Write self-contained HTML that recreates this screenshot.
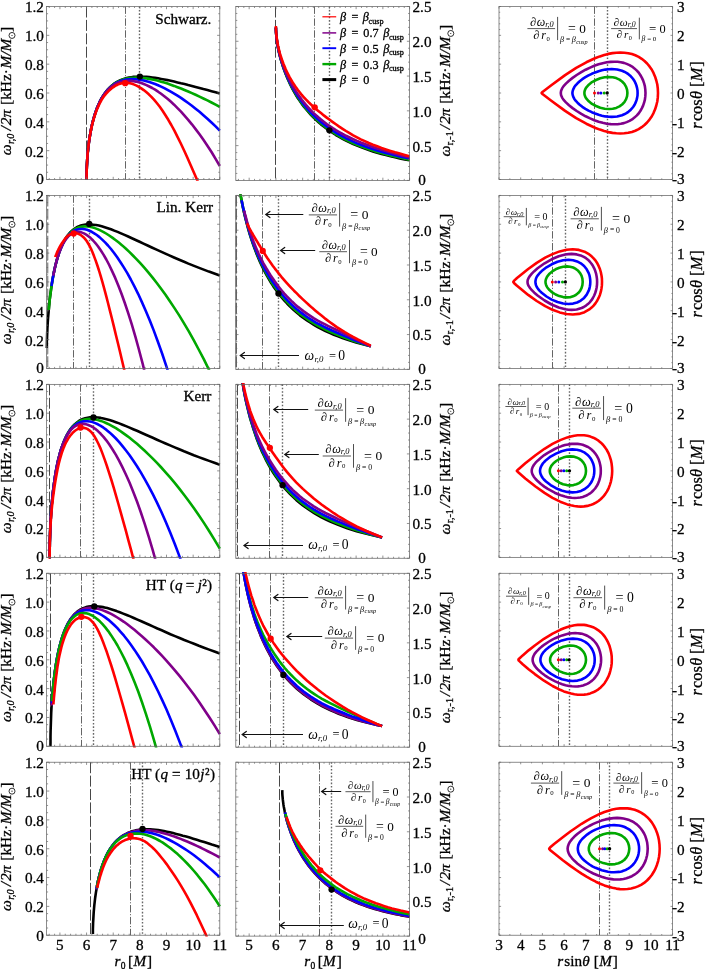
<!DOCTYPE html>
<html><head><meta charset="utf-8"><title>figure</title>
<style>
html,body{margin:0;padding:0;background:#fff;}
svg{display:block;will-change:transform;}
text{font-family:"Liberation Serif",serif;fill:#000;}
text.b{stroke:#000;stroke-width:0.3px;}
</style></head><body>
<svg width="706" height="969" viewBox="0 0 706 969">
<rect width="706" height="969" fill="#fff"/>
<clipPath id="c00"><rect x="45.3" y="5.2" width="175.8" height="175.6"/></clipPath>
<path d="M86.5 6.5V179.5" stroke="#333" stroke-width="0.9" stroke-dasharray="11 2.4" fill="none"/>
<path d="M125.5 6.5V179.5" stroke="#222" stroke-width="0.7" stroke-dasharray="7.4 1.7 1.1 1.7" fill="none"/>
<path d="M139.5 6.5V179.5" stroke="#666" stroke-width="1.4" stroke-dasharray="1.6 1.8" fill="none"/>
<path d="M86.6 179.5L86.6 176.8L86.6 173.6L86.7 170.3L86.8 166.9L87 163.5L87.2 160L87.4 156.4L87.7 152.9L88.1 149.3L88.5 145.8L88.9 142.2L89.4 138.7L90 135.3L90.6 131.9L91.2 128.5L91.9 125.2L92.7 122L93.5 118.9L94.4 115.9L95.3 112.9L96.3 110.1L97.3 107.3L98.5 104.7L99.6 102.1L100.8 99.7L102.1 97.4L103.5 95.2L104.9 93.2L106.4 91.2L107.9 89.4L109.5 87.7L111.1 86.2L112.9 84.7L114.6 83.4L116.5 82.2L118.4 81.2L120.4 80.2L122.4 79.4L124.5 78.7L126.7 78.1L129 77.6L131.3 77.2L133.6 76.9L136.1 76.7L138.6 76.6L141.2 76.6L143.8 76.7L146.5 76.9L149.3 77.1L152.2 77.5L155.1 77.9L158.1 78.3L161.1 78.9L164.3 79.5L167.5 80.1L170.7 80.8L174.1 81.6L177.5 82.4L181 83.3L184.5 84.1L188.2 85.1L191.9 86L195.6 87L199.5 88L203.4 89.1L207.4 90.1L211.5 91.2L215.6 92.3L219.8 93.4" stroke="#000000" stroke-width="2.6" fill="none" stroke-linejoin="round" stroke-linecap="butt" clip-path="url(#c00)"/>
<path d="M86.6 179.5L86.6 176.8L86.6 173.6L86.7 170.3L86.8 166.9L87 163.5L87.2 160L87.4 156.4L87.7 152.9L88.1 149.3L88.5 145.8L88.9 142.2L89.4 138.7L90 135.3L90.6 131.9L91.2 128.5L91.9 125.2L92.7 122L93.5 118.9L94.4 115.9L95.3 112.9L96.3 110.1L97.3 107.3L98.5 104.7L99.6 102.2L100.8 99.7L102.1 97.4L103.5 95.3L104.9 93.2L106.4 91.3L107.9 89.5L109.5 87.9L111.1 86.3L112.9 84.9L114.6 83.6L116.5 82.5L118.4 81.5L120.4 80.6L122.4 79.8L124.5 79.1L126.7 78.6L129 78.2L131.3 77.9L133.6 77.7L136.1 77.6L138.6 77.7L141.2 77.8L143.8 78.1L146.5 78.4L149.3 78.9L152.2 79.4L155.1 80.1L158.1 80.8L161.1 81.7L164.3 82.6L167.5 83.6L170.7 84.7L174.1 85.9L177.5 87.2L181 88.5L184.5 90L188.2 91.5L191.9 93.1L195.6 94.8L199.5 96.6L203.4 98.5L207.4 100.4L211.5 102.5L215.6 104.6L219.8 106.9" stroke="#00a800" stroke-width="2.6" fill="none" stroke-linejoin="round" stroke-linecap="butt" clip-path="url(#c00)"/>
<path d="M86.6 179.5L86.6 176.8L86.6 173.6L86.7 170.3L86.8 166.9L87 163.5L87.2 160L87.4 156.4L87.7 152.9L88.1 149.3L88.5 145.8L88.9 142.2L89.4 138.7L90 135.3L90.6 131.9L91.2 128.5L91.9 125.2L92.7 122L93.5 118.9L94.4 115.9L95.3 112.9L96.3 110.1L97.3 107.3L98.5 104.7L99.6 102.2L100.8 99.8L102.1 97.5L103.5 95.4L104.9 93.3L106.4 91.4L107.9 89.7L109.5 88.1L111.1 86.6L112.9 85.2L114.6 84L116.5 82.9L118.4 81.9L120.4 81.1L122.4 80.5L124.5 79.9L126.7 79.5L129 79.3L131.3 79.1L133.6 79.1L136.1 79.3L138.6 79.6L141.2 80L143.8 80.5L146.5 81.2L149.3 82L152.2 83L155.1 84L158.1 85.3L161.1 86.6L164.3 88.1L167.5 89.8L170.7 91.6L174.1 93.6L177.5 95.7L181 97.9L184.5 100.4L188.2 103L191.9 105.7L195.6 108.7L199.5 111.8L203.4 115.2L207.4 118.7L211.5 122.5L215.6 126.4L219.8 130.6" stroke="#0000ff" stroke-width="2.6" fill="none" stroke-linejoin="round" stroke-linecap="butt" clip-path="url(#c00)"/>
<path d="M86.6 179.5L86.6 176.8L86.6 173.6L86.7 170.3L86.8 166.9L87 163.5L87.2 160L87.4 156.4L87.7 152.9L88.1 149.3L88.5 145.8L88.9 142.2L89.4 138.7L90 135.3L90.6 131.9L91.2 128.5L91.9 125.3L92.7 122L93.5 118.9L94.4 115.9L95.3 113L96.3 110.1L97.3 107.4L98.5 104.8L99.6 102.3L100.8 99.9L102.1 97.6L103.5 95.5L104.9 93.5L106.4 91.6L107.9 89.9L109.5 88.3L111.1 86.9L112.9 85.6L114.6 84.5L116.5 83.5L118.4 82.6L120.4 82L122.4 81.4L124.5 81.1L126.7 80.8L129 80.8L131.3 80.9L133.6 81.2L136.1 81.6L138.6 82.2L141.2 83L143.8 84L146.5 85.1L149.3 86.5L152.2 88L155.1 89.7L158.1 91.7L161.1 93.8L164.3 96.2L167.5 98.8L170.7 101.6L174.1 104.7L177.5 108.1L181 111.7L184.5 115.6L188.2 119.8L191.9 124.3L195.6 129.1L199.5 134.3L203.4 139.8L207.4 145.7L211.5 152L215.6 158.8L219.8 166" stroke="#80008a" stroke-width="2.6" fill="none" stroke-linejoin="round" stroke-linecap="butt" clip-path="url(#c00)"/>
<path d="M86.6 179.5L86.6 177L86.6 174.1L86.7 171.1L86.8 168L86.9 164.9L87.1 161.7L87.3 158.5L87.5 155.2L87.8 152L88.2 148.7L88.5 145.5L88.9 142.3L89.4 139.1L89.9 136L90.4 132.9L91 129.9L91.7 126.9L92.3 124L93.1 121.2L93.9 118.4L94.7 115.7L95.6 113.1L96.5 110.6L97.5 108.2L98.5 105.9L99.5 103.7L100.7 101.6L101.8 99.5L103.1 97.6L104.4 95.8L105.7 94.1L107.1 92.6L108.5 91.1L110 89.7L111.5 88.4L113.1 87.3L114.8 86.2L116.5 85.2L118.2 84.4L120.1 83.7L121.9 83.2L123.8 82.9L125.8 82.8L127.9 82.9L130 83.2L132.1 83.8L134.3 84.6L136.6 85.6L138.9 86.9L141.3 88.4L143.7 90.1L146.2 92.1L148.8 94.3L151.4 96.9L154 99.7L156.8 103L159.6 106.5L162.4 110.5L165.3 115L168.3 119.8L171.3 125L174.4 130.7L177.5 136.8L180.7 143.3L184 150.2L187.3 157.5L190.7 165.2L194.2 173.2L197.7 181.3" stroke="#ff0000" stroke-width="2.6" fill="none" stroke-linejoin="round" stroke-linecap="butt" clip-path="url(#c00)"/>
<circle cx="125.21" cy="83.2" r="3.15" fill="#ff0000"/>
<circle cx="139.86" cy="76.56" r="3.15" fill="#000000"/>
<clipPath id="c10"><rect x="234.5" y="5.2" width="176.4" height="176.5"/></clipPath>
<path d="M275.5 6.5V180.4" stroke="#333" stroke-width="0.9" stroke-dasharray="11 2.4" fill="none"/>
<path d="M314.5 6.5V180.4" stroke="#222" stroke-width="0.7" stroke-dasharray="7.4 1.7 1.1 1.7" fill="none"/>
<path d="M329.5 6.5V180.4" stroke="#666" stroke-width="1.4" stroke-dasharray="1.6 1.8" fill="none"/>
<path d="M275.9 27.5L275.9 29.1L276 31L276.1 33.1L276.3 35.2L276.5 37.5L276.8 39.9L277.1 42.4L277.6 45L278 47.7L278.6 50.5L279.2 53.3L279.9 56.1L280.7 59.1L281.6 62L282.5 65L283.5 68L284.6 71.1L285.7 74.1L287 77.2L288.3 80.2L289.7 83.3L291.2 86.3L292.7 89.3L294.4 92.3L296.1 95.3L297.9 98.2L299.9 101L301.8 103.9L303.9 106.6L306.1 109.3L308.4 112L310.7 114.6L313.1 117.1L315.7 119.6L318.3 122L321 124.4L323.8 126.6L326.7 128.8L329.7 131L332.8 133L335.9 135L339.2 136.9L342.6 138.8L346 140.6L349.6 142.3L353.2 144L357 145.6L360.8 147.1L364.8 148.6L368.8 150L372.9 151.4L377.2 152.7L381.5 153.9L385.9 155.1L390.5 156.2L395.1 157.3L399.8 158.4L404.7 159.4L409.6 160.3" stroke="#000000" stroke-width="2.6" fill="none" stroke-linejoin="round" stroke-linecap="butt" clip-path="url(#c10)"/>
<path d="M275.9 27.5L275.9 29.1L276 31L276.1 33L276.3 35.2L276.5 37.5L276.8 39.9L277.1 42.4L277.6 45L278 47.6L278.6 50.4L279.2 53.1L279.9 56L280.7 58.9L281.6 61.8L282.5 64.8L283.5 67.8L284.6 70.8L285.7 73.8L287 76.8L288.3 79.8L289.7 82.8L291.2 85.8L292.7 88.8L294.4 91.7L296.1 94.7L297.9 97.5L299.9 100.4L301.8 103.2L303.9 105.9L306.1 108.6L308.4 111.3L310.7 113.8L313.1 116.4L315.7 118.8L318.3 121.2L321 123.5L323.8 125.8L326.7 128L329.7 130.1L332.8 132.2L335.9 134.2L339.2 136.1L342.6 138L346 139.8L349.6 141.5L353.2 143.2L357 144.8L360.8 146.3L364.8 147.8L368.8 149.2L372.9 150.6L377.2 151.9L381.5 153.1L385.9 154.3L390.5 155.5L395.1 156.6L399.8 157.6L404.7 158.7L409.6 159.6" stroke="#00a800" stroke-width="2.6" fill="none" stroke-linejoin="round" stroke-linecap="butt" clip-path="url(#c10)"/>
<path d="M275.9 27.5L275.9 29.1L276 31L276.1 33L276.3 35.2L276.5 37.5L276.8 39.8L277.1 42.3L277.6 44.9L278 47.5L278.6 50.2L279.2 52.9L279.9 55.7L280.7 58.5L281.6 61.4L282.5 64.3L283.5 67.2L284.6 70.2L285.7 73.1L287 76.1L288.3 79L289.7 81.9L291.2 84.8L292.7 87.7L294.4 90.6L296.1 93.4L297.9 96.2L299.9 99L301.8 101.8L303.9 104.5L306.1 107.2L308.4 109.8L310.7 112.3L313.1 114.8L315.7 117.3L318.3 119.6L321 122L323.8 124.2L326.7 126.4L329.7 128.5L332.8 130.6L335.9 132.6L339.2 134.5L342.6 136.4L346 138.2L349.6 139.9L353.2 141.6L357 143.2L360.8 144.7L364.8 146.2L368.8 147.7L372.9 149.1L377.2 150.4L381.5 151.7L385.9 152.9L390.5 154.1L395.1 155.3L399.8 156.4L404.7 157.5L409.6 158.6" stroke="#0000ff" stroke-width="2.6" fill="none" stroke-linejoin="round" stroke-linecap="butt" clip-path="url(#c10)"/>
<path d="M275.9 27.5L275.9 29.1L276 31L276.1 33L276.3 35.2L276.5 37.4L276.8 39.7L277.1 42.2L277.6 44.7L278 47.2L278.6 49.9L279.2 52.5L279.9 55.3L280.7 58L281.6 60.8L282.5 63.6L283.5 66.4L284.6 69.3L285.7 72.1L287 74.9L288.3 77.7L289.7 80.5L291.2 83.3L292.7 86.1L294.4 88.9L296.1 91.6L297.9 94.3L299.9 97L301.8 99.7L303.9 102.4L306.1 105L308.4 107.6L310.7 110.1L313.1 112.6L315.7 114.9L318.3 117.3L321 119.6L323.8 121.8L326.7 124L329.7 126.1L332.8 128.2L335.9 130.2L339.2 132.1L342.6 134L346 135.8L349.6 137.5L353.2 139.2L357 140.9L360.8 142.5L364.8 144L368.8 145.5L372.9 147L377.2 148.4L381.5 149.8L385.9 151.1L390.5 152.4L395.1 153.7L399.8 155L404.7 156.3L409.6 157.6" stroke="#80008a" stroke-width="2.6" fill="none" stroke-linejoin="round" stroke-linecap="butt" clip-path="url(#c10)"/>
<path d="M275.9 26.1L275.9 27.7L276 29.6L276.1 31.6L276.3 33.7L276.5 35.9L276.8 38.2L277.1 40.6L277.6 43L278 45.5L278.6 48.1L279.2 50.7L279.9 53.3L280.7 55.9L281.6 58.6L282.5 61.3L283.5 64L284.6 66.6L285.7 69.3L287 72L288.3 74.6L289.7 77.3L291.2 79.9L292.7 82.5L294.4 85L296.1 87.6L297.9 90.1L299.9 92.5L301.8 95L303.9 97.3L306.1 99.7L308.4 102L310.7 104.2L313.1 106.5L315.7 108.7L318.3 110.9L321 113.1L323.8 115.4L326.7 117.6L329.7 119.8L332.8 122.1L335.9 124.3L339.2 126.6L342.6 128.8L346 131L349.6 133.2L353.2 135.3L357 137.3L360.8 139.3L364.8 141.2L368.8 143L372.9 144.7L377.2 146.3L381.5 147.9L385.9 149.4L390.5 150.9L395.1 152.3L399.8 153.6L404.7 154.9L409.6 156.2" stroke="#ff0000" stroke-width="2.6" fill="none" stroke-linejoin="round" stroke-linecap="butt" clip-path="url(#c10)"/>
<circle cx="314.68" cy="107.36" r="3.15" fill="#ff0000"/>
<circle cx="329.38" cy="130.32" r="3.15" fill="#000000"/>
<clipPath id="c20"><rect x="497.7" y="5.2" width="176.2" height="175.6"/></clipPath>
<path d="M594.5 6.5V179.5" stroke="#222" stroke-width="0.7" stroke-dasharray="7.4 1.7 1.1 1.7" fill="none"/>
<path d="M607.5 6.5V179.5" stroke="#666" stroke-width="1.4" stroke-dasharray="1.6 1.8" fill="none"/>
<path d="M541.6 93L542.8 91.7L551.3 85.2L565.1 75.1L576.2 67.9L586.3 62.3L595.5 58L599.9 56.4L604.2 55L608.4 53.9L612.5 53.1L616.4 52.7L620.3 52.5L624.3 52.7L628.2 53.2L631.9 54.1L635.3 55.3L638.7 56.9L641.7 58.8L644.5 61L647.1 63.5L649.5 66.4L651.7 69.5L653.5 72.9L655.1 76.7L656.3 80.5L657.3 84.5L657.8 88.6L658 93L657.8 97.4L657.3 101.5L656.3 105.5L655.1 109.3L653.5 113.1L651.7 116.5L649.5 119.6L647.1 122.5L644.5 125L641.7 127.2L638.7 129.1L635.3 130.7L631.9 131.9L628.2 132.8L624.3 133.3L620.3 133.5L616.4 133.3L612.5 132.9L608.4 132.1L604.2 131L599.9 129.6L595.5 128L586.3 123.7L576.2 118.1L565.1 110.9L551.3 100.8L542.8 94.3Z" stroke="#ff0000" stroke-width="2.6" fill="none" stroke-linejoin="round"/>
<path d="M560.8 93L561.1 90.7L562.1 88.4L563.6 86.1L565.9 83.6L569 80.7L572.6 77.9L576.7 75L581.3 72.1L585.6 69.7L590.1 67.6L594.3 65.8L598.6 64.3L602.7 63.2L606.8 62.3L610.7 61.9L614.4 61.7L617.6 61.8L620.8 62.3L623.9 62.9L626.7 63.9L629.5 65.1L632.1 66.6L634.4 68.4L636.6 70.4L638.6 72.5L640.3 75L641.8 77.6L643.1 80.4L644.1 83.3L644.9 86.4L645.3 89.6L645.5 93L645.3 96.4L644.9 99.6L644.1 102.7L643.1 105.6L641.8 108.4L640.3 111L638.6 113.5L636.6 115.6L634.4 117.6L632.1 119.4L629.5 120.9L626.7 122.1L623.9 123.1L620.8 123.7L617.6 124.2L614.4 124.3L610.7 124.1L606.8 123.7L602.7 122.8L598.6 121.7L594.3 120.2L590.1 118.4L585.6 116.3L581.3 113.9L576.7 111L572.6 108.1L569 105.3L565.9 102.4L563.6 99.9L562.1 97.6L561.1 95.3Z" stroke="#80008a" stroke-width="2.6" fill="none" stroke-linejoin="round"/>
<path d="M572.4 93L572.6 91.3L573.2 89.3L574.2 87.3L575.6 85.3L577.5 83.3L579.7 81.3L582.3 79.2L585.4 77.2L588.5 75.4L591.8 73.8L595.2 72.4L598.6 71.2L601.9 70.3L605.3 69.6L608.6 69.2L611.7 69.1L614.5 69.2L617.2 69.5L622 70.8L624.2 71.7L626.4 72.9L628.4 74.2L630.2 75.7L631.7 77.3L633.3 79.3L634.6 81.3L635.7 83.6L636.5 85.8L637.1 88.1L637.5 90.4L637.6 93L637.5 95.6L637.1 97.9L636.5 100.2L635.7 102.4L634.6 104.7L633.3 106.7L631.7 108.7L630.2 110.3L628.4 111.8L626.4 113.1L624.2 114.3L622 115.2L617.2 116.5L614.5 116.8L611.7 116.9L608.6 116.8L605.3 116.4L601.9 115.7L598.6 114.8L595.2 113.6L591.8 112.2L588.5 110.6L585.4 108.8L582.3 106.8L579.7 104.7L577.5 102.7L575.6 100.7L574.2 98.7L573.2 96.7L572.6 94.7Z" stroke="#0000ff" stroke-width="2.6" fill="none" stroke-linejoin="round"/>
<path d="M584.4 93L584.5 91.6L584.9 90.2L585.5 88.7L586.4 87.3L588.8 84.7L592 82.1L596 80L600.3 78.3L604.7 77.3L609 77L612.7 77.3L616.2 78.1L619.5 79.6L622.1 81.5L624.4 83.9L626.1 86.8L627.1 89.9L627.4 93L627.1 96.1L626.1 99.2L624.4 102.1L622.1 104.5L619.5 106.4L616.2 107.9L612.7 108.7L609 109L604.7 108.7L600.3 107.7L596 106L592 103.9L588.8 101.3L586.4 98.7L585.5 97.3L584.9 95.8L584.5 94.4Z" stroke="#00a800" stroke-width="2.6" fill="none" stroke-linejoin="round"/>
<circle cx="594.5" cy="93" r="1.5" fill="#ff0000"/>
<circle cx="598.2" cy="93" r="1.5" fill="#80008a"/>
<circle cx="600.9" cy="93" r="1.5" fill="#0000ff"/>
<circle cx="604.2" cy="93" r="1.5" fill="#00a800"/>
<circle cx="607.2" cy="93" r="1.65" fill="#000"/>
<clipPath id="c01"><rect x="45.3" y="194.13" width="175.8" height="175.6"/></clipPath>
<path d="M47.7 195.43V368.43" stroke="#8a8a8a" stroke-width="1.3" stroke-dasharray="11 2.4" fill="none"/>
<path d="M73.5 195.43V368.43" stroke="#222" stroke-width="0.7" stroke-dasharray="7.4 1.7 1.1 1.7" fill="none"/>
<path d="M89.5 195.43V368.43" stroke="#666" stroke-width="1.4" stroke-dasharray="1.6 1.8" fill="none"/>
<path d="M46.6 348.1L46.6 347.5L46.7 345.6L46.8 342.4L46.9 338.3L47.1 333.6L47.4 328.5L47.7 323.1L48.1 317.5L48.6 311.9L49.1 306.2L49.6 300.6L50.3 295L51 289.6L51.8 284.3L52.6 279.1L53.6 274.1L54.5 269.3L55.6 264.7L56.7 260.3L58 256.1L59.2 252.2L60.6 248.6L62 245.2L63.6 242.1L65.2 239.2L66.8 236.6L68.6 234.3L70.4 232.2L72.3 230.4L74.3 228.8L76.4 227.5L78.5 226.4L80.8 225.6L83.1 225L85.5 224.6L88 224.4L90.6 224.4L93.2 224.7L96 225L98.8 225.6L101.7 226.3L104.7 227.2L107.8 228.2L111 229.3L114.2 230.6L117.6 231.9L121 233.4L124.5 234.9L128.2 236.5L131.9 238.2L135.7 240L139.6 241.8L143.5 243.6L147.6 245.5L151.8 247.5L156 249.4L160.4 251.4L164.8 253.4L169.3 255.4L174 257.5L178.7 259.5L183.5 261.5L188.4 263.6L193.4 265.6L198.5 267.6L203.7 269.6L208.9 271.6L214.3 273.5L219.8 275.5" stroke="#000000" stroke-width="2.6" fill="none" stroke-linejoin="round" stroke-linecap="butt" clip-path="url(#c01)"/>
<path d="M48.7 310L48.7 309.9L48.8 309.2L48.9 308.1L49 306.5L49.3 304.4L49.5 301.9L49.8 298.9L50.2 295.7L50.7 292.2L51.2 288.5L51.7 284.6L52.4 280.6L53.1 276.6L53.8 272.6L54.7 268.7L55.6 264.8L56.6 261L57.6 257.3L58.7 253.8L59.9 250.4L61.2 247.2L62.6 244.2L64 241.5L65.5 238.9L67.1 236.6L68.7 234.5L70.4 232.6L72.2 231L74.1 229.6L76.1 228.5L78.1 227.6L80.3 227L82.5 226.6L84.8 226.4L87.2 226.5L89.6 226.8L92.1 227.3L94.8 228.1L97.5 229.1L100.3 230.4L103.2 231.8L106.1 233.5L109.2 235.5L112.3 237.6L115.5 240L118.8 242.6L122.2 245.4L125.7 248.5L129.3 251.9L132.9 255.5L136.7 259.3L140.5 263.4L144.5 267.9L148.5 272.6L152.6 277.6L156.8 283L161.1 288.7L165.5 294.7L169.9 301.2L174.5 308.1L179.2 315.4L183.9 323.1L188.8 331.4L193.7 340.2L198.7 349.5L203.9 359.4L209.1 370L214.4 381.2" stroke="#00a800" stroke-width="2.6" fill="none" stroke-linejoin="round" stroke-linecap="butt" clip-path="url(#c01)"/>
<path d="M51.5 286L51.5 285.9L51.6 285.5L51.7 284.9L51.8 283.9L52 282.6L52.3 281L52.6 279.2L53 277.1L53.4 274.8L53.9 272.2L54.5 269.6L55.1 266.8L55.8 264L56.6 261.1L57.4 258.2L58.3 255.3L59.2 252.4L60.3 249.7L61.4 247L62.6 244.5L63.8 242.1L65.1 239.8L66.5 237.8L68 235.9L69.6 234.2L71.2 232.7L72.9 231.5L74.7 230.5L76.5 229.7L78.5 229.2L80.5 229L82.6 229L84.7 229.3L87 229.8L89.3 230.7L91.7 231.8L94.2 233.3L96.8 235L99.5 237.1L102.2 239.6L105.1 242.4L108 245.5L111 249L114.1 253L117.2 257.3L120.5 262.2L123.8 267.4L127.3 273.2L130.8 279.5L134.4 286.4L138.1 293.8L141.8 301.9L145.7 310.7L149.7 320.2L153.7 330.4L157.8 341.5L162.1 353.5L166.4 366.4L170.8 380.2" stroke="#0000ff" stroke-width="2.6" fill="none" stroke-linejoin="round" stroke-linecap="butt" clip-path="url(#c01)"/>
<path d="M53.3 275.5L53.3 275.4L53.4 275.2L53.5 274.6L53.6 273.9L53.8 272.9L54.1 271.6L54.4 270.2L54.7 268.5L55.2 266.6L55.7 264.6L56.2 262.4L56.8 260.2L57.5 257.8L58.3 255.5L59.1 253.1L60 250.7L60.9 248.4L62 246.1L63 243.9L64.2 241.9L65.4 240L66.8 238.2L68.1 236.6L69.6 235.3L71.1 234.1L72.7 233.2L74.4 232.5L76.2 232.1L78 231.9L79.9 232.1L81.9 232.6L84 233.4L86.2 234.6L88.4 236.2L90.7 238.1L93.1 240.5L95.6 243.3L98.1 246.5L100.7 250.3L103.5 254.6L106.3 259.5L109.2 265L112.1 271.1L115.2 277.9L118.3 285.5L121.5 293.8L124.8 303L128.2 313.1L131.7 324.1L135.3 336.3L138.9 349.5L142.7 363.9L146.5 379.7" stroke="#80008a" stroke-width="2.6" fill="none" stroke-linejoin="round" stroke-linecap="butt" clip-path="url(#c01)"/>
<path d="M55.4 256.9L55.4 256.9L55.4 256.8L55.5 256.7L55.5 256.5L55.6 256.3L55.7 256L55.8 255.6L56 255.2L56.2 254.7L56.4 254.1L56.6 253.5L56.9 252.9L57.1 252.2L57.5 251.5L57.8 250.8L58.2 250L58.6 249.2L59 248.3L59.4 247.5L59.9 246.6L60.4 245.7L61 244.8L61.5 243.8L62.2 242.9L62.8 241.9L63.5 240.9L64.2 239.9L64.9 238.9L65.6 238L66.4 237.1L67.3 236.3L68.1 235.6L69 235L69.9 234.4L70.9 234L71.9 233.7L72.9 233.4L74 233.3L75.1 233.2L76.2 233.3L77.4 233.5L78.5 233.9L79.8 234.5L81 235.2L82.3 236.2L83.7 237.4L85 238.9L86.5 240.8L87.9 243L89.4 245.6L90.9 248.6L92.4 252.1L94 256.1L95.6 260.4L97.3 265.3L99 270.5L100.7 276.2L102.5 282.3L104.3 288.8L106.1 295.7L108 303L109.9 310.6L111.9 318.5L113.9 326.6L115.9 335L118 343.5L120.1 352.3L122.2 361.3L124.4 370.5" stroke="#ff0000" stroke-width="2.6" fill="none" stroke-linejoin="round" stroke-linecap="butt" clip-path="url(#c01)"/>
<circle cx="73.67" cy="233.49" r="3.15" fill="#ff0000"/>
<circle cx="89.23" cy="223.9" r="3.15" fill="#000000"/>
<clipPath id="c11"><rect x="234.5" y="194.13" width="176.4" height="176.5"/></clipPath>
<path d="M236.2 195.43V369.33" stroke="#333" stroke-width="1.1" stroke-dasharray="11 2.4" fill="none"/>
<path d="M262.5 195.43V369.33" stroke="#222" stroke-width="0.7" stroke-dasharray="7.4 1.7 1.1 1.7" fill="none"/>
<path d="M278.5 195.43V369.33" stroke="#666" stroke-width="1.4" stroke-dasharray="1.6 1.8" fill="none"/>
<path d="M235.8 153.2L235.8 153.6L235.9 154.8L236 156.7L236.2 159.3L236.4 162.3L236.7 165.7L237 169.4L237.5 173.3L238 177.5L238.5 181.8L239.2 186.2L239.9 190.7L240.6 195.4L241.5 200.1L242.4 204.9L243.4 209.8L244.5 214.6L245.7 219.5L247 224.4L248.3 229.3L249.7 234.1L251.2 238.9L252.8 243.6L254.5 248.3L256.2 252.9L258.1 257.5L260 261.9L262 266.2L264.1 270.5L266.3 274.6L268.6 278.7L270.9 282.6L273.4 286.4L276 290L278.6 293.6L281.3 297L284.2 300.3L287.1 303.5L290.1 306.6L293.2 309.5L296.4 312.3L299.7 315.1L303.1 317.7L306.6 320.1L310.2 322.5L313.9 324.8L317.7 327L321.6 329L325.5 331L329.6 332.9L333.8 334.7L338.1 336.4L342.4 338L346.9 339.6L351.5 341.1L356.2 342.5L361 343.8L365.8 345.1L370.8 346.3" stroke="#000000" stroke-width="2.6" fill="none" stroke-linejoin="round" stroke-linecap="butt" clip-path="url(#c11)"/>
<path d="M235.8 153.2L235.8 153.6L235.9 154.8L236 156.7L236.2 159.3L236.4 162.3L236.7 165.7L237 169.3L237.5 173.2L238 177.3L238.5 181.6L239.2 185.9L239.9 190.4L240.6 195L241.5 199.7L242.4 204.4L243.4 209.2L244.5 214L245.7 218.8L247 223.7L248.3 228.5L249.7 233.3L251.2 238L252.8 242.7L254.5 247.3L256.2 251.9L258.1 256.4L260 260.7L262 265L264.1 269.2L266.3 273.3L268.6 277.3L270.9 281.2L273.4 285L276 288.6L278.6 292.2L281.3 295.6L284.2 298.9L287.1 302.1L290.1 305.2L293.2 308.1L296.4 310.9L299.7 313.7L303.1 316.3L306.6 318.7L310.2 321.1L313.9 323.4L317.7 325.6L321.6 327.7L325.5 329.6L329.6 331.5L333.8 333.3L338.1 335.1L342.4 336.8L346.9 338.5L351.5 340.2L356.2 341.8L361 343.3L365.8 344.8L370.8 346.3" stroke="#00a800" stroke-width="2.6" fill="none" stroke-linejoin="round" stroke-linecap="butt" clip-path="url(#c11)"/>
<path d="M241.7 200.3L241.7 200.4L241.7 200.7L241.8 201.2L242 202.1L242.2 203.2L242.5 204.5L242.8 206.1L243.2 208L243.7 210.1L244.3 212.5L244.9 215L245.5 217.8L246.3 220.7L247.1 223.8L248 226.9L249 230.2L250 233.6L251.1 237.1L252.3 240.6L253.6 244.1L255 247.7L256.4 251.3L257.9 254.8L259.5 258.4L261.2 261.9L262.9 265.4L264.8 268.9L266.7 272.3L268.7 275.7L270.8 279L273 282.3L275.3 285.6L277.6 288.8L280.1 292L282.6 295L285.2 298L287.9 300.9L290.7 303.7L293.6 306.4L296.6 309L299.7 311.5L302.8 313.9L306.1 316.3L309.4 318.5L312.8 320.7L316.4 322.8L320 324.7L323.7 326.6L327.5 328.5L331.4 330.2L335.4 332L339.5 333.8L343.7 335.6L348 337.4L352.3 339.2L356.8 341L361.4 342.8L366.1 344.5L370.8 346.3" stroke="#0000ff" stroke-width="2.6" fill="none" stroke-linejoin="round" stroke-linecap="butt" clip-path="url(#c11)"/>
<path d="M244.2 210.7L244.2 210.8L244.3 211L244.4 211.5L244.5 212.1L244.7 213L245 214.1L245.4 215.4L245.8 216.9L246.2 218.7L246.7 220.6L247.3 222.7L248 225L248.7 227.4L249.5 230L250.4 232.7L251.4 235.5L252.4 238.4L253.5 241.4L254.7 244.4L255.9 247.4L257.2 250.5L258.6 253.7L260.1 256.8L261.7 259.9L263.3 263.1L265.1 266.2L266.9 269.3L268.8 272.4L270.7 275.5L272.8 278.5L274.9 281.6L277.2 284.7L279.5 287.7L281.9 290.7L284.3 293.6L286.9 296.4L289.6 299.1L292.3 301.8L295.1 304.4L298 306.9L301.1 309.3L304.1 311.6L307.3 313.9L310.6 316.1L314 318.3L317.4 320.3L321 322.3L324.6 324.2L328.4 326.1L332.2 327.9L336.1 329.7L340.1 331.7L344.2 333.7L348.4 335.7L352.7 337.8L357.1 339.9L361.6 342L366.2 344.2L370.8 346.3" stroke="#80008a" stroke-width="2.6" fill="none" stroke-linejoin="round" stroke-linecap="butt" clip-path="url(#c11)"/>
<path d="M246.9 223.3L246.9 223.3L247 223.4L247.1 223.7L247.3 224L247.5 224.5L247.7 225L248.1 225.7L248.5 226.5L248.9 227.4L249.4 228.4L250 229.5L250.7 230.7L251.4 231.9L252.2 233.2L253 234.7L253.9 236.2L254.9 237.9L256 239.7L257.2 241.6L258.4 243.7L259.7 245.8L261.1 248.1L262.5 250.5L264.1 253L265.7 255.5L267.3 258L269.1 260.6L271 263.2L272.9 265.9L274.9 268.6L277 271.3L279.2 274.1L281.4 276.8L283.8 279.6L286.2 282.3L288.7 285.1L291.3 287.9L294 290.7L296.8 293.4L299.6 296.3L302.6 299.1L305.6 301.9L308.7 304.7L311.9 307.6L315.2 310.4L318.6 313.3L322.1 316.1L325.6 318.9L329.3 321.7L333 324.4L336.8 327.1L340.8 329.6L344.8 332.1L348.9 334.5L353.1 336.9L357.4 339.2L361.8 341.4L366.3 343.6L370.8 345.7" stroke="#ff0000" stroke-width="2.6" fill="none" stroke-linejoin="round" stroke-linecap="butt" clip-path="url(#c11)"/>
<circle cx="262.75" cy="250.9" r="3.15" fill="#ff0000"/>
<circle cx="278.45" cy="293.51" r="3.15" fill="#000000"/>
<clipPath id="c21"><rect x="497.7" y="194.13" width="176.2" height="175.6"/></clipPath>
<path d="M552.5 195.43V368.43" stroke="#222" stroke-width="0.7" stroke-dasharray="7.4 1.7 1.1 1.7" fill="none"/>
<path d="M565.5 195.43V368.43" stroke="#666" stroke-width="1.4" stroke-dasharray="1.6 1.8" fill="none"/>
<path d="M513.3 281.9L514.2 280.6L517 278L528.2 269L536.7 262.9L545.2 257.7L552.5 254.1L559.7 251.4L566.5 249.8L572.8 249.3L578.9 249.9L584.5 251.7L589.3 254.4L591.6 256.3L593.6 258.3L595.6 260.7L597.3 263.3L598.6 265.9L599.9 269L600.8 272L601.5 275.4L601.9 278.5L602 281.9L601.9 285.4L601.5 288.4L600.8 291.9L599.9 294.9L598.6 297.9L597.3 300.5L595.6 303.1L593.6 305.6L591.6 307.6L589.3 309.4L584.5 312.2L578.9 313.9L572.8 314.5L566.5 314L559.7 312.4L552.5 309.8L545.2 306.2L536.7 301L528.2 294.9L517 285.8L514.2 283.2Z" stroke="#ff0000" stroke-width="2.6" fill="none" stroke-linejoin="round"/>
<path d="M527.5 281.9L527.7 280.1L528.6 278L530 275.8L531.8 273.7L534.3 271.2L537.6 268.3L544.6 263.3L551.6 259.3L558.7 256.3L565.3 254.5L568.4 254.1L571.6 253.9L576.7 254.4L581.6 255.8L583.8 256.9L586 258.2L587.9 259.7L589.7 261.5L591.5 263.7L592.9 265.8L594.2 268.3L595.2 270.8L596 273.3L596.6 276.2L597 279.1L597.1 281.9L597 284.8L596.6 287.7L596 290.5L595.2 293L594.2 295.5L592.9 298L591.5 300.2L589.7 302.3L587.9 304.1L586 305.6L583.8 307L581.6 308L576.7 309.5L571.6 309.9L568.4 309.8L565.3 309.3L558.7 307.5L551.6 304.5L544.6 300.5L537.6 295.5L534.3 292.7L531.8 290.2L530 288L528.6 285.9L527.7 283.7Z" stroke="#80008a" stroke-width="2.6" fill="none" stroke-linejoin="round"/>
<path d="M535.4 281.9L535.6 280.2L536 278.5L536.8 276.8L538.2 274.8L539.7 273L541.7 271.1L546.5 267.3L551.7 264.3L557.5 261.8L563.2 260.3L568.5 259.8L573.1 260.2L577.1 261.4L580.8 263.3L584.1 266L586.7 269.3L588.7 273.1L589.4 275.1L589.9 277.5L590.2 279.6L590.3 281.9L590.2 284.3L589.9 286.3L589.4 288.7L588.7 290.7L586.7 294.6L584.1 297.9L580.8 300.6L577.1 302.5L573.1 303.6L568.5 304L563.2 303.5L557.5 302L551.7 299.6L546.5 296.5L541.7 292.8L539.7 290.9L538.2 289.1L536.8 287L536 285.3L535.6 283.6Z" stroke="#0000ff" stroke-width="2.6" fill="none" stroke-linejoin="round"/>
<path d="M545.5 281.9L545.6 280.6L546 279.1L546.6 277.7L547.3 276.3L549.5 273.7L552.2 271.4L555.6 269.3L559.3 267.8L563.2 266.8L566.9 266.4L570.1 266.7L573.1 267.5L575.8 268.9L578.2 270.8L580.1 273.1L581.5 275.7L582.4 278.6L582.7 281.9L582.4 285.2L581.5 288.2L580.1 290.8L578.2 293.1L575.8 295L573.1 296.3L570.1 297.2L566.9 297.4L563.2 297.1L559.3 296.1L555.6 294.5L552.2 292.4L549.5 290.1L547.3 287.5L546.6 286.2L546 284.7L545.6 283.2Z" stroke="#00a800" stroke-width="2.6" fill="none" stroke-linejoin="round"/>
<circle cx="552.3" cy="281.93" r="1.5" fill="#ff0000"/>
<circle cx="555.6" cy="281.93" r="1.5" fill="#80008a"/>
<circle cx="558.8" cy="281.93" r="1.5" fill="#0000ff"/>
<circle cx="562.5" cy="281.93" r="1.5" fill="#00a800"/>
<circle cx="565.4" cy="281.93" r="1.65" fill="#000"/>
<clipPath id="c02"><rect x="45.3" y="383.06" width="175.8" height="175.6"/></clipPath>
<path d="M49.5 384.36V557.36" stroke="#333" stroke-width="0.9" stroke-dasharray="11 2.4" fill="none"/>
<path d="M80.5 384.36V557.36" stroke="#222" stroke-width="0.7" stroke-dasharray="7.4 1.7 1.1 1.7" fill="none"/>
<path d="M93.5 384.36V557.36" stroke="#666" stroke-width="1.4" stroke-dasharray="1.6 1.8" fill="none"/>
<path d="M49.3 557.4L49.3 557.4L49.3 557.4L49.4 557.4L49.6 557.4L49.8 542.9L50.1 533.3L50.4 525.5L50.8 518.3L51.2 511.4L51.7 504.9L52.3 498.6L52.9 492.5L53.6 486.6L54.4 480.9L55.2 475.4L56.1 470.1L57.1 465.1L58.1 460.3L59.3 455.7L60.4 451.4L61.7 447.4L63.1 443.6L64.5 440L66 436.8L67.5 433.8L69.2 431L70.9 428.5L72.7 426.3L74.6 424.4L76.6 422.7L78.6 421.2L80.7 420L82.9 419L85.2 418.2L87.6 417.7L90 417.4L92.6 417.2L95.2 417.3L97.9 417.5L100.7 417.9L103.5 418.5L106.5 419.2L109.5 420.1L112.6 421.1L115.9 422.2L119.2 423.4L122.5 424.7L126 426.1L129.6 427.6L133.2 429.2L137 430.8L140.8 432.5L144.7 434.2L148.7 436L152.8 437.8L157 439.7L161.3 441.6L165.6 443.5L170.1 445.4L174.7 447.4L179.3 449.3L184 451.3L188.9 453.2L193.8 455.2L198.8 457.1L203.9 459L209.1 460.9L214.4 462.8L219.8 464.7" stroke="#000000" stroke-width="2.6" fill="none" stroke-linejoin="round" stroke-linecap="butt" clip-path="url(#c02)"/>
<path d="M49.3 557.4L49.3 557.4L49.3 557.4L49.4 557.4L49.6 557.4L49.8 542.9L50.1 533.3L50.4 525.5L50.8 518.3L51.2 511.4L51.7 504.9L52.3 498.6L52.9 492.5L53.6 486.6L54.4 480.9L55.2 475.4L56.1 470.2L57.1 465.1L58.1 460.3L59.3 455.8L60.4 451.5L61.7 447.4L63.1 443.6L64.5 440.1L66 436.9L67.5 433.9L69.2 431.2L70.9 428.8L72.7 426.6L74.6 424.8L76.6 423.2L78.6 421.8L80.7 420.7L82.9 419.9L85.2 419.3L87.6 419L90 418.9L92.6 419.1L95.2 419.4L97.9 420L100.7 420.9L103.5 421.9L106.5 423.2L109.5 424.6L112.6 426.3L115.9 428.2L119.2 430.3L122.5 432.6L126 435.1L129.6 437.8L133.2 440.7L137 443.8L140.8 447.2L144.7 450.8L148.7 454.6L152.8 458.6L157 462.9L161.3 467.5L165.6 472.3L170.1 477.4L174.7 482.9L179.3 488.6L184 494.7L188.9 501.2L193.8 508L198.8 515.2L203.9 522.9L209.1 531L214.4 539.6L219.8 548.7" stroke="#00a800" stroke-width="2.6" fill="none" stroke-linejoin="round" stroke-linecap="butt" clip-path="url(#c02)"/>
<path d="M49.3 557.4L49.3 557.4L49.3 557.4L49.4 557.4L49.6 557.4L49.8 542.9L50.1 533.3L50.4 525.5L50.8 518.3L51.2 511.4L51.7 504.9L52.3 498.6L52.9 492.5L53.6 486.6L54.4 480.9L55.2 475.4L56.1 470.2L57.1 465.1L58.1 460.4L59.3 455.8L60.4 451.5L61.7 447.5L63.1 443.8L64.5 440.3L66 437.1L67.5 434.2L69.2 431.6L70.9 429.2L72.7 427.2L74.6 425.5L76.6 424L78.6 422.9L80.7 422L82.9 421.4L85.2 421.2L87.6 421.2L90 421.5L92.6 422.1L95.2 423.1L97.9 424.3L100.7 425.9L103.5 427.7L106.5 429.9L109.5 432.4L112.6 435.3L115.9 438.5L119.2 442.1L122.5 446.1L126 450.5L129.6 455.2L133.2 460.5L137 466.2L140.8 472.4L144.7 479.1L148.7 486.3L152.8 494.2L157 502.7L161.3 511.8L165.6 521.6L170.1 532.3L174.7 543.7L179.3 555.9L184 569.1" stroke="#0000ff" stroke-width="2.6" fill="none" stroke-linejoin="round" stroke-linecap="butt" clip-path="url(#c02)"/>
<path d="M49.3 557.4L49.3 557.4L49.3 557.4L49.4 557.4L49.6 557.4L49.8 542.9L50.1 533.3L50.4 525.5L50.8 518.3L51.2 511.4L51.7 504.9L52.3 498.6L52.9 492.5L53.6 486.6L54.4 480.9L55.2 475.4L56.1 470.2L57.1 465.2L58.1 460.4L59.3 455.9L60.4 451.6L61.7 447.7L63.1 444L64.5 440.6L66 437.4L67.5 434.6L69.2 432.1L70.9 429.9L72.7 428.1L74.6 426.5L76.6 425.4L78.6 424.5L80.7 424L82.9 423.8L85.2 424.1L87.6 424.7L90 425.7L92.6 427L95.2 428.8L97.9 431.1L100.7 433.8L103.5 436.9L106.5 440.6L109.5 444.8L112.6 449.5L115.9 454.9L119.2 460.8L122.5 467.4L126 474.8L129.6 482.8L133.2 491.7L137 501.5L140.8 512.2L144.7 523.8L148.7 536.6L152.8 550.4L157 565.5" stroke="#80008a" stroke-width="2.6" fill="none" stroke-linejoin="round" stroke-linecap="butt" clip-path="url(#c02)"/>
<path d="M49.3 557.4L49.3 557.4L49.3 557.4L49.3 557.5L49.4 557.7L49.5 557.9L49.7 554.4L49.8 543.1L50 536.5L50.2 531L50.5 526L50.8 521.4L51.1 517L51.4 512.7L51.8 508.6L52.2 504.6L52.7 500.6L53.1 496.7L53.7 492.7L54.2 488.8L54.8 484.9L55.4 481L56.1 477.1L56.8 473.3L57.5 469.5L58.3 465.8L59.1 462.3L60 458.9L60.9 455.8L61.8 452.8L62.8 450L63.8 447.4L64.8 445L65.9 442.7L67.1 440.6L68.2 438.6L69.5 436.8L70.7 435.1L72 433.6L73.3 432.2L74.7 431L76.1 430L77.6 429.1L79.1 428.5L80.7 428L82.2 427.8L83.9 427.9L85.6 428.2L87.3 428.9L89 430.1L90.9 431.7L92.7 433.8L94.6 436.6L96.5 440L98.5 444L100.6 448.6L102.6 453.9L104.7 459.6L106.9 466L109.1 472.8L111.4 480L113.7 487.7L116 495.7L118.4 504L120.8 512.7L123.3 521.7L125.9 530.9L128.4 540.4L131.1 550.2L133.7 560.2" stroke="#ff0000" stroke-width="2.6" fill="none" stroke-linejoin="round" stroke-linecap="butt" clip-path="url(#c02)"/>
<circle cx="80.57" cy="427.51" r="3.15" fill="#ff0000"/>
<circle cx="93.47" cy="417.52" r="3.15" fill="#000000"/>
<clipPath id="c12"><rect x="234.5" y="383.06" width="176.4" height="176.5"/></clipPath>
<path d="M237.5 384.36V558.26" stroke="#333" stroke-width="0.9" stroke-dasharray="11 2.4" fill="none"/>
<path d="M269.5 384.36V558.26" stroke="#222" stroke-width="0.7" stroke-dasharray="7.4 1.7 1.1 1.7" fill="none"/>
<path d="M282.5 384.36V558.26" stroke="#666" stroke-width="1.4" stroke-dasharray="1.6 1.8" fill="none"/>
<path d="M238.5 339.4L238.5 339.4L238.6 339.6L238.7 339.9L238.9 341.2L239.1 350L239.4 355.3L239.8 360.1L240.2 364.9L240.8 369.6L241.4 374.4L242 379.2L242.8 384.1L243.6 389L244.5 393.9L245.5 398.9L246.6 403.9L247.8 408.9L249 413.9L250.3 418.8L251.8 423.7L253.3 428.6L254.9 433.4L256.5 438.2L258.3 442.9L260.2 447.5L262.1 451.9L264.2 456.3L266.3 460.6L268.6 464.8L270.9 468.9L273.3 472.8L275.8 476.6L278.5 480.3L281.2 483.9L284 487.3L286.9 490.7L289.9 493.9L293 496.9L296.2 499.9L299.5 502.7L302.9 505.4L306.5 508L310.1 510.5L313.8 512.8L317.6 515.1L321.5 517.3L325.5 519.3L329.7 521.3L333.9 523.1L338.2 524.9L342.7 526.6L347.2 528.2L351.9 529.7L356.6 531.2L361.5 532.5L366.5 533.8L371.6 535.1L376.8 536.3L382.1 537.4" stroke="#000000" stroke-width="2.6" fill="none" stroke-linejoin="round" stroke-linecap="butt" clip-path="url(#c12)"/>
<path d="M238.5 339.4L238.5 339.4L238.6 339.6L238.7 339.9L238.9 341.2L239.1 350L239.4 355.2L239.8 360L240.2 364.7L240.8 369.5L241.4 374.2L242 379L242.8 383.8L243.6 388.7L244.5 393.6L245.5 398.5L246.6 403.4L247.8 408.4L249 413.3L250.3 418.2L251.8 423L253.3 427.8L254.9 432.6L256.5 437.3L258.3 441.9L260.2 446.4L262.1 450.8L264.2 455.2L266.3 459.4L268.6 463.5L270.9 467.5L273.3 471.4L275.8 475.2L278.5 478.9L281.2 482.5L284 486L286.9 489.3L289.9 492.5L293 495.5L296.2 498.5L299.5 501.3L302.9 504L306.5 506.6L310.1 509.1L313.8 511.5L317.6 513.7L321.5 515.9L325.5 517.9L329.7 519.9L333.9 521.8L338.2 523.6L342.7 525.3L347.2 527L351.9 528.7L356.6 530.2L361.5 531.8L366.5 533.2L371.6 534.7L376.8 536L382.1 537.4" stroke="#00a800" stroke-width="2.6" fill="none" stroke-linejoin="round" stroke-linecap="butt" clip-path="url(#c12)"/>
<path d="M238.5 339.4L238.5 339.4L238.6 339.6L238.7 339.9L238.9 341.1L239.1 349.9L239.4 355.1L239.8 359.9L240.2 364.6L240.8 369.2L241.4 373.9L242 378.6L242.8 383.4L243.6 388.2L244.5 393L245.5 397.9L246.6 402.7L247.8 407.5L249 412.4L250.3 417.2L251.8 421.9L253.3 426.7L254.9 431.3L256.5 435.9L258.3 440.4L260.2 444.9L262.1 449.2L264.2 453.4L266.3 457.5L268.6 461.6L270.9 465.5L273.3 469.4L275.8 473.2L278.5 476.9L281.2 480.4L284 483.9L286.9 487.2L289.9 490.4L293 493.5L296.2 496.4L299.5 499.2L302.9 501.9L306.5 504.5L310.1 507L313.8 509.4L317.6 511.6L321.5 513.8L325.5 515.8L329.7 517.8L333.9 519.7L338.2 521.6L342.7 523.4L347.2 525.3L351.9 527.1L356.6 528.9L361.5 530.6L366.5 532.4L371.6 534.1L376.8 535.7L382.1 537.4" stroke="#0000ff" stroke-width="2.6" fill="none" stroke-linejoin="round" stroke-linecap="butt" clip-path="url(#c12)"/>
<path d="M238.5 339.4L238.5 339.4L238.6 339.6L238.7 339.9L238.9 341.1L239.1 349.8L239.4 355L239.8 359.7L240.2 364.3L240.8 368.9L241.4 373.5L242 378.1L242.8 382.7L243.6 387.4L244.5 392.1L245.5 396.8L246.6 401.5L247.8 406.2L249 410.9L250.3 415.5L251.8 420.1L253.3 424.7L254.9 429.2L256.5 433.7L258.3 438L260.2 442.3L262.1 446.4L264.2 450.5L266.3 454.4L268.6 458.3L270.9 462.1L273.3 465.9L275.8 469.7L278.5 473.4L281.2 477L284 480.4L286.9 483.7L289.9 487L293 490.1L296.2 493L299.5 495.9L302.9 498.7L306.5 501.3L310.1 503.8L313.8 506.3L317.6 508.6L321.5 510.8L325.5 513L329.7 515L333.9 517L338.2 519.1L342.7 521.1L347.2 523.1L351.9 525.1L356.6 527.2L361.5 529.2L366.5 531.3L371.6 533.3L376.8 535.4L382.1 537.4" stroke="#80008a" stroke-width="2.6" fill="none" stroke-linejoin="round" stroke-linecap="butt" clip-path="url(#c12)"/>
<path d="M238.5 339.4L238.5 339.4L238.6 339.6L238.7 339.8L238.9 340.9L239.1 349.6L239.4 354.6L239.8 359.3L240.2 363.7L240.8 368.1L241.4 372.5L242 376.9L242.8 381.3L243.6 385.7L244.5 390L245.5 394.3L246.6 398.6L247.8 402.9L249 407L250.3 411.1L251.8 415.1L253.3 419L254.9 422.8L256.5 426.4L258.3 430L260.2 433.4L262.1 436.7L264.2 440L266.3 443.3L268.6 446.6L270.9 450L273.3 453.5L275.8 457.1L278.5 460.8L281.2 464.5L284 468.2L286.9 471.9L289.9 475.4L293 478.9L296.2 482.3L299.5 485.6L302.9 488.9L306.5 492.1L310.1 495.2L313.8 498.4L317.6 501.4L321.5 504.5L325.5 507.4L329.7 510.3L333.9 513.2L338.2 516L342.7 518.7L347.2 521.3L351.9 523.9L356.6 526.4L361.5 528.7L366.5 531L371.6 533.2L376.8 535.3L382.1 537.4" stroke="#ff0000" stroke-width="2.6" fill="none" stroke-linejoin="round" stroke-linecap="butt" clip-path="url(#c12)"/>
<circle cx="269.86" cy="447.8" r="3.15" fill="#ff0000"/>
<circle cx="282.59" cy="485.22" r="3.15" fill="#000000"/>
<clipPath id="c22"><rect x="497.7" y="383.06" width="176.2" height="175.6"/></clipPath>
<path d="M558.5 384.36V557.36" stroke="#222" stroke-width="0.7" stroke-dasharray="7.4 1.7 1.1 1.7" fill="none"/>
<path d="M569.5 384.36V557.36" stroke="#666" stroke-width="1.4" stroke-dasharray="1.6 1.8" fill="none"/>
<path d="M516.8 470.9L518.2 469.4L525.3 463.3L535.5 455.2L544.5 448.8L552.5 443.9L560.2 440.1L567.3 437.4L570.8 436.4L574.3 435.7L577.6 435.3L580.8 435.2L584.1 435.3L587.4 435.8L590.4 436.6L593.3 437.7L595.9 439L598.5 440.7L600.9 442.7L603.2 445L605.2 447.6L607 450.3L608.6 453.4L609.8 456.6L610.9 460.1L611.6 463.6L612 467.1L612.2 470.9L612 474.6L611.6 478.1L610.9 481.6L609.8 485.1L608.6 488.3L607 491.4L605.2 494.1L603.2 496.7L600.9 499L598.5 501L595.9 502.7L593.3 504L590.4 505.1L587.4 505.9L584.1 506.4L580.8 506.6L577.6 506.4L574.3 506L570.8 505.3L567.3 504.4L560.2 501.7L552.5 497.9L544.5 492.9L535.5 486.5L525.3 478.4L518.2 472.3Z" stroke="#ff0000" stroke-width="2.6" fill="none" stroke-linejoin="round"/>
<path d="M531.7 470.9L531.9 469.1L532.6 467.1L533.8 465L535.6 462.7L537.9 460.4L540.9 457.8L544.3 455.1L547.8 452.8L554.7 449L558.2 447.4L561.7 446.1L565 445.1L568.4 444.4L571.7 443.9L574.8 443.8L577.6 443.9L580.3 444.3L582.7 444.8L585.1 445.7L587.4 446.7L589.6 448L591.5 449.5L593.3 451.2L595.1 453.3L596.6 455.4L597.9 457.8L598.9 460.1L599.7 462.7L600.3 465.3L600.7 467.9L600.8 470.9L600.7 473.8L600.3 476.4L599.7 479L598.9 481.6L597.9 484L596.6 486.3L595.1 488.5L593.3 490.5L591.5 492.2L589.6 493.7L587.4 495L585.1 496.1L582.7 496.9L580.3 497.5L577.6 497.8L574.8 498L571.7 497.8L568.4 497.4L565 496.6L561.7 495.6L558.2 494.3L554.7 492.7L547.8 488.9L544.3 486.6L540.9 484L537.9 481.3L535.6 479L533.8 476.7L532.6 474.6L531.9 472.6Z" stroke="#80008a" stroke-width="2.6" fill="none" stroke-linejoin="round"/>
<path d="M540 470.9L540.2 469.1L540.7 467.3L541.6 465.5L542.7 463.7L544.2 462L546 460.2L550.6 456.6L556 453.6L561.6 451.2L567.3 449.8L572.4 449.4L576.9 449.7L581 450.8L584.8 452.7L588 455.3L589.3 456.7L590.6 458.4L591.7 460.2L592.6 462.3L593.4 464.3L593.9 466.4L594.2 468.5L594.3 470.9L594.2 473.2L593.9 475.3L593.4 477.4L592.6 479.5L591.7 481.5L590.6 483.3L589.3 485L588 486.5L584.8 489L581 490.9L576.9 492L572.4 492.4L567.3 491.9L561.6 490.5L556 488.2L550.6 485.1L546 481.5L544.2 479.8L542.7 478L541.6 476.2L540.7 474.4L540.2 472.6Z" stroke="#0000ff" stroke-width="2.6" fill="none" stroke-linejoin="round"/>
<path d="M549.8 470.9L549.9 469.4L550.2 468.2L551.3 465.9L553.5 463.2L556.2 461L559.5 459L563.1 457.6L566.9 456.6L570.4 456.4L573.5 456.6L576.4 457.4L579.1 458.6L581.5 460.4L583.4 462.7L584.9 465.2L585.7 467.9L586 470.9L585.7 473.8L584.9 476.5L583.4 479.1L581.5 481.3L579.1 483.1L576.4 484.3L573.5 485.1L570.4 485.4L566.9 485.1L563.1 484.2L559.5 482.7L556.2 480.7L553.5 478.5L551.3 475.8L550.2 473.5L549.9 472.3Z" stroke="#00a800" stroke-width="2.6" fill="none" stroke-linejoin="round"/>
<circle cx="558.4" cy="470.86" r="1.5" fill="#ff0000"/>
<circle cx="561.2" cy="470.86" r="1.5" fill="#80008a"/>
<circle cx="563.9" cy="470.86" r="1.5" fill="#0000ff"/>
<circle cx="566.7" cy="470.86" r="1.5" fill="#00a800"/>
<circle cx="569.5" cy="470.86" r="1.65" fill="#000"/>
<clipPath id="c03"><rect x="45.3" y="571.99" width="175.8" height="175.6"/></clipPath>
<path d="M50.5 573.29V746.29" stroke="#333" stroke-width="0.9" stroke-dasharray="11 2.4" fill="none"/>
<path d="M81.5 573.29V746.29" stroke="#222" stroke-width="0.7" stroke-dasharray="7.4 1.7 1.1 1.7" fill="none"/>
<path d="M93.5 573.29V746.29" stroke="#666" stroke-width="1.4" stroke-dasharray="1.6 1.8" fill="none"/>
<path d="M50.4 746.3L50.5 742.7L50.5 736.8L50.6 731L50.8 725.2L51 719.3L51.2 713.3L51.5 707.4L51.9 701.4L52.4 695.5L52.9 689.7L53.4 684L54.1 678.4L54.7 672.9L55.5 667.5L56.3 662.3L57.2 657.3L58.2 652.5L59.2 647.9L60.4 643.5L61.5 639.4L62.8 635.4L64.1 631.8L65.5 628.3L67 625.2L68.6 622.2L70.2 619.6L71.9 617.2L73.7 615L75.6 613.1L77.5 611.4L79.6 610L81.7 608.8L83.9 607.9L86.1 607.1L88.5 606.6L90.9 606.3L93.4 606.2L96 606.2L98.7 606.5L101.5 606.9L104.3 607.4L107.3 608.1L110.3 609L113.4 610L116.6 611.1L119.8 612.3L123.2 613.6L126.7 615L130.2 616.4L133.8 618L137.5 619.6L141.3 621.3L145.2 623L149.2 624.8L153.3 626.6L157.4 628.5L161.7 630.3L166 632.2L170.4 634.2L175 636.1L179.6 638L184.3 640L189.1 641.9L194 643.8L198.9 645.8L204 647.7L209.2 649.6L214.4 651.5L219.8 653.4" stroke="#000000" stroke-width="2.6" fill="none" stroke-linejoin="round" stroke-linecap="butt" clip-path="url(#c03)"/>
<path d="M51.7 705.4L51.7 705.1L51.7 704.3L51.8 702.7L52 700.5L52.2 697.8L52.4 694.5L52.8 690.8L53.1 686.8L53.6 682.6L54.1 678.2L54.6 673.8L55.2 669.3L55.9 664.8L56.7 660.3L57.5 655.9L58.4 651.6L59.4 647.4L60.4 643.4L61.5 639.5L62.7 635.8L63.9 632.4L65.3 629.1L66.7 626L68.1 623.2L69.7 620.6L71.3 618.3L73 616.2L74.8 614.3L76.6 612.7L78.6 611.3L80.6 610.1L82.7 609.2L84.8 608.5L87.1 608.1L89.4 607.9L91.8 607.9L94.3 608.1L96.9 608.6L99.6 609.2L102.3 610.1L105.2 611.2L108.1 612.5L111.1 613.9L114.2 615.6L117.3 617.5L120.6 619.6L123.9 621.8L127.3 624.3L130.8 627L134.4 629.8L138.1 632.9L141.9 636.2L145.8 639.7L149.7 643.4L153.8 647.3L157.9 651.5L162.1 655.9L166.4 660.6L170.8 665.6L175.3 670.8L179.9 676.4L184.5 682.3L189.3 688.5L194.2 695.1L199.1 702L204.1 709.4L209.3 717.2L214.5 725.4L219.8 734.1" stroke="#80008a" stroke-width="2.6" fill="none" stroke-linejoin="round" stroke-linecap="butt" clip-path="url(#c03)"/>
<path d="M51.8 703.3L51.8 703L51.9 702.2L52 700.8L52.1 698.7L52.3 696L52.6 692.9L52.9 689.4L53.3 685.5L53.7 681.4L54.2 677.2L54.8 672.8L55.4 668.4L56.1 664L56.8 659.6L57.6 655.3L58.5 651L59.5 646.9L60.5 643L61.6 639.2L62.8 635.6L64.1 632.2L65.4 629L66.8 626L68.3 623.3L69.8 620.8L71.4 618.6L73.1 616.6L74.9 614.9L76.7 613.4L78.7 612.2L80.7 611.3L82.8 610.6L85 610.3L87.2 610.2L89.5 610.3L91.9 610.8L94.4 611.5L97 612.5L99.7 613.9L102.4 615.5L105.2 617.4L108.2 619.6L111.2 622.2L114.2 625L117.4 628.2L120.6 631.8L124 635.7L127.4 640L130.9 644.8L134.5 649.9L138.2 655.5L142 661.5L145.8 668.1L149.8 675.2L153.8 682.8L157.9 691L162.1 699.9L166.5 709.5L170.8 719.7L175.3 730.7L179.9 742.6L184.6 755.3" stroke="#0000ff" stroke-width="2.6" fill="none" stroke-linejoin="round" stroke-linecap="butt" clip-path="url(#c03)"/>
<path d="M51.9 701.3L51.9 701.1L52 700.3L52.1 698.9L52.2 696.9L52.5 694.4L52.7 691.4L53 688L53.4 684.2L53.8 680.3L54.3 676.1L54.9 671.9L55.5 667.5L56.2 663.2L57 658.9L57.8 654.7L58.7 650.5L59.6 646.5L60.7 642.6L61.8 638.9L62.9 635.4L64.2 632.1L65.5 629L66.9 626.2L68.4 623.6L69.9 621.3L71.5 619.2L73.2 617.4L75 615.9L76.9 614.7L78.8 613.8L80.8 613.2L82.9 613L85.1 613.1L87.3 613.5L89.6 614.3L92.1 615.5L94.5 617L97.1 619L99.8 621.3L102.5 624.1L105.3 627.4L108.2 631.1L111.2 635.4L114.3 640.2L117.5 645.5L120.7 651.5L124.1 658.1L127.5 665.4L131 673.4L134.6 682.2L138.3 691.8L142 702.3L145.9 713.8L149.8 726.2L153.9 739.8L158 754.5" stroke="#00a800" stroke-width="2.6" fill="none" stroke-linejoin="round" stroke-linecap="butt" clip-path="url(#c03)"/>
<path d="M53.4 704.4L53.4 704.3L53.4 704L53.5 703.4L53.5 702.5L53.6 701.4L53.8 699.9L53.9 698.1L54.1 696.1L54.3 693.8L54.6 691.3L54.8 688.6L55.1 685.6L55.5 682.5L55.8 679.3L56.2 676L56.7 672.7L57.1 669.3L57.6 665.9L58.2 662.6L58.7 659.3L59.3 656.2L60 653.1L60.7 650.1L61.4 647.3L62.1 644.6L62.9 642L63.7 639.5L64.6 637.1L65.5 634.8L66.4 632.6L67.4 630.5L68.4 628.6L69.5 626.8L70.6 625.1L71.7 623.6L72.9 622.2L74.1 621L75.3 619.9L76.6 619L77.9 618.3L79.3 617.7L80.7 617.3L82.2 617.1L83.6 617L85.2 617.2L86.8 617.7L88.4 618.4L90 619.5L91.7 621.1L93.5 623.1L95.3 625.6L97.1 628.7L99 632.4L100.9 636.6L102.8 641.3L104.8 646.6L106.9 652.3L108.9 658.4L111.1 665L113.3 672L115.5 679.4L117.7 687L120 695L122.4 703.3L124.8 711.9L127.2 720.7L129.7 729.8L132.2 739.1L134.8 748.6" stroke="#ff0000" stroke-width="2.6" fill="none" stroke-linejoin="round" stroke-linecap="butt" clip-path="url(#c03)"/>
<circle cx="81.37" cy="616.83" r="3.15" fill="#ff0000"/>
<circle cx="94.27" cy="606.51" r="3.15" fill="#000000"/>
<clipPath id="c13"><rect x="234.5" y="571.99" width="176.4" height="176.5"/></clipPath>
<path d="M239.5 573.29V747.19" stroke="#333" stroke-width="0.9" stroke-dasharray="11 2.4" fill="none"/>
<path d="M270.5 573.29V747.19" stroke="#222" stroke-width="0.7" stroke-dasharray="7.4 1.7 1.1 1.7" fill="none"/>
<path d="M283.5 573.29V747.19" stroke="#666" stroke-width="1.4" stroke-dasharray="1.6 1.8" fill="none"/>
<path d="M239.7 531.8L239.7 532.8L239.8 535.3L239.9 538.4L240.1 541.8L240.3 545.4L240.6 549.2L241 553.2L241.4 557.3L242 561.6L242.5 566.1L243.2 570.6L244 575.2L244.8 579.9L245.7 584.7L246.7 589.5L247.7 594.3L248.9 599.1L250.1 604L251.4 608.8L252.9 613.6L254.3 618.4L255.9 623.1L257.6 627.8L259.4 632.4L261.2 636.9L263.1 641.3L265.2 645.7L267.3 649.9L269.5 654L271.8 658L274.2 661.9L276.7 665.7L279.3 669.3L282 672.9L284.8 676.3L287.7 679.6L290.7 682.8L293.8 685.8L296.9 688.7L300.2 691.5L303.6 694.2L307.1 696.8L310.7 699.3L314.4 701.6L318.1 703.9L322 706L326 708.1L330.1 710L334.3 711.9L338.6 713.7L343 715.4L347.5 717L352.1 718.5L356.9 719.9L361.7 721.3L366.6 722.6L371.7 723.8L376.8 725L382.1 726.1" stroke="#000000" stroke-width="2.6" fill="none" stroke-linejoin="round" stroke-linecap="butt" clip-path="url(#c13)"/>
<path d="M239.7 531.7L239.7 532.8L239.8 535.3L239.9 538.3L240.1 541.7L240.3 545.3L240.6 549.1L241 553.1L241.4 557.3L242 561.5L242.5 565.9L243.2 570.4L244 575L244.8 579.7L245.7 584.5L246.7 589.2L247.7 594L248.9 598.9L250.1 603.7L251.4 608.5L252.9 613.3L254.3 618L255.9 622.7L257.6 627.3L259.4 631.9L261.2 636.4L263.1 640.8L265.2 645.1L267.3 649.3L269.5 653.3L271.8 657.3L274.2 661.2L276.7 665L279.3 668.7L282 672.2L284.8 675.6L287.7 678.9L290.7 682.1L293.8 685.1L296.9 688L300.2 690.8L303.6 693.5L307.1 696.1L310.7 698.6L314.4 700.9L318.1 703.2L322 705.3L326 707.4L330.1 709.3L334.3 711.2L338.6 713L343 714.7L347.5 716.4L352.1 718L356.9 719.5L361.7 720.9L366.6 722.3L371.7 723.6L376.8 724.9L382.1 726.1" stroke="#80008a" stroke-width="2.6" fill="none" stroke-linejoin="round" stroke-linecap="butt" clip-path="url(#c13)"/>
<path d="M239.7 531.3L239.7 532.4L239.8 534.9L239.9 537.9L240.1 541.2L240.3 544.7L240.6 548.4L241 552.3L241.4 556.3L242 560.4L242.5 564.6L243.2 568.9L244 573.3L244.8 577.7L245.7 582.2L246.7 586.7L247.7 591.2L248.9 595.7L250.1 600.2L251.4 604.7L252.9 609.2L254.3 613.6L255.9 618L257.6 622.3L259.4 626.4L261.2 630.5L263.1 634.6L265.2 638.5L267.3 642.3L269.5 646.1L271.8 649.9L274.2 653.6L276.7 657.3L279.3 661L282 664.6L284.8 668L287.7 671.3L290.7 674.5L293.8 677.6L296.9 680.6L300.2 683.5L303.6 686.3L307.1 689L310.7 691.6L314.4 694.1L318.1 696.5L322 698.8L326 701L330.1 703.1L334.3 705.2L338.6 707.3L343 709.4L347.5 711.5L352.1 713.6L356.9 715.7L361.7 717.8L366.6 719.9L371.7 722L376.8 724.1L382.1 726.1" stroke="#00a800" stroke-width="2.6" fill="none" stroke-linejoin="round" stroke-linecap="butt" clip-path="url(#c13)"/>
<path d="M239.7 531.6L239.7 532.7L239.8 535.2L239.9 538.2L240.1 541.6L240.3 545.1L240.6 548.9L241 552.9L241.4 557L242 561.2L242.5 565.5L243.2 570L244 574.5L244.8 579.1L245.7 583.8L246.7 588.4L247.7 593.2L248.9 597.9L250.1 602.6L251.4 607.3L252.9 612L254.3 616.7L255.9 621.3L257.6 625.8L259.4 630.3L261.2 634.7L263.1 639L265.2 643.2L267.3 647.3L269.5 651.4L271.8 655.3L274.2 659.1L276.7 662.9L279.3 666.6L282 670.1L284.8 673.5L287.7 676.8L290.7 680L293.8 683L296.9 686L300.2 688.8L303.6 691.5L307.1 694L310.7 696.5L314.4 698.9L318.1 701.1L322 703.3L326 705.3L330.1 707.3L334.3 709.2L338.6 711L343 712.8L347.5 714.6L352.1 716.4L356.9 718.1L361.7 719.8L366.6 721.4L371.7 723L376.8 724.6L382.1 726.1" stroke="#0000ff" stroke-width="2.6" fill="none" stroke-linejoin="round" stroke-linecap="butt" clip-path="url(#c13)"/>
<path d="M239.7 524.7L239.7 525.7L239.8 528.2L239.9 531.2L240.1 534.4L240.3 537.9L240.6 541.5L241 545.2L241.4 549.1L242 553L242.5 557.1L243.2 561.2L244 565.4L244.8 569.6L245.7 573.9L246.7 578.3L247.7 582.7L248.9 587L250.1 591.4L251.4 595.8L252.9 600.2L254.3 604.6L255.9 608.8L257.6 613.1L259.4 617.2L261.2 621.3L263.1 625.3L265.2 629.2L267.3 633L269.5 636.8L271.8 640.4L274.2 644.1L276.7 647.6L279.3 651.1L282 654.5L284.8 657.9L287.7 661.2L290.7 664.5L293.8 667.8L296.9 671.1L300.2 674.3L303.6 677.5L307.1 680.7L310.7 683.8L314.4 686.8L318.1 689.8L322 692.8L326 695.7L330.1 698.5L334.3 701.4L338.6 704.1L343 706.9L347.5 709.6L352.1 712.2L356.9 714.7L361.7 717.2L366.6 719.5L371.7 721.8L376.8 724L382.1 726.1" stroke="#ff0000" stroke-width="2.6" fill="none" stroke-linejoin="round" stroke-linecap="butt" clip-path="url(#c13)"/>
<circle cx="270.67" cy="638.68" r="3.15" fill="#ff0000"/>
<circle cx="283.34" cy="674.99" r="3.15" fill="#000000"/>
<clipPath id="c23"><rect x="497.7" y="571.99" width="176.2" height="175.6"/></clipPath>
<path d="M558.5 573.29V746.29" stroke="#222" stroke-width="0.7" stroke-dasharray="7.4 1.7 1.1 1.7" fill="none"/>
<path d="M569.5 573.29V746.29" stroke="#666" stroke-width="1.4" stroke-dasharray="1.6 1.8" fill="none"/>
<path d="M518.4 659.8L518.6 659.2L519.1 658.7L522.7 655.4L528.9 650.1L534.8 645.5L544 638.8L552.6 633.6L560.2 629.8L563.9 628.2L567.5 627L571.1 626L574.4 625.3L577.8 624.9L580.9 624.8L584.1 624.9L587.2 625.4L590.2 626.2L593.1 627.2L595.8 628.6L598.4 630.3L600.7 632.2L602.9 634.4L604.9 636.9L606.6 639.7L608.2 642.7L609.5 645.8L610.4 649L611.2 652.6L611.7 656.2L611.8 659.8L611.7 663.4L611.2 667L610.4 670.5L609.5 673.8L608.2 676.9L606.6 679.9L604.9 682.7L602.9 685.2L600.7 687.4L598.4 689.3L595.8 691L593.1 692.3L590.2 693.4L587.2 694.2L584.1 694.6L580.9 694.8L577.8 694.7L574.4 694.3L571.1 693.6L567.5 692.6L563.9 691.4L560.2 689.8L552.6 686L544 680.7L534.8 674.1L528.9 669.4L522.7 664.2L519.1 660.9L518.6 660.3Z" stroke="#ff0000" stroke-width="2.6" fill="none" stroke-linejoin="round"/>
<path d="M532.6 659.8L532.8 658L533.5 656L534.6 653.9L536.4 651.6L538.7 649.3L541.7 646.6L544.8 644.3L548.3 642L551.9 639.9L555.2 638.2L558.6 636.7L562.2 635.4L565.5 634.4L568.9 633.6L572 633.2L575.2 633.1L577.9 633.2L580.6 633.6L583 634.1L585.5 635L587.7 636L589.8 637.3L591.8 638.7L593.7 640.5L595.4 642.5L596.9 644.6L598.2 646.9L599.2 649.3L600 651.9L600.6 654.5L601 657.2L601.1 659.8L601 662.4L600.6 665.1L600 667.7L599.2 670.3L598.2 672.7L596.9 675L595.4 677.1L593.7 679.1L591.8 680.9L589.8 682.3L587.7 683.6L585.5 684.6L583 685.4L580.6 686L577.9 686.4L575.2 686.5L572 686.3L568.9 685.9L565.5 685.2L562.2 684.2L558.6 682.9L555.2 681.4L551.9 679.7L548.3 677.6L544.8 675.3L541.7 673L538.7 670.3L536.4 668L534.6 665.6L533.5 663.6L532.8 661.5Z" stroke="#80008a" stroke-width="2.6" fill="none" stroke-linejoin="round"/>
<path d="M540.4 659.8L540.6 658L541.1 656.3L541.9 654.5L543.1 652.7L544.6 651L546.4 649.2L548.6 647.4L551.1 645.7L556.3 642.7L562 640.4L567.7 639L572.9 638.6L577.5 639L581.6 640.1L585.2 641.9L586.8 643.1L588.5 644.5L589.8 646L591.1 647.7L592.2 649.5L593 651.3L593.8 653.3L594.3 655.4L594.6 657.4L594.7 659.8L594.6 662.1L594.3 664.2L593.8 666.3L593 668.3L592.2 670.1L591.1 671.9L589.8 673.6L588.5 675.1L586.8 676.5L585.2 677.6L581.6 679.5L577.5 680.6L572.9 681L567.7 680.6L562 679.2L556.3 676.9L551.1 673.9L548.6 672.1L546.4 670.4L544.6 668.6L543.1 666.8L541.9 665.1L541.1 663.3L540.6 661.6Z" stroke="#0000ff" stroke-width="2.6" fill="none" stroke-linejoin="round"/>
<path d="M550.1 659.8L550.2 658.4L550.5 657.2L551 656.1L551.8 654.6L553.7 652.4L556.5 650.1L559.8 648.2L563.3 646.8L567 645.9L570.6 645.6L573.6 645.8L576.7 646.6L579.3 647.9L581.5 649.6L583.5 651.8L584.8 654.2L585.7 656.9L586 659.8L585.7 662.6L584.8 665.4L583.5 667.8L581.5 670L579.3 671.7L576.7 672.9L573.6 673.7L570.6 674L567 673.7L563.3 672.8L559.8 671.4L556.5 669.5L553.7 667.2L551.8 664.9L551 663.5L550.5 662.4L550.2 661.2Z" stroke="#00a800" stroke-width="2.6" fill="none" stroke-linejoin="round"/>
<circle cx="558.4" cy="659.79" r="1.5" fill="#ff0000"/>
<circle cx="561.2" cy="659.79" r="1.5" fill="#80008a"/>
<circle cx="563.9" cy="659.79" r="1.5" fill="#0000ff"/>
<circle cx="566.7" cy="659.79" r="1.5" fill="#00a800"/>
<circle cx="569.1" cy="659.79" r="1.65" fill="#000"/>
<clipPath id="c04"><rect x="45.3" y="760.92" width="175.8" height="175.6"/></clipPath>
<path d="M90.5 762.22V935.22" stroke="#333" stroke-width="0.9" stroke-dasharray="11 2.4" fill="none"/>
<path d="M130.5 762.22V935.22" stroke="#222" stroke-width="0.7" stroke-dasharray="7.4 1.7 1.1 1.7" fill="none"/>
<path d="M142.5 762.22V935.22" stroke="#666" stroke-width="1.4" stroke-dasharray="1.6 1.8" fill="none"/>
<path d="M92.9 933.9L92.9 932.2L92.9 929.3L93 926.1L93.1 922.7L93.3 919.3L93.5 915.9L93.7 912.4L94 908.9L94.3 905.3L94.7 901.8L95.1 898.3L95.6 894.8L96.1 891.4L96.7 888L97.3 884.6L98 881.4L98.7 878.1L99.5 875L100.3 871.9L101.2 868.9L102.2 866L103.2 863.2L104.2 860.5L105.3 857.9L106.5 855.4L107.7 853L109 850.7L110.3 848.5L111.7 846.5L113.2 844.5L114.7 842.7L116.3 841L117.9 839.4L119.6 838L121.4 836.6L123.2 835.4L125.1 834.3L127.1 833.3L129.1 832.4L131.1 831.6L133.3 831L135.5 830.4L137.7 830L140.1 829.6L142.4 829.4L144.9 829.2L147.4 829.2L150 829.3L152.7 829.5L155.4 829.8L158.2 830.1L161 830.6L163.9 831.1L166.9 831.7L169.9 832.3L173.1 833.1L176.2 833.9L179.5 834.7L182.8 835.7L186.2 836.6L189.7 837.6L193.2 838.7L196.8 839.8L200.4 840.9L204.2 842.1L208 843.3L211.8 844.6L215.8 845.8L219.8 847.1" stroke="#000000" stroke-width="2.6" fill="none" stroke-linejoin="round" stroke-linecap="butt" clip-path="url(#c04)"/>
<path d="M96.4 889.4L96.5 889.3L96.5 889.1L96.6 888.6L96.7 888L96.8 887.2L97 886.2L97.2 884.9L97.5 883.6L97.8 882L98.2 880.3L98.6 878.5L99.1 876.6L99.6 874.6L100.1 872.6L100.7 870.5L101.4 868.3L102.1 866.2L102.9 864L103.7 861.8L104.5 859.7L105.5 857.6L106.4 855.5L107.4 853.5L108.5 851.5L109.7 849.6L110.9 847.8L112.1 846L113.4 844.3L114.8 842.7L116.2 841.2L117.7 839.8L119.2 838.5L120.8 837.2L122.4 836.1L124.2 835.1L125.9 834.1L127.8 833.3L129.7 832.5L131.6 831.9L133.6 831.4L135.7 830.9L137.8 830.6L140 830.3L142.3 830.2L144.6 830.2L147 830.2L149.4 830.4L152 830.7L154.5 831.1L157.2 831.6L159.9 832.2L162.7 832.9L165.5 833.7L168.4 834.6L171.3 835.5L174.4 836.5L177.5 837.7L180.6 838.9L183.9 840.2L187.1 841.5L190.5 843L193.9 844.5L197.4 846.1L201 847.8L204.6 849.6L208.3 851.5L212.1 853.4L215.9 855.4L219.8 857.5" stroke="#80008a" stroke-width="2.6" fill="none" stroke-linejoin="round" stroke-linecap="butt" clip-path="url(#c04)"/>
<path d="M96.6 888.4L96.6 888.3L96.7 888.1L96.7 887.7L96.9 887.1L97 886.2L97.2 885.2L97.4 884.1L97.7 882.7L98 881.2L98.4 879.6L98.8 877.8L99.2 875.9L99.8 874L100.3 872L100.9 869.9L101.6 867.8L102.3 865.7L103 863.6L103.8 861.4L104.7 859.3L105.6 857.3L106.6 855.2L107.6 853.2L108.7 851.3L109.8 849.5L111 847.7L112.3 845.9L113.6 844.3L114.9 842.7L116.3 841.3L117.8 839.9L119.3 838.6L120.9 837.5L122.6 836.4L124.3 835.4L126.1 834.6L127.9 833.8L129.8 833.2L131.7 832.7L133.7 832.3L135.8 832L137.9 831.8L140.1 831.7L142.4 831.7L144.7 831.9L147.1 832.3L149.5 832.7L152.1 833.3L154.6 834L157.3 834.8L160 835.8L162.7 836.9L165.6 838.1L168.5 839.5L171.4 841L174.4 842.6L177.5 844.4L180.7 846.3L183.9 848.3L187.2 850.5L190.5 852.8L194 855.3L197.5 858L201 860.8L204.6 863.7L208.3 866.9L212.1 870.2L215.9 873.7L219.8 877.4" stroke="#0000ff" stroke-width="2.6" fill="none" stroke-linejoin="round" stroke-linecap="butt" clip-path="url(#c04)"/>
<path d="M96.7 887.6L96.8 887.6L96.8 887.4L96.9 887L97 886.4L97.1 885.6L97.3 884.6L97.5 883.4L97.8 882.1L98.1 880.6L98.5 879L98.9 877.3L99.4 875.5L99.9 873.5L100.4 871.5L101 869.5L101.7 867.4L102.4 865.4L103.1 863.3L104 861.2L104.8 859.1L105.7 857.1L106.7 855.1L107.7 853.1L108.8 851.2L109.9 849.4L111.1 847.7L112.4 846L113.7 844.4L115 842.9L116.4 841.5L117.9 840.2L119.4 839L121 837.9L122.7 836.9L124.4 836.1L126.2 835.3L128 834.7L129.9 834.2L131.8 833.9L133.8 833.6L135.9 833.5L138 833.6L140.2 833.7L142.5 834L144.8 834.5L147.2 835.2L149.6 836L152.1 837L154.7 838.2L157.3 839.5L160 841L162.8 842.7L165.6 844.6L168.5 846.7L171.5 848.9L174.5 851.4L177.6 854.1L180.7 857L183.9 860.1L187.2 863.5L190.6 867.1L194 871L197.5 875.2L201 879.6L204.7 884.3L208.3 889.3L212.1 894.7L215.9 900.3L219.8 906.4" stroke="#00a800" stroke-width="2.6" fill="none" stroke-linejoin="round" stroke-linecap="butt" clip-path="url(#c04)"/>
<path d="M97.2 887.9L97.2 887.9L97.3 887.7L97.3 887.4L97.4 887L97.6 886.4L97.7 885.6L97.9 884.7L98.2 883.7L98.5 882.6L98.8 881.3L99.2 879.9L99.6 878.4L100 876.8L100.5 875.2L101.1 873.5L101.6 871.7L102.3 869.8L102.9 868L103.7 866.1L104.4 864.2L105.2 862.4L106.1 860.5L107 858.7L108 856.9L109 855.2L110.1 853.5L111.2 851.9L112.3 850.4L113.5 848.9L114.8 847.5L116.1 846.1L117.5 844.9L118.9 843.7L120.4 842.7L121.9 841.7L123.5 840.9L125.1 840.1L126.8 839.5L128.5 839L130.3 838.6L132.2 838.3L134.1 838.3L136 838.4L138 838.7L140.1 839.2L142.2 840.1L144.4 841.2L146.6 842.6L148.9 844.4L151.3 846.4L153.7 848.7L156.1 851.2L158.7 854.1L161.2 857.2L163.9 860.5L166.6 864.1L169.3 868L172.1 872L175 876.3L178 880.9L180.9 885.7L184 890.9L187.1 896.4L190.3 902.3L193.5 908.6L196.8 915.2L200.1 922.2L203.5 929.5L207 937" stroke="#ff0000" stroke-width="2.6" fill="none" stroke-linejoin="round" stroke-linecap="butt" clip-path="url(#c04)"/>
<circle cx="130.54" cy="835.89" r="3.15" fill="#ff0000"/>
<circle cx="142.53" cy="829" r="3.15" fill="#000000"/>
<clipPath id="c14"><rect x="234.5" y="760.92" width="176.4" height="176.5"/></clipPath>
<path d="M279.5 762.22V936.12" stroke="#333" stroke-width="0.9" stroke-dasharray="11 2.4" fill="none"/>
<path d="M319.5 762.22V936.12" stroke="#222" stroke-width="0.7" stroke-dasharray="7.4 1.7 1.1 1.7" fill="none"/>
<path d="M331.5 762.22V936.12" stroke="#666" stroke-width="1.4" stroke-dasharray="1.6 1.8" fill="none"/>
<path d="M282.2 790.2L282.3 791.3L282.3 793.1L282.4 795.1L282.6 797.2L282.8 799.4L283.1 801.8L283.4 804.2L283.8 806.7L284.3 809.3L284.8 812L285.4 814.7L286.1 817.4L286.8 820.3L287.6 823.1L288.5 826L289.5 828.9L290.5 831.9L291.6 834.8L292.8 837.7L294 840.7L295.4 843.6L296.8 846.6L298.3 849.5L299.9 852.3L301.5 855.2L303.2 858L305.1 860.8L307 863.5L308.9 866.2L311 868.8L313.2 871.4L315.4 873.9L317.7 876.4L320.1 878.8L322.6 881.1L325.2 883.4L327.9 885.6L330.6 887.8L333.5 889.8L336.4 891.8L339.4 893.7L342.5 895.6L345.7 897.3L349 899L352.4 900.6L355.9 902.2L359.5 903.7L363.1 905.1L366.9 906.4L370.7 907.7L374.7 908.9L378.7 910.1L382.8 911.2L387.1 912.3L391.4 913.3L395.8 914.2L400.3 915.1L404.9 915.9L409.6 916.7" stroke="#000000" stroke-width="2.6" fill="none" stroke-linejoin="round" stroke-linecap="butt" clip-path="url(#c14)"/>
<path d="M285 812.7L285 812.8L285.1 813.1L285.2 813.5L285.3 814.2L285.5 815.1L285.8 816.3L286.1 817.6L286.5 819.1L287 820.8L287.5 822.6L288.1 824.5L288.7 826.6L289.5 828.8L290.3 831L291.1 833.3L292.1 835.7L293.1 838.2L294.1 840.7L295.3 843.2L296.5 845.7L297.8 848.3L299.2 850.9L300.7 853.4L302.2 856L303.8 858.6L305.5 861.1L307.3 863.7L309.2 866.1L311.1 868.6L313.1 871L315.2 873.4L317.4 875.7L319.7 878L322.1 880.3L324.5 882.5L327 884.6L329.6 886.7L332.3 888.7L335.1 890.6L338 892.5L340.9 894.3L344 896L347.1 897.7L350.3 899.3L353.7 900.8L357.1 902.3L360.6 903.7L364.1 905.1L367.8 906.4L371.6 907.6L375.4 908.8L379.4 909.9L383.4 911L387.5 912L391.8 913L396.1 913.9L400.5 914.8L405 915.6L409.6 916.4" stroke="#80008a" stroke-width="2.6" fill="none" stroke-linejoin="round" stroke-linecap="butt" clip-path="url(#c14)"/>
<path d="M285 812.5L285 812.5L285.1 812.8L285.2 813.3L285.3 813.9L285.5 814.8L285.8 815.9L286.1 817.2L286.5 818.7L287 820.4L287.5 822.1L288.1 824L288.7 826.1L289.5 828.2L290.3 830.4L291.1 832.7L292.1 835L293.1 837.4L294.1 839.8L295.3 842.3L296.5 844.8L297.8 847.3L299.2 849.9L300.7 852.4L302.2 855L303.8 857.5L305.5 860.1L307.3 862.6L309.2 865.1L311.1 867.6L313.1 870L315.2 872.4L317.4 874.7L319.7 877L322.1 879.2L324.5 881.4L327 883.5L329.6 885.6L332.3 887.6L335.1 889.6L338 891.4L340.9 893.3L344 895L347.1 896.7L350.3 898.3L353.7 899.8L357.1 901.3L360.6 902.8L364.1 904.1L367.8 905.4L371.6 906.7L375.4 907.9L379.4 909L383.4 910.1L387.5 911.2L391.8 912.2L396.1 913.1L400.5 914L405 914.9L409.6 915.7" stroke="#0000ff" stroke-width="2.6" fill="none" stroke-linejoin="round" stroke-linecap="butt" clip-path="url(#c14)"/>
<path d="M285.5 814L285.5 814.1L285.6 814.3L285.7 814.7L285.9 815.3L286.1 816.1L286.3 817.1L286.7 818.2L287.1 819.5L287.5 821L288 822.6L288.6 824.3L289.3 826.1L290 828.1L290.8 830.1L291.6 832.1L292.6 834.2L293.6 836.4L294.6 838.7L295.8 840.9L297 843.2L298.3 845.6L299.7 848L301.1 850.4L302.7 852.9L304.3 855.5L306 858L307.8 860.4L309.6 862.9L311.5 865.3L313.6 867.7L315.6 870L317.8 872.3L320.1 874.6L322.4 876.8L324.9 878.9L327.4 881L330 883.1L332.7 885.1L335.4 887L338.3 888.9L341.2 890.7L344.3 892.4L347.4 894.1L350.6 895.7L353.9 897.3L357.3 898.8L360.8 900.3L364.3 901.7L368 903.1L371.7 904.4L375.6 905.7L379.5 906.9L383.5 908.1L387.6 909.2L391.8 910.3L396.1 911.4L400.5 912.4L405 913.4L409.6 914.3" stroke="#00a800" stroke-width="2.6" fill="none" stroke-linejoin="round" stroke-linecap="butt" clip-path="url(#c14)"/>
<path d="M286.6 816.9L286.6 817L286.7 817.2L286.8 817.5L286.9 818L287.1 818.7L287.4 819.5L287.7 820.4L288.1 821.6L288.6 822.8L289.1 824.1L289.7 825.6L290.3 827.2L291 828.8L291.8 830.5L292.6 832.3L293.6 834.1L294.6 836L295.6 837.9L296.8 839.8L298 841.8L299.3 843.8L300.6 845.9L302.1 847.9L303.6 850L305.2 852.2L306.9 854.3L308.6 856.5L310.5 858.7L312.4 860.9L314.4 863.2L316.5 865.4L318.6 867.6L320.9 869.7L323.2 871.9L325.6 874L328.1 876L330.7 878.1L333.3 880.1L336.1 882.2L338.9 884.2L341.8 886.1L344.8 888.1L347.9 890L351.1 891.9L354.4 893.7L357.7 895.5L361.2 897.1L364.7 898.8L368.3 900.3L372.1 901.8L375.9 903.3L379.8 904.6L383.7 905.9L387.8 907.2L392 908.4L396.3 909.5L400.6 910.6L405.1 911.6L409.6 912.6" stroke="#ff0000" stroke-width="2.6" fill="none" stroke-linejoin="round" stroke-linecap="butt" clip-path="url(#c14)"/>
<circle cx="320.24" cy="870.32" r="3.15" fill="#ff0000"/>
<circle cx="331.58" cy="889.58" r="3.15" fill="#000000"/>
<clipPath id="c24"><rect x="497.7" y="760.92" width="176.2" height="175.6"/></clipPath>
<path d="M599.5 762.22V935.22" stroke="#222" stroke-width="0.7" stroke-dasharray="7.4 1.7 1.1 1.7" fill="none"/>
<path d="M609.5 762.22V935.22" stroke="#666" stroke-width="1.4" stroke-dasharray="1.6 1.8" fill="none"/>
<path d="M549.2 848.7L549.4 848.3L550 847.6L554.1 844.1L562.8 837.3L570.7 831.3L576.2 827.5L581.6 823.8L586.5 820.8L591.3 818.1L595.8 815.8L600.2 813.7L604.4 812L608.5 810.7L612.4 809.6L616.3 808.8L620 808.4L623.8 808.2L627.5 808.4L631.2 808.9L634.7 809.8L637.9 811L641.1 812.6L644.1 814.6L647 816.9L649.4 819.4L651.8 822.4L653.8 825.6L655.6 829.1L657 832.7L658.2 836.6L659 840.5L659.5 844.6L659.7 848.7L659.5 852.8L659 857L658.2 860.8L657 864.7L655.6 868.4L653.8 871.8L651.8 875L649.4 878L647 880.5L644.1 882.9L641.1 884.8L637.9 886.4L634.7 887.6L631.2 888.5L627.5 889L623.8 889.2L620 889.1L616.3 888.6L612.4 887.8L608.5 886.8L604.4 885.4L600.2 883.7L595.8 881.7L591.3 879.4L586.5 876.7L581.6 873.6L576.2 870L570.7 866.1L562.8 860.2L554.1 853.3L550 849.9L549.4 849.2Z" stroke="#ff0000" stroke-width="2.6" fill="none" stroke-linejoin="round"/>
<path d="M567.6 848.7L567.9 846.5L568.7 844.1L570 841.7L572 839.1L574.4 836.6L577.6 833.8L581.3 831L585.1 828.4L589.2 826L593.3 823.9L597.5 822.1L601.5 820.6L605.6 819.4L609.7 818.6L613.5 818.1L617.1 817.9L620.3 818.1L623.5 818.5L626.5 819.2L629.3 820.1L631.9 821.2L634.4 822.7L636.8 824.4L638.9 826.4L640.8 828.5L642.6 831L644.1 833.5L645.4 836.3L646.3 839.1L647.1 842.2L647.5 845.3L647.7 848.7L647.5 852.1L647.1 855.2L646.3 858.3L645.4 861.1L644.1 863.9L642.6 866.5L640.8 868.9L638.9 871.1L636.8 873L634.4 874.7L631.9 876.2L629.3 877.3L626.5 878.3L623.5 879L620.3 879.4L617.1 879.5L613.5 879.4L609.7 878.9L605.6 878L601.5 876.8L597.5 875.3L593.3 873.5L589.2 871.4L585.1 869L581.3 866.5L577.6 863.7L574.4 860.8L572 858.3L570 855.8L568.7 853.4L567.9 851Z" stroke="#80008a" stroke-width="2.6" fill="none" stroke-linejoin="round"/>
<path d="M577.8 848.7L578 846.7L578.4 844.9L579.4 842.8L580.7 840.8L582.4 838.7L584.6 836.7L587.1 834.6L589.5 832.9L592.4 831.2L595.5 829.6L601.8 827.1L608 825.6L611.1 825.2L614 825.1L619.1 825.5L621.6 826L624 826.8L626.2 827.8L628.2 828.9L630.2 830.2L631.9 831.7L633.6 833.4L635 835.2L636.2 837.3L637.2 839.3L638.1 841.7L638.6 844L639 846.4L639.1 848.7L639 851.1L638.6 853.4L638.1 855.8L637.2 858.1L636.2 860.2L635 862.2L633.6 864L631.9 865.8L630.2 867.2L628.2 868.6L626.2 869.7L624 870.6L621.6 871.4L619.1 871.9L614 872.3L611.1 872.2L608 871.8L601.8 870.3L595.5 867.8L592.4 866.3L589.5 864.5L587.1 862.8L584.6 860.8L582.4 858.7L580.7 856.6L579.4 854.6L578.4 852.5L578 850.8Z" stroke="#0000ff" stroke-width="2.6" fill="none" stroke-linejoin="round"/>
<path d="M588.8 848.7L588.9 847.1L589.3 845.8L589.9 844.2L590.7 842.9L592.8 840.3L595.8 837.9L599.4 835.8L603.3 834.3L607.4 833.3L611.5 833L615.2 833.3L618.5 834.2L621.5 835.5L624.2 837.5L626.3 839.7L628 842.6L628.9 845.5L629.3 848.7L628.9 851.9L628 854.8L626.3 857.7L624.2 860L621.5 861.9L618.5 863.3L615.2 864.1L611.5 864.4L607.4 864.1L603.3 863.1L599.4 861.6L595.8 859.5L592.8 857.1L590.7 854.5L589.9 853.2L589.3 851.6L588.9 850.3Z" stroke="#00a800" stroke-width="2.6" fill="none" stroke-linejoin="round"/>
<circle cx="599.5" cy="848.72" r="1.5" fill="#ff0000"/>
<circle cx="602.6" cy="848.72" r="1.5" fill="#80008a"/>
<circle cx="604.8" cy="848.72" r="1.5" fill="#0000ff"/>
<circle cx="607.2" cy="848.72" r="1.5" fill="#00a800"/>
<circle cx="609.6" cy="848.72" r="1.65" fill="#000"/>
<path d="M49.26 179.5v-1.5M49.26 6.5v1.5M54.59 179.5v-1.5M54.59 6.5v1.5M59.92 179.5v-2.7M59.92 6.5v2.7M65.25 179.5v-1.5M65.25 6.5v1.5M70.58 179.5v-1.5M70.58 6.5v1.5M75.91 179.5v-1.5M75.91 6.5v1.5M81.24 179.5v-1.5M81.24 6.5v1.5M86.57 179.5v-2.7M86.57 6.5v2.7M91.9 179.5v-1.5M91.9 6.5v1.5M97.23 179.5v-1.5M97.23 6.5v1.5M102.56 179.5v-1.5M102.56 6.5v1.5M107.89 179.5v-1.5M107.89 6.5v1.5M113.22 179.5v-2.7M113.22 6.5v2.7M118.54 179.5v-1.5M118.54 6.5v1.5M123.87 179.5v-1.5M123.87 6.5v1.5M129.2 179.5v-1.5M129.2 6.5v1.5M134.53 179.5v-1.5M134.53 6.5v1.5M139.86 179.5v-2.7M139.86 6.5v2.7M145.19 179.5v-1.5M145.19 6.5v1.5M150.52 179.5v-1.5M150.52 6.5v1.5M155.85 179.5v-1.5M155.85 6.5v1.5M161.18 179.5v-1.5M161.18 6.5v1.5M166.51 179.5v-2.7M166.51 6.5v2.7M171.84 179.5v-1.5M171.84 6.5v1.5M177.17 179.5v-1.5M177.17 6.5v1.5M182.5 179.5v-1.5M182.5 6.5v1.5M187.82 179.5v-1.5M187.82 6.5v1.5M193.15 179.5v-2.7M193.15 6.5v2.7M198.48 179.5v-1.5M198.48 6.5v1.5M203.81 179.5v-1.5M203.81 6.5v1.5M209.14 179.5v-1.5M209.14 6.5v1.5M214.47 179.5v-1.5M214.47 6.5v1.5M219.8 179.5v-2.7M219.8 6.5v2.7M46.6 179.5h2.7M219.8 179.5h-2.7M46.6 172.29h1.5M219.8 172.29h-1.5M46.6 165.08h1.5M219.8 165.08h-1.5M46.6 157.88h1.5M219.8 157.88h-1.5M46.6 150.67h2.7M219.8 150.67h-2.7M46.6 143.46h1.5M219.8 143.46h-1.5M46.6 136.25h1.5M219.8 136.25h-1.5M46.6 129.04h1.5M219.8 129.04h-1.5M46.6 121.83h2.7M219.8 121.83h-2.7M46.6 114.62h1.5M219.8 114.62h-1.5M46.6 107.42h1.5M219.8 107.42h-1.5M46.6 100.21h1.5M219.8 100.21h-1.5M46.6 93h2.7M219.8 93h-2.7M46.6 85.79h1.5M219.8 85.79h-1.5M46.6 78.58h1.5M219.8 78.58h-1.5M46.6 71.38h1.5M219.8 71.38h-1.5M46.6 64.17h2.7M219.8 64.17h-2.7M46.6 56.96h1.5M219.8 56.96h-1.5M46.6 49.75h1.5M219.8 49.75h-1.5M46.6 42.54h1.5M219.8 42.54h-1.5M46.6 35.33h2.7M219.8 35.33h-2.7M46.6 28.12h1.5M219.8 28.12h-1.5M46.6 20.92h1.5M219.8 20.92h-1.5M46.6 13.71h1.5M219.8 13.71h-1.5M46.6 6.5h2.7M219.8 6.5h-2.7" stroke="#666" stroke-width="0.7" fill="none"/>
<rect x="46.6" y="6.5" width="173.2" height="173" fill="none" stroke="#666" stroke-width="0.75"/>
<text class="b" x="43.9" y="184.44" text-anchor="end" font-size="15.2"  >0</text>
<text class="b" x="43.9" y="156.6" text-anchor="end" font-size="15.2"  >0.2</text>
<text class="b" x="43.9" y="127.77" text-anchor="end" font-size="15.2"  >0.4</text>
<text class="b" x="43.9" y="98.94" text-anchor="end" font-size="15.2"  >0.6</text>
<text class="b" x="43.9" y="70.1" text-anchor="end" font-size="15.2"  >0.8</text>
<text class="b" x="43.9" y="41.27" text-anchor="end" font-size="15.2"  >1.0</text>
<text class="b" x="43.9" y="12.44" text-anchor="end" font-size="15.2"  >1.2</text>
<g transform="translate(11,91.1) rotate(-90)">
<text class="b" x="-64.18" y="0" font-size="15.4" font-style="italic" fill="#000">ω</text>
<text class="b" x="-53.01" y="3.2" font-size="10.2" font-style="italic" fill="#000">r,0</text>
<text class="b" x="-39.39" y="0" font-size="15.4" font-style="italic" fill="#000">/</text>
<text class="b" x="-34.11" y="0" font-size="15.4" font-style="italic" fill="#000">2π</text>
<text class="b" x="-13.9" y="0" font-size="15.4" fill="#000">[kHz·</text>
<text class="b" x="22.52" y="0" font-size="15.4" font-style="italic" fill="#000">M/M</text>
<circle cx="55.65" cy="1" r="3" fill="none" stroke="#000" stroke-width="0.8"/>
<circle cx="55.65" cy="1" r="0.55" fill="#000"/>
<text class="b" x="59.05" y="0" font-size="15.4" fill="#000">]</text>
</g>
<text class="b" x="211.3" y="23.5" text-anchor="end" font-size="15.2"  >Schwarz.</text>
<path d="M238.47 180.4v-1.5M238.47 6.5v1.5M243.82 180.4v-1.5M243.82 6.5v1.5M249.17 180.4v-2.7M249.17 6.5v2.7M254.52 180.4v-1.5M254.52 6.5v1.5M259.86 180.4v-1.5M259.86 6.5v1.5M265.21 180.4v-1.5M265.21 6.5v1.5M270.56 180.4v-1.5M270.56 6.5v1.5M275.91 180.4v-2.7M275.91 6.5v2.7M281.26 180.4v-1.5M281.26 6.5v1.5M286.6 180.4v-1.5M286.6 6.5v1.5M291.95 180.4v-1.5M291.95 6.5v1.5M297.3 180.4v-1.5M297.3 6.5v1.5M302.65 180.4v-2.7M302.65 6.5v2.7M307.99 180.4v-1.5M307.99 6.5v1.5M313.34 180.4v-1.5M313.34 6.5v1.5M318.69 180.4v-1.5M318.69 6.5v1.5M324.04 180.4v-1.5M324.04 6.5v1.5M329.38 180.4v-2.7M329.38 6.5v2.7M334.73 180.4v-1.5M334.73 6.5v1.5M340.08 180.4v-1.5M340.08 6.5v1.5M345.43 180.4v-1.5M345.43 6.5v1.5M350.78 180.4v-1.5M350.78 6.5v1.5M356.12 180.4v-2.7M356.12 6.5v2.7M361.47 180.4v-1.5M361.47 6.5v1.5M366.82 180.4v-1.5M366.82 6.5v1.5M372.17 180.4v-1.5M372.17 6.5v1.5M377.51 180.4v-1.5M377.51 6.5v1.5M382.86 180.4v-2.7M382.86 6.5v2.7M388.21 180.4v-1.5M388.21 6.5v1.5M393.56 180.4v-1.5M393.56 6.5v1.5M398.9 180.4v-1.5M398.9 6.5v1.5M404.25 180.4v-1.5M404.25 6.5v1.5M409.6 180.4v-2.7M409.6 6.5v2.7M235.8 180.4h2.7M409.6 180.4h-2.7M235.8 173.44h1.5M409.6 173.44h-1.5M235.8 166.49h1.5M409.6 166.49h-1.5M235.8 159.53h1.5M409.6 159.53h-1.5M235.8 152.58h1.5M409.6 152.58h-1.5M235.8 145.62h2.7M409.6 145.62h-2.7M235.8 138.66h1.5M409.6 138.66h-1.5M235.8 131.71h1.5M409.6 131.71h-1.5M235.8 124.75h1.5M409.6 124.75h-1.5M235.8 117.8h1.5M409.6 117.8h-1.5M235.8 110.84h2.7M409.6 110.84h-2.7M235.8 103.88h1.5M409.6 103.88h-1.5M235.8 96.93h1.5M409.6 96.93h-1.5M235.8 89.97h1.5M409.6 89.97h-1.5M235.8 83.02h1.5M409.6 83.02h-1.5M235.8 76.06h2.7M409.6 76.06h-2.7M235.8 69.1h1.5M409.6 69.1h-1.5M235.8 62.15h1.5M409.6 62.15h-1.5M235.8 55.19h1.5M409.6 55.19h-1.5M235.8 48.24h1.5M409.6 48.24h-1.5M235.8 41.28h2.7M409.6 41.28h-2.7M235.8 34.32h1.5M409.6 34.32h-1.5M235.8 27.37h1.5M409.6 27.37h-1.5M235.8 20.41h1.5M409.6 20.41h-1.5M235.8 13.46h1.5M409.6 13.46h-1.5M235.8 6.5h2.7M409.6 6.5h-2.7" stroke="#666" stroke-width="0.7" fill="none"/>
<rect x="235.8" y="6.5" width="173.8" height="173.9" fill="none" stroke="#666" stroke-width="0.75"/>
<text class="b" x="422" y="184.84" text-anchor="middle" font-size="15.2"  >0</text>
<text class="b" x="422" y="151.56" text-anchor="middle" font-size="15.2"  >0.5</text>
<text class="b" x="422" y="116.78" text-anchor="middle" font-size="15.2"  >1.0</text>
<text class="b" x="422" y="82" text-anchor="middle" font-size="15.2"  >1.5</text>
<text class="b" x="422" y="47.22" text-anchor="middle" font-size="15.2"  >2.0</text>
<text class="b" x="422" y="12.44" text-anchor="middle" font-size="15.2"  >2.5</text>
<g transform="translate(449.8,90.7) rotate(-90)">
<text class="b" x="-65.85" y="0" font-size="15.6" font-style="italic" fill="#000">ω</text>
<text class="b" x="-54.54" y="3.2" font-size="10.2" fill="#000">r,-1</text>
<text class="b" x="-38.5" y="0" font-size="15.6" font-style="italic" fill="#000">/</text>
<text class="b" x="-33.36" y="0" font-size="15.6" font-style="italic" fill="#000">2π</text>
<text class="b" x="-13.15" y="0" font-size="15.6" fill="#000">[kHz·</text>
<text class="b" x="23.73" y="0" font-size="15.6" font-style="italic" fill="#000">M/M</text>
<circle cx="57.26" cy="1" r="3" fill="none" stroke="#000" stroke-width="0.8"/>
<circle cx="57.26" cy="1" r="0.55" fill="#000"/>
<text class="b" x="60.66" y="0" font-size="15.6" fill="#000">]</text>
</g>
<path d="M322.4 16.8H336.2" stroke="#ff0000" stroke-width="1.2"/>
<text class="b" x="340.1" y="21.2" font-size="12.2" font-style="italic" fill="#000">β</text>
<text class="b" x="351.4" y="21.2" font-size="12.2" fill="#000">=</text>
<text class="b" x="362.7" y="21.2" font-size="12.2" font-style="italic" fill="#000">β</text>
<text class="b" x="368.6" y="23.5" font-size="8.2" fill="#000">cusp</text>
<path d="M322.4 32.9H336.2" stroke="#80008a" stroke-width="1.5"/>
<text class="b" x="340.1" y="37.3" font-size="12.2" font-style="italic" fill="#000">β</text>
<text class="b" x="351.4" y="37.3" font-size="12.2" fill="#000">=</text>
<text class="b" x="363.3" y="37.3" font-size="12.2" fill="#000">0.7</text>
<text class="b" x="383.2" y="37.3" font-size="12.2" font-style="italic" fill="#000">β</text>
<text class="b" x="388.9" y="39.6" font-size="8.2" fill="#000">cusp</text>
<path d="M322.4 48.2H336.2" stroke="#0000ff" stroke-width="1.9"/>
<text class="b" x="340.1" y="52.6" font-size="12.2" font-style="italic" fill="#000">β</text>
<text class="b" x="351.4" y="52.6" font-size="12.2" fill="#000">=</text>
<text class="b" x="363.3" y="52.6" font-size="12.2" fill="#000">0.5</text>
<text class="b" x="383.2" y="52.6" font-size="12.2" font-style="italic" fill="#000">β</text>
<text class="b" x="388.9" y="54.9" font-size="8.2" fill="#000">cusp</text>
<path d="M322.4 64.1H336.2" stroke="#00a800" stroke-width="2.4"/>
<text class="b" x="340.1" y="68.5" font-size="12.2" font-style="italic" fill="#000">β</text>
<text class="b" x="351.4" y="68.5" font-size="12.2" fill="#000">=</text>
<text class="b" x="363.3" y="68.5" font-size="12.2" fill="#000">0.3</text>
<text class="b" x="383.2" y="68.5" font-size="12.2" font-style="italic" fill="#000">β</text>
<text class="b" x="388.9" y="70.8" font-size="8.2" fill="#000">cusp</text>
<path d="M322.4 79.6H336.2" stroke="#000000" stroke-width="3.0"/>
<text class="b" x="340.1" y="84" font-size="12.2" font-style="italic" fill="#000">β</text>
<text class="b" x="351.4" y="84" font-size="12.2" fill="#000">=</text>
<text class="b" x="363.3" y="84" font-size="12.2" fill="#000">0</text>
<path d="M499 179.5v-2.1M499 6.5v2.1M509.85 179.5v-1.2M509.85 6.5v1.2M520.7 179.5v-2.1M520.7 6.5v2.1M531.55 179.5v-1.2M531.55 6.5v1.2M542.4 179.5v-2.1M542.4 6.5v2.1M553.25 179.5v-1.2M553.25 6.5v1.2M564.1 179.5v-2.1M564.1 6.5v2.1M574.95 179.5v-1.2M574.95 6.5v1.2M585.8 179.5v-2.1M585.8 6.5v2.1M596.65 179.5v-1.2M596.65 6.5v1.2M607.5 179.5v-2.1M607.5 6.5v2.1M618.35 179.5v-1.2M618.35 6.5v1.2M629.2 179.5v-2.1M629.2 6.5v2.1M640.05 179.5v-1.2M640.05 6.5v1.2M650.9 179.5v-2.1M650.9 6.5v2.1M661.75 179.5v-1.2M661.75 6.5v1.2M672.6 179.5v-2.1M672.6 6.5v2.1M499 179.5h2.1M672.6 179.5h-2.1M499 173.73h1.2M672.6 173.73h-1.2M499 167.97h1.2M672.6 167.97h-1.2M499 162.2h1.2M672.6 162.2h-1.2M499 156.43h1.2M672.6 156.43h-1.2M499 150.67h2.1M672.6 150.67h-2.1M499 144.9h1.2M672.6 144.9h-1.2M499 139.13h1.2M672.6 139.13h-1.2M499 133.37h1.2M672.6 133.37h-1.2M499 127.6h1.2M672.6 127.6h-1.2M499 121.83h2.1M672.6 121.83h-2.1M499 116.07h1.2M672.6 116.07h-1.2M499 110.3h1.2M672.6 110.3h-1.2M499 104.53h1.2M672.6 104.53h-1.2M499 98.77h1.2M672.6 98.77h-1.2M499 93h2.1M672.6 93h-2.1M499 87.23h1.2M672.6 87.23h-1.2M499 81.47h1.2M672.6 81.47h-1.2M499 75.7h1.2M672.6 75.7h-1.2M499 69.93h1.2M672.6 69.93h-1.2M499 64.17h2.1M672.6 64.17h-2.1M499 58.4h1.2M672.6 58.4h-1.2M499 52.63h1.2M672.6 52.63h-1.2M499 46.87h1.2M672.6 46.87h-1.2M499 41.1h1.2M672.6 41.1h-1.2M499 35.33h2.1M672.6 35.33h-2.1M499 29.57h1.2M672.6 29.57h-1.2M499 23.8h1.2M672.6 23.8h-1.2M499 18.03h1.2M672.6 18.03h-1.2M499 12.27h1.2M672.6 12.27h-1.2M499 6.5h2.1M672.6 6.5h-2.1" stroke="#666" stroke-width="0.7" fill="none"/>
<rect x="499" y="6.5" width="173.6" height="173" fill="none" stroke="#666" stroke-width="0.75"/>
<text class="b" x="684.6" y="184.34" text-anchor="end" font-size="15.2"  >-3</text>
<text class="b" x="684.6" y="156.6" text-anchor="end" font-size="15.2"  >-2</text>
<text class="b" x="684.6" y="127.77" text-anchor="end" font-size="15.2"  >-1</text>
<text class="b" x="684.6" y="98.94" text-anchor="end" font-size="15.2"  >0</text>
<text class="b" x="684.6" y="70.1" text-anchor="end" font-size="15.2"  >1</text>
<text class="b" x="684.6" y="41.27" text-anchor="end" font-size="15.2"  >2</text>
<text class="b" x="684.6" y="12.44" text-anchor="end" font-size="15.2"  >3</text>
<g transform="translate(701.6,95) rotate(-90)">
<text class="b" x="-33.66" y="0" font-size="16.3" font-style="italic" fill="#000">r</text>
<text class="b" x="-26.11" y="0" font-size="16.3" fill="#000">cos</text>
<text class="b" x="-4.08" y="0" font-size="16.3" font-style="italic" fill="#000">θ</text>
<text class="b" x="7.92" y="0" font-size="16.3" fill="#000">[</text>
<text class="b" x="13.65" y="0" font-size="16.3" font-style="italic" fill="#000">M</text>
<text class="b" x="28.23" y="0" font-size="16.3" fill="#000">]</text>
</g>
<path d="M527.4 28.6H555.1" stroke="#222" stroke-width="0.75"/>
<text x="530.2" y="26" font-size="12" font-style="italic" fill="#222">∂</text>
<text x="536.7" y="26" font-size="12" font-style="italic" fill="#222">ω</text>
<text x="545.2" y="27.1" font-size="8.3" font-style="italic" fill="#222">r,0</text>
<text x="533.4" y="38.9" font-size="12" font-style="italic" fill="#222">∂</text>
<text x="541.2" y="38.9" font-size="12" font-style="italic" fill="#222">r</text>
<text x="546.4" y="40.6" font-size="6.64" fill="#222">0</text>
<path d="M557.6 16.9V40.1" stroke="#222" stroke-width="0.8"/>
<text x="568" y="33.1" font-size="13.8" fill="#222">=</text>
<text x="579.2" y="32.9" font-size="13.2" fill="#222">0</text>
<text x="560" y="42.2" font-size="8.2" font-style="italic" fill="#222">β</text>
<text x="566" y="42" font-size="7.38" fill="#222">=</text>
<text x="571.8" y="42.2" font-size="8.2" font-style="italic" fill="#222">β</text>
<text x="576.2" y="43.8" font-size="6.2" font-style="italic" fill="#222">cusp</text>
<path d="M611.1 28.6H637" stroke="#222" stroke-width="0.75"/>
<text x="613.72" y="26.17" font-size="11.22" font-style="italic" fill="#222">∂</text>
<text x="619.8" y="26.17" font-size="11.22" font-style="italic" fill="#222">ω</text>
<text x="627.74" y="27.2" font-size="7.76" font-style="italic" fill="#222">r,0</text>
<text x="616.71" y="38.23" font-size="11.22" font-style="italic" fill="#222">∂</text>
<text x="624" y="38.23" font-size="11.22" font-style="italic" fill="#222">r</text>
<text x="628.87" y="39.82" font-size="6.21" fill="#222">0</text>
<path d="M639.34 17.66V39.35" stroke="#222" stroke-width="0.8"/>
<text x="649.06" y="32.81" font-size="12.9" fill="#222">=</text>
<text x="659.53" y="32.62" font-size="12.34" fill="#222">0</text>
<text x="641.58" y="41.32" font-size="7.67" font-style="italic" fill="#222">β</text>
<text x="647.19" y="41.13" font-size="6.9" fill="#222">=</text>
<text x="652.8" y="41.32" font-size="7.05" fill="#222">0</text>
<path d="M49.26 368.43v-1.5M49.26 195.43v1.5M54.59 368.43v-1.5M54.59 195.43v1.5M59.92 368.43v-2.7M59.92 195.43v2.7M65.25 368.43v-1.5M65.25 195.43v1.5M70.58 368.43v-1.5M70.58 195.43v1.5M75.91 368.43v-1.5M75.91 195.43v1.5M81.24 368.43v-1.5M81.24 195.43v1.5M86.57 368.43v-2.7M86.57 195.43v2.7M91.9 368.43v-1.5M91.9 195.43v1.5M97.23 368.43v-1.5M97.23 195.43v1.5M102.56 368.43v-1.5M102.56 195.43v1.5M107.89 368.43v-1.5M107.89 195.43v1.5M113.22 368.43v-2.7M113.22 195.43v2.7M118.54 368.43v-1.5M118.54 195.43v1.5M123.87 368.43v-1.5M123.87 195.43v1.5M129.2 368.43v-1.5M129.2 195.43v1.5M134.53 368.43v-1.5M134.53 195.43v1.5M139.86 368.43v-2.7M139.86 195.43v2.7M145.19 368.43v-1.5M145.19 195.43v1.5M150.52 368.43v-1.5M150.52 195.43v1.5M155.85 368.43v-1.5M155.85 195.43v1.5M161.18 368.43v-1.5M161.18 195.43v1.5M166.51 368.43v-2.7M166.51 195.43v2.7M171.84 368.43v-1.5M171.84 195.43v1.5M177.17 368.43v-1.5M177.17 195.43v1.5M182.5 368.43v-1.5M182.5 195.43v1.5M187.82 368.43v-1.5M187.82 195.43v1.5M193.15 368.43v-2.7M193.15 195.43v2.7M198.48 368.43v-1.5M198.48 195.43v1.5M203.81 368.43v-1.5M203.81 195.43v1.5M209.14 368.43v-1.5M209.14 195.43v1.5M214.47 368.43v-1.5M214.47 195.43v1.5M219.8 368.43v-2.7M219.8 195.43v2.7M46.6 368.43h2.7M219.8 368.43h-2.7M46.6 361.22h1.5M219.8 361.22h-1.5M46.6 354.01h1.5M219.8 354.01h-1.5M46.6 346.81h1.5M219.8 346.81h-1.5M46.6 339.6h2.7M219.8 339.6h-2.7M46.6 332.39h1.5M219.8 332.39h-1.5M46.6 325.18h1.5M219.8 325.18h-1.5M46.6 317.97h1.5M219.8 317.97h-1.5M46.6 310.76h2.7M219.8 310.76h-2.7M46.6 303.56h1.5M219.8 303.56h-1.5M46.6 296.35h1.5M219.8 296.35h-1.5M46.6 289.14h1.5M219.8 289.14h-1.5M46.6 281.93h2.7M219.8 281.93h-2.7M46.6 274.72h1.5M219.8 274.72h-1.5M46.6 267.51h1.5M219.8 267.51h-1.5M46.6 260.31h1.5M219.8 260.31h-1.5M46.6 253.1h2.7M219.8 253.1h-2.7M46.6 245.89h1.5M219.8 245.89h-1.5M46.6 238.68h1.5M219.8 238.68h-1.5M46.6 231.47h1.5M219.8 231.47h-1.5M46.6 224.26h2.7M219.8 224.26h-2.7M46.6 217.05h1.5M219.8 217.05h-1.5M46.6 209.85h1.5M219.8 209.85h-1.5M46.6 202.64h1.5M219.8 202.64h-1.5M46.6 195.43h2.7M219.8 195.43h-2.7" stroke="#666" stroke-width="0.7" fill="none"/>
<rect x="46.6" y="195.43" width="173.2" height="173" fill="none" stroke="#666" stroke-width="0.75"/>
<text class="b" x="43.9" y="373.37" text-anchor="end" font-size="15.2"  >0</text>
<text class="b" x="43.9" y="345.53" text-anchor="end" font-size="15.2"  >0.2</text>
<text class="b" x="43.9" y="316.7" text-anchor="end" font-size="15.2"  >0.4</text>
<text class="b" x="43.9" y="287.87" text-anchor="end" font-size="15.2"  >0.6</text>
<text class="b" x="43.9" y="259.03" text-anchor="end" font-size="15.2"  >0.8</text>
<text class="b" x="43.9" y="230.2" text-anchor="end" font-size="15.2"  >1.0</text>
<text class="b" x="43.9" y="201.37" text-anchor="end" font-size="15.2"  >1.2</text>
<g transform="translate(11,280.03) rotate(-90)">
<text class="b" x="-64.18" y="0" font-size="15.4" font-style="italic" fill="#000">ω</text>
<text class="b" x="-53.01" y="3.2" font-size="10.2" font-style="italic" fill="#000">r,0</text>
<text class="b" x="-39.39" y="0" font-size="15.4" font-style="italic" fill="#000">/</text>
<text class="b" x="-34.11" y="0" font-size="15.4" font-style="italic" fill="#000">2π</text>
<text class="b" x="-13.9" y="0" font-size="15.4" fill="#000">[kHz·</text>
<text class="b" x="22.52" y="0" font-size="15.4" font-style="italic" fill="#000">M/M</text>
<circle cx="55.65" cy="1" r="3" fill="none" stroke="#000" stroke-width="0.8"/>
<circle cx="55.65" cy="1" r="0.55" fill="#000"/>
<text class="b" x="59.05" y="0" font-size="15.4" fill="#000">]</text>
</g>
<text class="b" x="213" y="212.43" text-anchor="end" font-size="15.2"  >Lin. Kerr</text>
<path d="M238.47 369.33v-1.5M238.47 195.43v1.5M243.82 369.33v-1.5M243.82 195.43v1.5M249.17 369.33v-2.7M249.17 195.43v2.7M254.52 369.33v-1.5M254.52 195.43v1.5M259.86 369.33v-1.5M259.86 195.43v1.5M265.21 369.33v-1.5M265.21 195.43v1.5M270.56 369.33v-1.5M270.56 195.43v1.5M275.91 369.33v-2.7M275.91 195.43v2.7M281.26 369.33v-1.5M281.26 195.43v1.5M286.6 369.33v-1.5M286.6 195.43v1.5M291.95 369.33v-1.5M291.95 195.43v1.5M297.3 369.33v-1.5M297.3 195.43v1.5M302.65 369.33v-2.7M302.65 195.43v2.7M307.99 369.33v-1.5M307.99 195.43v1.5M313.34 369.33v-1.5M313.34 195.43v1.5M318.69 369.33v-1.5M318.69 195.43v1.5M324.04 369.33v-1.5M324.04 195.43v1.5M329.38 369.33v-2.7M329.38 195.43v2.7M334.73 369.33v-1.5M334.73 195.43v1.5M340.08 369.33v-1.5M340.08 195.43v1.5M345.43 369.33v-1.5M345.43 195.43v1.5M350.78 369.33v-1.5M350.78 195.43v1.5M356.12 369.33v-2.7M356.12 195.43v2.7M361.47 369.33v-1.5M361.47 195.43v1.5M366.82 369.33v-1.5M366.82 195.43v1.5M372.17 369.33v-1.5M372.17 195.43v1.5M377.51 369.33v-1.5M377.51 195.43v1.5M382.86 369.33v-2.7M382.86 195.43v2.7M388.21 369.33v-1.5M388.21 195.43v1.5M393.56 369.33v-1.5M393.56 195.43v1.5M398.9 369.33v-1.5M398.9 195.43v1.5M404.25 369.33v-1.5M404.25 195.43v1.5M409.6 369.33v-2.7M409.6 195.43v2.7M235.8 369.33h2.7M409.6 369.33h-2.7M235.8 362.37h1.5M409.6 362.37h-1.5M235.8 355.42h1.5M409.6 355.42h-1.5M235.8 348.46h1.5M409.6 348.46h-1.5M235.8 341.51h1.5M409.6 341.51h-1.5M235.8 334.55h2.7M409.6 334.55h-2.7M235.8 327.59h1.5M409.6 327.59h-1.5M235.8 320.64h1.5M409.6 320.64h-1.5M235.8 313.68h1.5M409.6 313.68h-1.5M235.8 306.73h1.5M409.6 306.73h-1.5M235.8 299.77h2.7M409.6 299.77h-2.7M235.8 292.81h1.5M409.6 292.81h-1.5M235.8 285.86h1.5M409.6 285.86h-1.5M235.8 278.9h1.5M409.6 278.9h-1.5M235.8 271.95h1.5M409.6 271.95h-1.5M235.8 264.99h2.7M409.6 264.99h-2.7M235.8 258.03h1.5M409.6 258.03h-1.5M235.8 251.08h1.5M409.6 251.08h-1.5M235.8 244.12h1.5M409.6 244.12h-1.5M235.8 237.17h1.5M409.6 237.17h-1.5M235.8 230.21h2.7M409.6 230.21h-2.7M235.8 223.25h1.5M409.6 223.25h-1.5M235.8 216.3h1.5M409.6 216.3h-1.5M235.8 209.34h1.5M409.6 209.34h-1.5M235.8 202.39h1.5M409.6 202.39h-1.5M235.8 195.43h2.7M409.6 195.43h-2.7" stroke="#666" stroke-width="0.7" fill="none"/>
<rect x="235.8" y="195.43" width="173.8" height="173.9" fill="none" stroke="#666" stroke-width="0.75"/>
<text class="b" x="422" y="373.77" text-anchor="middle" font-size="15.2"  >0</text>
<text class="b" x="422" y="340.49" text-anchor="middle" font-size="15.2"  >0.5</text>
<text class="b" x="422" y="305.71" text-anchor="middle" font-size="15.2"  >1.0</text>
<text class="b" x="422" y="270.93" text-anchor="middle" font-size="15.2"  >1.5</text>
<text class="b" x="422" y="236.15" text-anchor="middle" font-size="15.2"  >2.0</text>
<text class="b" x="422" y="201.37" text-anchor="middle" font-size="15.2"  >2.5</text>
<g transform="translate(449.8,279.63) rotate(-90)">
<text class="b" x="-65.85" y="0" font-size="15.6" font-style="italic" fill="#000">ω</text>
<text class="b" x="-54.54" y="3.2" font-size="10.2" fill="#000">r,-1</text>
<text class="b" x="-38.5" y="0" font-size="15.6" font-style="italic" fill="#000">/</text>
<text class="b" x="-33.36" y="0" font-size="15.6" font-style="italic" fill="#000">2π</text>
<text class="b" x="-13.15" y="0" font-size="15.6" fill="#000">[kHz·</text>
<text class="b" x="23.73" y="0" font-size="15.6" font-style="italic" fill="#000">M/M</text>
<circle cx="57.26" cy="1" r="3" fill="none" stroke="#000" stroke-width="0.8"/>
<circle cx="57.26" cy="1" r="0.55" fill="#000"/>
<text class="b" x="60.66" y="0" font-size="15.6" fill="#000">]</text>
</g>
<path d="M303.3 214.5H266" stroke="#111" stroke-width="1.0" fill="none"/>
<path d="M269.9 211.4L265.8 214.5L269.9 217.6" stroke="#111" stroke-width="1.25" fill="none" stroke-linecap="round" stroke-linejoin="miter"/>
<path d="M308.8 214.9H337.05" stroke="#222" stroke-width="0.75"/>
<text x="311.66" y="212.25" font-size="12.24" font-style="italic" fill="#222">∂</text>
<text x="318.29" y="212.25" font-size="12.24" font-style="italic" fill="#222">ω</text>
<text x="326.96" y="213.37" font-size="8.47" font-style="italic" fill="#222">r,0</text>
<text x="314.92" y="225.41" font-size="12.24" font-style="italic" fill="#222">∂</text>
<text x="322.88" y="225.41" font-size="12.24" font-style="italic" fill="#222">r</text>
<text x="328.18" y="227.14" font-size="6.77" fill="#222">0</text>
<path d="M339.6 202.97V226.63" stroke="#222" stroke-width="0.8"/>
<text x="350.21" y="219.49" font-size="14.08" fill="#222">=</text>
<text x="361.64" y="219.29" font-size="13.46" fill="#222">0</text>
<text x="342.05" y="228.77" font-size="8.36" font-style="italic" fill="#222">β</text>
<text x="348.17" y="228.57" font-size="7.53" fill="#222">=</text>
<text x="354.09" y="228.77" font-size="8.36" font-style="italic" fill="#222">β</text>
<text x="358.58" y="230.4" font-size="6.32" font-style="italic" fill="#222">cusp</text>
<path d="M315.2 250.5H280.8" stroke="#111" stroke-width="1.0" fill="none"/>
<path d="M284.7 247.4L280.6 250.5L284.7 253.6" stroke="#111" stroke-width="1.25" fill="none" stroke-linecap="round" stroke-linejoin="miter"/>
<path d="M319.3 251.7H347" stroke="#222" stroke-width="0.75"/>
<text x="322.1" y="249.1" font-size="12" font-style="italic" fill="#222">∂</text>
<text x="328.6" y="249.1" font-size="12" font-style="italic" fill="#222">ω</text>
<text x="337.1" y="250.2" font-size="8.3" font-style="italic" fill="#222">r,0</text>
<text x="325.3" y="262" font-size="12" font-style="italic" fill="#222">∂</text>
<text x="333.1" y="262" font-size="12" font-style="italic" fill="#222">r</text>
<text x="338.3" y="263.7" font-size="6.64" fill="#222">0</text>
<path d="M349.5 240V263.2" stroke="#222" stroke-width="0.8"/>
<text x="359.9" y="256.2" font-size="13.8" fill="#222">=</text>
<text x="371.1" y="256" font-size="13.2" fill="#222">0</text>
<text x="351.9" y="265.3" font-size="8.2" font-style="italic" fill="#222">β</text>
<text x="357.9" y="265.1" font-size="7.38" fill="#222">=</text>
<text x="363.9" y="265.3" font-size="7.54" fill="#222">0</text>
<path d="M299 355.5H240.5" stroke="#111" stroke-width="1.0" fill="none"/>
<path d="M244.4 352.4L240.3 355.5L244.4 358.6" stroke="#111" stroke-width="1.25" fill="none" stroke-linecap="round" stroke-linejoin="miter"/>
<text x="304.6" y="359.7" font-size="13.6" font-style="italic" fill="#222">ω</text>
<text x="314.4" y="361.9" font-size="8.8" font-style="italic" fill="#222">r,0</text>
<text x="329" y="359.5" font-size="12.4" fill="#222">=</text>
<text x="338.2" y="359.7" font-size="13.6" fill="#222">0</text>
<path d="M499 368.43v-2.1M499 195.43v2.1M509.85 368.43v-1.2M509.85 195.43v1.2M520.7 368.43v-2.1M520.7 195.43v2.1M531.55 368.43v-1.2M531.55 195.43v1.2M542.4 368.43v-2.1M542.4 195.43v2.1M553.25 368.43v-1.2M553.25 195.43v1.2M564.1 368.43v-2.1M564.1 195.43v2.1M574.95 368.43v-1.2M574.95 195.43v1.2M585.8 368.43v-2.1M585.8 195.43v2.1M596.65 368.43v-1.2M596.65 195.43v1.2M607.5 368.43v-2.1M607.5 195.43v2.1M618.35 368.43v-1.2M618.35 195.43v1.2M629.2 368.43v-2.1M629.2 195.43v2.1M640.05 368.43v-1.2M640.05 195.43v1.2M650.9 368.43v-2.1M650.9 195.43v2.1M661.75 368.43v-1.2M661.75 195.43v1.2M672.6 368.43v-2.1M672.6 195.43v2.1M499 368.43h2.1M672.6 368.43h-2.1M499 362.66h1.2M672.6 362.66h-1.2M499 356.9h1.2M672.6 356.9h-1.2M499 351.13h1.2M672.6 351.13h-1.2M499 345.36h1.2M672.6 345.36h-1.2M499 339.6h2.1M672.6 339.6h-2.1M499 333.83h1.2M672.6 333.83h-1.2M499 328.06h1.2M672.6 328.06h-1.2M499 322.3h1.2M672.6 322.3h-1.2M499 316.53h1.2M672.6 316.53h-1.2M499 310.76h2.1M672.6 310.76h-2.1M499 305h1.2M672.6 305h-1.2M499 299.23h1.2M672.6 299.23h-1.2M499 293.46h1.2M672.6 293.46h-1.2M499 287.7h1.2M672.6 287.7h-1.2M499 281.93h2.1M672.6 281.93h-2.1M499 276.16h1.2M672.6 276.16h-1.2M499 270.4h1.2M672.6 270.4h-1.2M499 264.63h1.2M672.6 264.63h-1.2M499 258.86h1.2M672.6 258.86h-1.2M499 253.1h2.1M672.6 253.1h-2.1M499 247.33h1.2M672.6 247.33h-1.2M499 241.56h1.2M672.6 241.56h-1.2M499 235.8h1.2M672.6 235.8h-1.2M499 230.03h1.2M672.6 230.03h-1.2M499 224.26h2.1M672.6 224.26h-2.1M499 218.5h1.2M672.6 218.5h-1.2M499 212.73h1.2M672.6 212.73h-1.2M499 206.96h1.2M672.6 206.96h-1.2M499 201.2h1.2M672.6 201.2h-1.2M499 195.43h2.1M672.6 195.43h-2.1" stroke="#666" stroke-width="0.7" fill="none"/>
<rect x="499" y="195.43" width="173.6" height="173" fill="none" stroke="#666" stroke-width="0.75"/>
<text class="b" x="684.6" y="373.27" text-anchor="end" font-size="15.2"  >-3</text>
<text class="b" x="684.6" y="345.53" text-anchor="end" font-size="15.2"  >-2</text>
<text class="b" x="684.6" y="316.7" text-anchor="end" font-size="15.2"  >-1</text>
<text class="b" x="684.6" y="287.87" text-anchor="end" font-size="15.2"  >0</text>
<text class="b" x="684.6" y="259.03" text-anchor="end" font-size="15.2"  >1</text>
<text class="b" x="684.6" y="230.2" text-anchor="end" font-size="15.2"  >2</text>
<text class="b" x="684.6" y="201.37" text-anchor="end" font-size="15.2"  >3</text>
<g transform="translate(701.6,283.93) rotate(-90)">
<text class="b" x="-33.66" y="0" font-size="16.3" font-style="italic" fill="#000">r</text>
<text class="b" x="-26.11" y="0" font-size="16.3" fill="#000">cos</text>
<text class="b" x="-4.08" y="0" font-size="16.3" font-style="italic" fill="#000">θ</text>
<text class="b" x="7.92" y="0" font-size="16.3" fill="#000">[</text>
<text class="b" x="13.65" y="0" font-size="16.3" font-style="italic" fill="#000">M</text>
<text class="b" x="28.23" y="0" font-size="16.3" fill="#000">]</text>
</g>
<path d="M503.7 216.7H524.48" stroke="#222" stroke-width="0.75"/>
<text x="505.8" y="214.75" font-size="9" font-style="italic" fill="#222">∂</text>
<text x="510.68" y="214.75" font-size="9" font-style="italic" fill="#222">ω</text>
<text x="517.05" y="215.57" font-size="6.23" font-style="italic" fill="#222">r,0</text>
<text x="508.2" y="224.42" font-size="9" font-style="italic" fill="#222">∂</text>
<text x="514.05" y="224.42" font-size="9" font-style="italic" fill="#222">r</text>
<text x="517.95" y="225.7" font-size="4.98" fill="#222">0</text>
<path d="M526.35 207.92V225.32" stroke="#222" stroke-width="0.8"/>
<text x="534.15" y="220.07" font-size="10.35" fill="#222">=</text>
<text x="542.55" y="219.92" font-size="9.9" fill="#222">0</text>
<text x="528.15" y="226.9" font-size="6.15" font-style="italic" fill="#222">β</text>
<text x="532.65" y="226.75" font-size="5.53" fill="#222">=</text>
<text x="537" y="226.9" font-size="6.15" font-style="italic" fill="#222">β</text>
<text x="540.3" y="228.1" font-size="4.65" font-style="italic" fill="#222">cusp</text>
<path d="M570.6 218.8H598.85" stroke="#222" stroke-width="0.75"/>
<text x="573.46" y="216.15" font-size="12.24" font-style="italic" fill="#222">∂</text>
<text x="580.09" y="216.15" font-size="12.24" font-style="italic" fill="#222">ω</text>
<text x="588.76" y="217.27" font-size="8.47" font-style="italic" fill="#222">r,0</text>
<text x="576.72" y="229.31" font-size="12.24" font-style="italic" fill="#222">∂</text>
<text x="584.68" y="229.31" font-size="12.24" font-style="italic" fill="#222">r</text>
<text x="589.98" y="231.04" font-size="6.77" fill="#222">0</text>
<path d="M601.4 206.87V230.53" stroke="#222" stroke-width="0.8"/>
<text x="612.01" y="223.39" font-size="14.08" fill="#222">=</text>
<text x="623.44" y="223.19" font-size="13.46" fill="#222">0</text>
<text x="603.85" y="232.67" font-size="8.36" font-style="italic" fill="#222">β</text>
<text x="609.97" y="232.47" font-size="7.53" fill="#222">=</text>
<text x="616.09" y="232.67" font-size="7.69" fill="#222">0</text>
<path d="M49.26 557.36v-1.5M49.26 384.36v1.5M54.59 557.36v-1.5M54.59 384.36v1.5M59.92 557.36v-2.7M59.92 384.36v2.7M65.25 557.36v-1.5M65.25 384.36v1.5M70.58 557.36v-1.5M70.58 384.36v1.5M75.91 557.36v-1.5M75.91 384.36v1.5M81.24 557.36v-1.5M81.24 384.36v1.5M86.57 557.36v-2.7M86.57 384.36v2.7M91.9 557.36v-1.5M91.9 384.36v1.5M97.23 557.36v-1.5M97.23 384.36v1.5M102.56 557.36v-1.5M102.56 384.36v1.5M107.89 557.36v-1.5M107.89 384.36v1.5M113.22 557.36v-2.7M113.22 384.36v2.7M118.54 557.36v-1.5M118.54 384.36v1.5M123.87 557.36v-1.5M123.87 384.36v1.5M129.2 557.36v-1.5M129.2 384.36v1.5M134.53 557.36v-1.5M134.53 384.36v1.5M139.86 557.36v-2.7M139.86 384.36v2.7M145.19 557.36v-1.5M145.19 384.36v1.5M150.52 557.36v-1.5M150.52 384.36v1.5M155.85 557.36v-1.5M155.85 384.36v1.5M161.18 557.36v-1.5M161.18 384.36v1.5M166.51 557.36v-2.7M166.51 384.36v2.7M171.84 557.36v-1.5M171.84 384.36v1.5M177.17 557.36v-1.5M177.17 384.36v1.5M182.5 557.36v-1.5M182.5 384.36v1.5M187.82 557.36v-1.5M187.82 384.36v1.5M193.15 557.36v-2.7M193.15 384.36v2.7M198.48 557.36v-1.5M198.48 384.36v1.5M203.81 557.36v-1.5M203.81 384.36v1.5M209.14 557.36v-1.5M209.14 384.36v1.5M214.47 557.36v-1.5M214.47 384.36v1.5M219.8 557.36v-2.7M219.8 384.36v2.7M46.6 557.36h2.7M219.8 557.36h-2.7M46.6 550.15h1.5M219.8 550.15h-1.5M46.6 542.94h1.5M219.8 542.94h-1.5M46.6 535.74h1.5M219.8 535.74h-1.5M46.6 528.53h2.7M219.8 528.53h-2.7M46.6 521.32h1.5M219.8 521.32h-1.5M46.6 514.11h1.5M219.8 514.11h-1.5M46.6 506.9h1.5M219.8 506.9h-1.5M46.6 499.69h2.7M219.8 499.69h-2.7M46.6 492.49h1.5M219.8 492.49h-1.5M46.6 485.28h1.5M219.8 485.28h-1.5M46.6 478.07h1.5M219.8 478.07h-1.5M46.6 470.86h2.7M219.8 470.86h-2.7M46.6 463.65h1.5M219.8 463.65h-1.5M46.6 456.44h1.5M219.8 456.44h-1.5M46.6 449.24h1.5M219.8 449.24h-1.5M46.6 442.03h2.7M219.8 442.03h-2.7M46.6 434.82h1.5M219.8 434.82h-1.5M46.6 427.61h1.5M219.8 427.61h-1.5M46.6 420.4h1.5M219.8 420.4h-1.5M46.6 413.19h2.7M219.8 413.19h-2.7M46.6 405.99h1.5M219.8 405.99h-1.5M46.6 398.78h1.5M219.8 398.78h-1.5M46.6 391.57h1.5M219.8 391.57h-1.5M46.6 384.36h2.7M219.8 384.36h-2.7" stroke="#666" stroke-width="0.7" fill="none"/>
<rect x="46.6" y="384.36" width="173.2" height="173" fill="none" stroke="#666" stroke-width="0.75"/>
<text class="b" x="43.9" y="562.3" text-anchor="end" font-size="15.2"  >0</text>
<text class="b" x="43.9" y="534.46" text-anchor="end" font-size="15.2"  >0.2</text>
<text class="b" x="43.9" y="505.63" text-anchor="end" font-size="15.2"  >0.4</text>
<text class="b" x="43.9" y="476.8" text-anchor="end" font-size="15.2"  >0.6</text>
<text class="b" x="43.9" y="447.96" text-anchor="end" font-size="15.2"  >0.8</text>
<text class="b" x="43.9" y="419.13" text-anchor="end" font-size="15.2"  >1.0</text>
<text class="b" x="43.9" y="390.3" text-anchor="end" font-size="15.2"  >1.2</text>
<g transform="translate(11,468.96) rotate(-90)">
<text class="b" x="-64.18" y="0" font-size="15.4" font-style="italic" fill="#000">ω</text>
<text class="b" x="-53.01" y="3.2" font-size="10.2" font-style="italic" fill="#000">r,0</text>
<text class="b" x="-39.39" y="0" font-size="15.4" font-style="italic" fill="#000">/</text>
<text class="b" x="-34.11" y="0" font-size="15.4" font-style="italic" fill="#000">2π</text>
<text class="b" x="-13.9" y="0" font-size="15.4" fill="#000">[kHz·</text>
<text class="b" x="22.52" y="0" font-size="15.4" font-style="italic" fill="#000">M/M</text>
<circle cx="55.65" cy="1" r="3" fill="none" stroke="#000" stroke-width="0.8"/>
<circle cx="55.65" cy="1" r="0.55" fill="#000"/>
<text class="b" x="59.05" y="0" font-size="15.4" fill="#000">]</text>
</g>
<text class="b" x="211.3" y="401.36" text-anchor="end" font-size="15.2"  >Kerr</text>
<path d="M238.47 558.26v-1.5M238.47 384.36v1.5M243.82 558.26v-1.5M243.82 384.36v1.5M249.17 558.26v-2.7M249.17 384.36v2.7M254.52 558.26v-1.5M254.52 384.36v1.5M259.86 558.26v-1.5M259.86 384.36v1.5M265.21 558.26v-1.5M265.21 384.36v1.5M270.56 558.26v-1.5M270.56 384.36v1.5M275.91 558.26v-2.7M275.91 384.36v2.7M281.26 558.26v-1.5M281.26 384.36v1.5M286.6 558.26v-1.5M286.6 384.36v1.5M291.95 558.26v-1.5M291.95 384.36v1.5M297.3 558.26v-1.5M297.3 384.36v1.5M302.65 558.26v-2.7M302.65 384.36v2.7M307.99 558.26v-1.5M307.99 384.36v1.5M313.34 558.26v-1.5M313.34 384.36v1.5M318.69 558.26v-1.5M318.69 384.36v1.5M324.04 558.26v-1.5M324.04 384.36v1.5M329.38 558.26v-2.7M329.38 384.36v2.7M334.73 558.26v-1.5M334.73 384.36v1.5M340.08 558.26v-1.5M340.08 384.36v1.5M345.43 558.26v-1.5M345.43 384.36v1.5M350.78 558.26v-1.5M350.78 384.36v1.5M356.12 558.26v-2.7M356.12 384.36v2.7M361.47 558.26v-1.5M361.47 384.36v1.5M366.82 558.26v-1.5M366.82 384.36v1.5M372.17 558.26v-1.5M372.17 384.36v1.5M377.51 558.26v-1.5M377.51 384.36v1.5M382.86 558.26v-2.7M382.86 384.36v2.7M388.21 558.26v-1.5M388.21 384.36v1.5M393.56 558.26v-1.5M393.56 384.36v1.5M398.9 558.26v-1.5M398.9 384.36v1.5M404.25 558.26v-1.5M404.25 384.36v1.5M409.6 558.26v-2.7M409.6 384.36v2.7M235.8 558.26h2.7M409.6 558.26h-2.7M235.8 551.3h1.5M409.6 551.3h-1.5M235.8 544.35h1.5M409.6 544.35h-1.5M235.8 537.39h1.5M409.6 537.39h-1.5M235.8 530.44h1.5M409.6 530.44h-1.5M235.8 523.48h2.7M409.6 523.48h-2.7M235.8 516.52h1.5M409.6 516.52h-1.5M235.8 509.57h1.5M409.6 509.57h-1.5M235.8 502.61h1.5M409.6 502.61h-1.5M235.8 495.66h1.5M409.6 495.66h-1.5M235.8 488.7h2.7M409.6 488.7h-2.7M235.8 481.74h1.5M409.6 481.74h-1.5M235.8 474.79h1.5M409.6 474.79h-1.5M235.8 467.83h1.5M409.6 467.83h-1.5M235.8 460.88h1.5M409.6 460.88h-1.5M235.8 453.92h2.7M409.6 453.92h-2.7M235.8 446.96h1.5M409.6 446.96h-1.5M235.8 440.01h1.5M409.6 440.01h-1.5M235.8 433.05h1.5M409.6 433.05h-1.5M235.8 426.1h1.5M409.6 426.1h-1.5M235.8 419.14h2.7M409.6 419.14h-2.7M235.8 412.18h1.5M409.6 412.18h-1.5M235.8 405.23h1.5M409.6 405.23h-1.5M235.8 398.27h1.5M409.6 398.27h-1.5M235.8 391.32h1.5M409.6 391.32h-1.5M235.8 384.36h2.7M409.6 384.36h-2.7" stroke="#666" stroke-width="0.7" fill="none"/>
<rect x="235.8" y="384.36" width="173.8" height="173.9" fill="none" stroke="#666" stroke-width="0.75"/>
<text class="b" x="422" y="562.7" text-anchor="middle" font-size="15.2"  >0</text>
<text class="b" x="422" y="529.42" text-anchor="middle" font-size="15.2"  >0.5</text>
<text class="b" x="422" y="494.64" text-anchor="middle" font-size="15.2"  >1.0</text>
<text class="b" x="422" y="459.86" text-anchor="middle" font-size="15.2"  >1.5</text>
<text class="b" x="422" y="425.08" text-anchor="middle" font-size="15.2"  >2.0</text>
<text class="b" x="422" y="390.3" text-anchor="middle" font-size="15.2"  >2.5</text>
<g transform="translate(449.8,468.56) rotate(-90)">
<text class="b" x="-65.85" y="0" font-size="15.6" font-style="italic" fill="#000">ω</text>
<text class="b" x="-54.54" y="3.2" font-size="10.2" fill="#000">r,-1</text>
<text class="b" x="-38.5" y="0" font-size="15.6" font-style="italic" fill="#000">/</text>
<text class="b" x="-33.36" y="0" font-size="15.6" font-style="italic" fill="#000">2π</text>
<text class="b" x="-13.15" y="0" font-size="15.6" fill="#000">[kHz·</text>
<text class="b" x="23.73" y="0" font-size="15.6" font-style="italic" fill="#000">M/M</text>
<circle cx="57.26" cy="1" r="3" fill="none" stroke="#000" stroke-width="0.8"/>
<circle cx="57.26" cy="1" r="0.55" fill="#000"/>
<text class="b" x="60.66" y="0" font-size="15.6" fill="#000">]</text>
</g>
<path d="M308.2 409.5H274" stroke="#111" stroke-width="1.0" fill="none"/>
<path d="M277.9 406.4L273.8 409.5L277.9 412.6" stroke="#111" stroke-width="1.25" fill="none" stroke-linecap="round" stroke-linejoin="miter"/>
<path d="M314.8 410.1H343.05" stroke="#222" stroke-width="0.75"/>
<text x="317.66" y="407.45" font-size="12.24" font-style="italic" fill="#222">∂</text>
<text x="324.29" y="407.45" font-size="12.24" font-style="italic" fill="#222">ω</text>
<text x="332.96" y="408.57" font-size="8.47" font-style="italic" fill="#222">r,0</text>
<text x="320.92" y="420.61" font-size="12.24" font-style="italic" fill="#222">∂</text>
<text x="328.88" y="420.61" font-size="12.24" font-style="italic" fill="#222">r</text>
<text x="334.18" y="422.34" font-size="6.77" fill="#222">0</text>
<path d="M345.6 398.17V421.83" stroke="#222" stroke-width="0.8"/>
<text x="356.21" y="414.69" font-size="14.08" fill="#222">=</text>
<text x="367.64" y="414.49" font-size="13.46" fill="#222">0</text>
<text x="348.05" y="423.97" font-size="8.36" font-style="italic" fill="#222">β</text>
<text x="354.17" y="423.77" font-size="7.53" fill="#222">=</text>
<text x="360.09" y="423.97" font-size="8.36" font-style="italic" fill="#222">β</text>
<text x="364.58" y="425.6" font-size="6.32" font-style="italic" fill="#222">cusp</text>
<path d="M318.8 454.5H285" stroke="#111" stroke-width="1.0" fill="none"/>
<path d="M288.9 451.4L284.8 454.5L288.9 457.6" stroke="#111" stroke-width="1.25" fill="none" stroke-linecap="round" stroke-linejoin="miter"/>
<path d="M322.7 456H350.95" stroke="#222" stroke-width="0.75"/>
<text x="325.56" y="453.35" font-size="12.24" font-style="italic" fill="#222">∂</text>
<text x="332.19" y="453.35" font-size="12.24" font-style="italic" fill="#222">ω</text>
<text x="340.86" y="454.47" font-size="8.47" font-style="italic" fill="#222">r,0</text>
<text x="328.82" y="466.51" font-size="12.24" font-style="italic" fill="#222">∂</text>
<text x="336.78" y="466.51" font-size="12.24" font-style="italic" fill="#222">r</text>
<text x="342.08" y="468.24" font-size="6.77" fill="#222">0</text>
<path d="M353.5 444.07V467.73" stroke="#222" stroke-width="0.8"/>
<text x="364.11" y="460.59" font-size="14.08" fill="#222">=</text>
<text x="375.54" y="460.39" font-size="13.46" fill="#222">0</text>
<text x="355.95" y="469.87" font-size="8.36" font-style="italic" fill="#222">β</text>
<text x="362.07" y="469.67" font-size="7.53" fill="#222">=</text>
<text x="368.19" y="469.87" font-size="7.69" fill="#222">0</text>
<path d="M303 545.5H244.2" stroke="#111" stroke-width="1.0" fill="none"/>
<path d="M248.1 542.4L244 545.5L248.1 548.6" stroke="#111" stroke-width="1.25" fill="none" stroke-linecap="round" stroke-linejoin="miter"/>
<text x="308.2" y="549.2" font-size="13.6" font-style="italic" fill="#222">ω</text>
<text x="318" y="551.4" font-size="8.8" font-style="italic" fill="#222">r,0</text>
<text x="332.6" y="549" font-size="12.4" fill="#222">=</text>
<text x="341.8" y="549.2" font-size="13.6" fill="#222">0</text>
<path d="M499 557.36v-2.1M499 384.36v2.1M509.85 557.36v-1.2M509.85 384.36v1.2M520.7 557.36v-2.1M520.7 384.36v2.1M531.55 557.36v-1.2M531.55 384.36v1.2M542.4 557.36v-2.1M542.4 384.36v2.1M553.25 557.36v-1.2M553.25 384.36v1.2M564.1 557.36v-2.1M564.1 384.36v2.1M574.95 557.36v-1.2M574.95 384.36v1.2M585.8 557.36v-2.1M585.8 384.36v2.1M596.65 557.36v-1.2M596.65 384.36v1.2M607.5 557.36v-2.1M607.5 384.36v2.1M618.35 557.36v-1.2M618.35 384.36v1.2M629.2 557.36v-2.1M629.2 384.36v2.1M640.05 557.36v-1.2M640.05 384.36v1.2M650.9 557.36v-2.1M650.9 384.36v2.1M661.75 557.36v-1.2M661.75 384.36v1.2M672.6 557.36v-2.1M672.6 384.36v2.1M499 557.36h2.1M672.6 557.36h-2.1M499 551.59h1.2M672.6 551.59h-1.2M499 545.83h1.2M672.6 545.83h-1.2M499 540.06h1.2M672.6 540.06h-1.2M499 534.29h1.2M672.6 534.29h-1.2M499 528.53h2.1M672.6 528.53h-2.1M499 522.76h1.2M672.6 522.76h-1.2M499 516.99h1.2M672.6 516.99h-1.2M499 511.23h1.2M672.6 511.23h-1.2M499 505.46h1.2M672.6 505.46h-1.2M499 499.69h2.1M672.6 499.69h-2.1M499 493.93h1.2M672.6 493.93h-1.2M499 488.16h1.2M672.6 488.16h-1.2M499 482.39h1.2M672.6 482.39h-1.2M499 476.63h1.2M672.6 476.63h-1.2M499 470.86h2.1M672.6 470.86h-2.1M499 465.09h1.2M672.6 465.09h-1.2M499 459.33h1.2M672.6 459.33h-1.2M499 453.56h1.2M672.6 453.56h-1.2M499 447.79h1.2M672.6 447.79h-1.2M499 442.03h2.1M672.6 442.03h-2.1M499 436.26h1.2M672.6 436.26h-1.2M499 430.49h1.2M672.6 430.49h-1.2M499 424.73h1.2M672.6 424.73h-1.2M499 418.96h1.2M672.6 418.96h-1.2M499 413.19h2.1M672.6 413.19h-2.1M499 407.43h1.2M672.6 407.43h-1.2M499 401.66h1.2M672.6 401.66h-1.2M499 395.89h1.2M672.6 395.89h-1.2M499 390.13h1.2M672.6 390.13h-1.2M499 384.36h2.1M672.6 384.36h-2.1" stroke="#666" stroke-width="0.7" fill="none"/>
<rect x="499" y="384.36" width="173.6" height="173" fill="none" stroke="#666" stroke-width="0.75"/>
<text class="b" x="684.6" y="562.2" text-anchor="end" font-size="15.2"  >-3</text>
<text class="b" x="684.6" y="534.46" text-anchor="end" font-size="15.2"  >-2</text>
<text class="b" x="684.6" y="505.63" text-anchor="end" font-size="15.2"  >-1</text>
<text class="b" x="684.6" y="476.8" text-anchor="end" font-size="15.2"  >0</text>
<text class="b" x="684.6" y="447.96" text-anchor="end" font-size="15.2"  >1</text>
<text class="b" x="684.6" y="419.13" text-anchor="end" font-size="15.2"  >2</text>
<text class="b" x="684.6" y="390.3" text-anchor="end" font-size="15.2"  >3</text>
<g transform="translate(701.6,472.86) rotate(-90)">
<text class="b" x="-33.66" y="0" font-size="16.3" font-style="italic" fill="#000">r</text>
<text class="b" x="-26.11" y="0" font-size="16.3" fill="#000">cos</text>
<text class="b" x="-4.08" y="0" font-size="16.3" font-style="italic" fill="#000">θ</text>
<text class="b" x="7.92" y="0" font-size="16.3" fill="#000">[</text>
<text class="b" x="13.65" y="0" font-size="16.3" font-style="italic" fill="#000">M</text>
<text class="b" x="28.23" y="0" font-size="16.3" fill="#000">]</text>
</g>
<path d="M505.4 406.5H526.17" stroke="#222" stroke-width="0.75"/>
<text x="507.5" y="404.55" font-size="9" font-style="italic" fill="#222">∂</text>
<text x="512.38" y="404.55" font-size="9" font-style="italic" fill="#222">ω</text>
<text x="518.75" y="405.38" font-size="6.23" font-style="italic" fill="#222">r,0</text>
<text x="509.9" y="414.23" font-size="9" font-style="italic" fill="#222">∂</text>
<text x="515.75" y="414.23" font-size="9" font-style="italic" fill="#222">r</text>
<text x="519.65" y="415.5" font-size="4.98" fill="#222">0</text>
<path d="M528.05 397.73V415.12" stroke="#222" stroke-width="0.8"/>
<text x="535.85" y="409.88" font-size="10.35" fill="#222">=</text>
<text x="544.25" y="409.73" font-size="9.9" fill="#222">0</text>
<text x="529.85" y="416.7" font-size="6.15" font-style="italic" fill="#222">β</text>
<text x="534.35" y="416.55" font-size="5.53" fill="#222">=</text>
<text x="538.7" y="416.7" font-size="6.15" font-style="italic" fill="#222">β</text>
<text x="542" y="417.9" font-size="4.65" font-style="italic" fill="#222">cusp</text>
<path d="M572.3 408.2H600.97" stroke="#222" stroke-width="0.75"/>
<text x="575.2" y="405.51" font-size="12.42" font-style="italic" fill="#222">∂</text>
<text x="581.93" y="405.51" font-size="12.42" font-style="italic" fill="#222">ω</text>
<text x="590.72" y="406.65" font-size="8.59" font-style="italic" fill="#222">r,0</text>
<text x="578.51" y="418.86" font-size="12.42" font-style="italic" fill="#222">∂</text>
<text x="586.58" y="418.86" font-size="12.42" font-style="italic" fill="#222">r</text>
<text x="591.96" y="420.62" font-size="6.87" fill="#222">0</text>
<path d="M603.56 396.09V420.1" stroke="#222" stroke-width="0.8"/>
<text x="614.32" y="412.86" font-size="14.28" fill="#222">=</text>
<text x="625.91" y="412.65" font-size="13.66" fill="#222">0</text>
<text x="606.04" y="422.28" font-size="8.49" font-style="italic" fill="#222">β</text>
<text x="612.25" y="422.07" font-size="7.64" fill="#222">=</text>
<text x="618.46" y="422.28" font-size="7.81" fill="#222">0</text>
<path d="M49.26 746.29v-1.5M49.26 573.29v1.5M54.59 746.29v-1.5M54.59 573.29v1.5M59.92 746.29v-2.7M59.92 573.29v2.7M65.25 746.29v-1.5M65.25 573.29v1.5M70.58 746.29v-1.5M70.58 573.29v1.5M75.91 746.29v-1.5M75.91 573.29v1.5M81.24 746.29v-1.5M81.24 573.29v1.5M86.57 746.29v-2.7M86.57 573.29v2.7M91.9 746.29v-1.5M91.9 573.29v1.5M97.23 746.29v-1.5M97.23 573.29v1.5M102.56 746.29v-1.5M102.56 573.29v1.5M107.89 746.29v-1.5M107.89 573.29v1.5M113.22 746.29v-2.7M113.22 573.29v2.7M118.54 746.29v-1.5M118.54 573.29v1.5M123.87 746.29v-1.5M123.87 573.29v1.5M129.2 746.29v-1.5M129.2 573.29v1.5M134.53 746.29v-1.5M134.53 573.29v1.5M139.86 746.29v-2.7M139.86 573.29v2.7M145.19 746.29v-1.5M145.19 573.29v1.5M150.52 746.29v-1.5M150.52 573.29v1.5M155.85 746.29v-1.5M155.85 573.29v1.5M161.18 746.29v-1.5M161.18 573.29v1.5M166.51 746.29v-2.7M166.51 573.29v2.7M171.84 746.29v-1.5M171.84 573.29v1.5M177.17 746.29v-1.5M177.17 573.29v1.5M182.5 746.29v-1.5M182.5 573.29v1.5M187.82 746.29v-1.5M187.82 573.29v1.5M193.15 746.29v-2.7M193.15 573.29v2.7M198.48 746.29v-1.5M198.48 573.29v1.5M203.81 746.29v-1.5M203.81 573.29v1.5M209.14 746.29v-1.5M209.14 573.29v1.5M214.47 746.29v-1.5M214.47 573.29v1.5M219.8 746.29v-2.7M219.8 573.29v2.7M46.6 746.29h2.7M219.8 746.29h-2.7M46.6 739.08h1.5M219.8 739.08h-1.5M46.6 731.87h1.5M219.8 731.87h-1.5M46.6 724.66h1.5M219.8 724.66h-1.5M46.6 717.46h2.7M219.8 717.46h-2.7M46.6 710.25h1.5M219.8 710.25h-1.5M46.6 703.04h1.5M219.8 703.04h-1.5M46.6 695.83h1.5M219.8 695.83h-1.5M46.6 688.62h2.7M219.8 688.62h-2.7M46.6 681.41h1.5M219.8 681.41h-1.5M46.6 674.21h1.5M219.8 674.21h-1.5M46.6 667h1.5M219.8 667h-1.5M46.6 659.79h2.7M219.8 659.79h-2.7M46.6 652.58h1.5M219.8 652.58h-1.5M46.6 645.37h1.5M219.8 645.37h-1.5M46.6 638.16h1.5M219.8 638.16h-1.5M46.6 630.96h2.7M219.8 630.96h-2.7M46.6 623.75h1.5M219.8 623.75h-1.5M46.6 616.54h1.5M219.8 616.54h-1.5M46.6 609.33h1.5M219.8 609.33h-1.5M46.6 602.12h2.7M219.8 602.12h-2.7M46.6 594.91h1.5M219.8 594.91h-1.5M46.6 587.71h1.5M219.8 587.71h-1.5M46.6 580.5h1.5M219.8 580.5h-1.5M46.6 573.29h2.7M219.8 573.29h-2.7" stroke="#666" stroke-width="0.7" fill="none"/>
<rect x="46.6" y="573.29" width="173.2" height="173" fill="none" stroke="#666" stroke-width="0.75"/>
<text class="b" x="43.9" y="751.23" text-anchor="end" font-size="15.2"  >0</text>
<text class="b" x="43.9" y="723.39" text-anchor="end" font-size="15.2"  >0.2</text>
<text class="b" x="43.9" y="694.56" text-anchor="end" font-size="15.2"  >0.4</text>
<text class="b" x="43.9" y="665.73" text-anchor="end" font-size="15.2"  >0.6</text>
<text class="b" x="43.9" y="636.89" text-anchor="end" font-size="15.2"  >0.8</text>
<text class="b" x="43.9" y="608.06" text-anchor="end" font-size="15.2"  >1.0</text>
<text class="b" x="43.9" y="579.23" text-anchor="end" font-size="15.2"  >1.2</text>
<g transform="translate(11,657.89) rotate(-90)">
<text class="b" x="-64.18" y="0" font-size="15.4" font-style="italic" fill="#000">ω</text>
<text class="b" x="-53.01" y="3.2" font-size="10.2" font-style="italic" fill="#000">r,0</text>
<text class="b" x="-39.39" y="0" font-size="15.4" font-style="italic" fill="#000">/</text>
<text class="b" x="-34.11" y="0" font-size="15.4" font-style="italic" fill="#000">2π</text>
<text class="b" x="-13.9" y="0" font-size="15.4" fill="#000">[kHz·</text>
<text class="b" x="22.52" y="0" font-size="15.4" font-style="italic" fill="#000">M/M</text>
<circle cx="55.65" cy="1" r="3" fill="none" stroke="#000" stroke-width="0.8"/>
<circle cx="55.65" cy="1" r="0.55" fill="#000"/>
<text class="b" x="59.05" y="0" font-size="15.4" fill="#000">]</text>
</g>
<text class="b" x="145.86" y="590.29" font-size="15.2" fill="#000">HT (</text>
<text class="b" x="174.99" y="590.29" font-size="15.2" font-style="italic" fill="#000">q</text>
<text class="b" x="185.79" y="590.29" font-size="15.2" fill="#000">=</text>
<text class="b" x="197.76" y="590.29" font-size="15.2" font-style="italic" fill="#000">j</text>
<text class="b" x="202.18" y="590.29" font-size="15.2" fill="#000">²</text>
<text class="b" x="206.94" y="590.29" font-size="15.2" fill="#000">)</text>
<path d="M238.47 747.19v-1.5M238.47 573.29v1.5M243.82 747.19v-1.5M243.82 573.29v1.5M249.17 747.19v-2.7M249.17 573.29v2.7M254.52 747.19v-1.5M254.52 573.29v1.5M259.86 747.19v-1.5M259.86 573.29v1.5M265.21 747.19v-1.5M265.21 573.29v1.5M270.56 747.19v-1.5M270.56 573.29v1.5M275.91 747.19v-2.7M275.91 573.29v2.7M281.26 747.19v-1.5M281.26 573.29v1.5M286.6 747.19v-1.5M286.6 573.29v1.5M291.95 747.19v-1.5M291.95 573.29v1.5M297.3 747.19v-1.5M297.3 573.29v1.5M302.65 747.19v-2.7M302.65 573.29v2.7M307.99 747.19v-1.5M307.99 573.29v1.5M313.34 747.19v-1.5M313.34 573.29v1.5M318.69 747.19v-1.5M318.69 573.29v1.5M324.04 747.19v-1.5M324.04 573.29v1.5M329.38 747.19v-2.7M329.38 573.29v2.7M334.73 747.19v-1.5M334.73 573.29v1.5M340.08 747.19v-1.5M340.08 573.29v1.5M345.43 747.19v-1.5M345.43 573.29v1.5M350.78 747.19v-1.5M350.78 573.29v1.5M356.12 747.19v-2.7M356.12 573.29v2.7M361.47 747.19v-1.5M361.47 573.29v1.5M366.82 747.19v-1.5M366.82 573.29v1.5M372.17 747.19v-1.5M372.17 573.29v1.5M377.51 747.19v-1.5M377.51 573.29v1.5M382.86 747.19v-2.7M382.86 573.29v2.7M388.21 747.19v-1.5M388.21 573.29v1.5M393.56 747.19v-1.5M393.56 573.29v1.5M398.9 747.19v-1.5M398.9 573.29v1.5M404.25 747.19v-1.5M404.25 573.29v1.5M409.6 747.19v-2.7M409.6 573.29v2.7M235.8 747.19h2.7M409.6 747.19h-2.7M235.8 740.23h1.5M409.6 740.23h-1.5M235.8 733.28h1.5M409.6 733.28h-1.5M235.8 726.32h1.5M409.6 726.32h-1.5M235.8 719.37h1.5M409.6 719.37h-1.5M235.8 712.41h2.7M409.6 712.41h-2.7M235.8 705.45h1.5M409.6 705.45h-1.5M235.8 698.5h1.5M409.6 698.5h-1.5M235.8 691.54h1.5M409.6 691.54h-1.5M235.8 684.59h1.5M409.6 684.59h-1.5M235.8 677.63h2.7M409.6 677.63h-2.7M235.8 670.67h1.5M409.6 670.67h-1.5M235.8 663.72h1.5M409.6 663.72h-1.5M235.8 656.76h1.5M409.6 656.76h-1.5M235.8 649.81h1.5M409.6 649.81h-1.5M235.8 642.85h2.7M409.6 642.85h-2.7M235.8 635.89h1.5M409.6 635.89h-1.5M235.8 628.94h1.5M409.6 628.94h-1.5M235.8 621.98h1.5M409.6 621.98h-1.5M235.8 615.03h1.5M409.6 615.03h-1.5M235.8 608.07h2.7M409.6 608.07h-2.7M235.8 601.11h1.5M409.6 601.11h-1.5M235.8 594.16h1.5M409.6 594.16h-1.5M235.8 587.2h1.5M409.6 587.2h-1.5M235.8 580.25h1.5M409.6 580.25h-1.5M235.8 573.29h2.7M409.6 573.29h-2.7" stroke="#666" stroke-width="0.7" fill="none"/>
<rect x="235.8" y="573.29" width="173.8" height="173.9" fill="none" stroke="#666" stroke-width="0.75"/>
<text class="b" x="422" y="751.63" text-anchor="middle" font-size="15.2"  >0</text>
<text class="b" x="422" y="718.35" text-anchor="middle" font-size="15.2"  >0.5</text>
<text class="b" x="422" y="683.57" text-anchor="middle" font-size="15.2"  >1.0</text>
<text class="b" x="422" y="648.79" text-anchor="middle" font-size="15.2"  >1.5</text>
<text class="b" x="422" y="614.01" text-anchor="middle" font-size="15.2"  >2.0</text>
<text class="b" x="422" y="579.23" text-anchor="middle" font-size="15.2"  >2.5</text>
<g transform="translate(449.8,657.49) rotate(-90)">
<text class="b" x="-65.85" y="0" font-size="15.6" font-style="italic" fill="#000">ω</text>
<text class="b" x="-54.54" y="3.2" font-size="10.2" fill="#000">r,-1</text>
<text class="b" x="-38.5" y="0" font-size="15.6" font-style="italic" fill="#000">/</text>
<text class="b" x="-33.36" y="0" font-size="15.6" font-style="italic" fill="#000">2π</text>
<text class="b" x="-13.15" y="0" font-size="15.6" fill="#000">[kHz·</text>
<text class="b" x="23.73" y="0" font-size="15.6" font-style="italic" fill="#000">M/M</text>
<circle cx="57.26" cy="1" r="3" fill="none" stroke="#000" stroke-width="0.8"/>
<circle cx="57.26" cy="1" r="0.55" fill="#000"/>
<text class="b" x="60.66" y="0" font-size="15.6" fill="#000">]</text>
</g>
<path d="M308.2 597.5H274" stroke="#111" stroke-width="1.0" fill="none"/>
<path d="M277.9 594.4L273.8 597.5L277.9 600.6" stroke="#111" stroke-width="1.25" fill="none" stroke-linecap="round" stroke-linejoin="miter"/>
<path d="M314.8 597.8H343.05" stroke="#222" stroke-width="0.75"/>
<text x="317.66" y="595.15" font-size="12.24" font-style="italic" fill="#222">∂</text>
<text x="324.29" y="595.15" font-size="12.24" font-style="italic" fill="#222">ω</text>
<text x="332.96" y="596.27" font-size="8.47" font-style="italic" fill="#222">r,0</text>
<text x="320.92" y="608.31" font-size="12.24" font-style="italic" fill="#222">∂</text>
<text x="328.88" y="608.31" font-size="12.24" font-style="italic" fill="#222">r</text>
<text x="334.18" y="610.04" font-size="6.77" fill="#222">0</text>
<path d="M345.6 585.87V609.53" stroke="#222" stroke-width="0.8"/>
<text x="356.21" y="602.39" font-size="14.08" fill="#222">=</text>
<text x="367.64" y="602.19" font-size="13.46" fill="#222">0</text>
<text x="348.05" y="611.67" font-size="8.36" font-style="italic" fill="#222">β</text>
<text x="354.17" y="611.47" font-size="7.53" fill="#222">=</text>
<text x="360.09" y="611.67" font-size="8.36" font-style="italic" fill="#222">β</text>
<text x="364.58" y="613.3" font-size="6.32" font-style="italic" fill="#222">cusp</text>
<path d="M322.2 636.5H287.1" stroke="#111" stroke-width="1.0" fill="none"/>
<path d="M291 633.4L286.9 636.5L291 639.6" stroke="#111" stroke-width="1.25" fill="none" stroke-linecap="round" stroke-linejoin="miter"/>
<path d="M324.8 638.1H353.05" stroke="#222" stroke-width="0.75"/>
<text x="327.66" y="635.45" font-size="12.24" font-style="italic" fill="#222">∂</text>
<text x="334.29" y="635.45" font-size="12.24" font-style="italic" fill="#222">ω</text>
<text x="342.96" y="636.57" font-size="8.47" font-style="italic" fill="#222">r,0</text>
<text x="330.92" y="648.61" font-size="12.24" font-style="italic" fill="#222">∂</text>
<text x="338.88" y="648.61" font-size="12.24" font-style="italic" fill="#222">r</text>
<text x="344.18" y="650.34" font-size="6.77" fill="#222">0</text>
<path d="M355.6 626.17V649.83" stroke="#222" stroke-width="0.8"/>
<text x="366.21" y="642.69" font-size="14.08" fill="#222">=</text>
<text x="377.64" y="642.49" font-size="13.46" fill="#222">0</text>
<text x="358.05" y="651.97" font-size="8.36" font-style="italic" fill="#222">β</text>
<text x="364.17" y="651.77" font-size="7.53" fill="#222">=</text>
<text x="370.29" y="651.97" font-size="7.69" fill="#222">0</text>
<path d="M303 734.5H242.4" stroke="#111" stroke-width="1.0" fill="none"/>
<path d="M246.3 731.4L242.2 734.5L246.3 737.6" stroke="#111" stroke-width="1.25" fill="none" stroke-linecap="round" stroke-linejoin="miter"/>
<text x="308.2" y="738.5" font-size="13.6" font-style="italic" fill="#222">ω</text>
<text x="318" y="740.7" font-size="8.8" font-style="italic" fill="#222">r,0</text>
<text x="332.6" y="738.3" font-size="12.4" fill="#222">=</text>
<text x="341.8" y="738.5" font-size="13.6" fill="#222">0</text>
<path d="M499 746.29v-2.1M499 573.29v2.1M509.85 746.29v-1.2M509.85 573.29v1.2M520.7 746.29v-2.1M520.7 573.29v2.1M531.55 746.29v-1.2M531.55 573.29v1.2M542.4 746.29v-2.1M542.4 573.29v2.1M553.25 746.29v-1.2M553.25 573.29v1.2M564.1 746.29v-2.1M564.1 573.29v2.1M574.95 746.29v-1.2M574.95 573.29v1.2M585.8 746.29v-2.1M585.8 573.29v2.1M596.65 746.29v-1.2M596.65 573.29v1.2M607.5 746.29v-2.1M607.5 573.29v2.1M618.35 746.29v-1.2M618.35 573.29v1.2M629.2 746.29v-2.1M629.2 573.29v2.1M640.05 746.29v-1.2M640.05 573.29v1.2M650.9 746.29v-2.1M650.9 573.29v2.1M661.75 746.29v-1.2M661.75 573.29v1.2M672.6 746.29v-2.1M672.6 573.29v2.1M499 746.29h2.1M672.6 746.29h-2.1M499 740.52h1.2M672.6 740.52h-1.2M499 734.76h1.2M672.6 734.76h-1.2M499 728.99h1.2M672.6 728.99h-1.2M499 723.22h1.2M672.6 723.22h-1.2M499 717.46h2.1M672.6 717.46h-2.1M499 711.69h1.2M672.6 711.69h-1.2M499 705.92h1.2M672.6 705.92h-1.2M499 700.16h1.2M672.6 700.16h-1.2M499 694.39h1.2M672.6 694.39h-1.2M499 688.62h2.1M672.6 688.62h-2.1M499 682.86h1.2M672.6 682.86h-1.2M499 677.09h1.2M672.6 677.09h-1.2M499 671.32h1.2M672.6 671.32h-1.2M499 665.56h1.2M672.6 665.56h-1.2M499 659.79h2.1M672.6 659.79h-2.1M499 654.02h1.2M672.6 654.02h-1.2M499 648.26h1.2M672.6 648.26h-1.2M499 642.49h1.2M672.6 642.49h-1.2M499 636.72h1.2M672.6 636.72h-1.2M499 630.96h2.1M672.6 630.96h-2.1M499 625.19h1.2M672.6 625.19h-1.2M499 619.42h1.2M672.6 619.42h-1.2M499 613.66h1.2M672.6 613.66h-1.2M499 607.89h1.2M672.6 607.89h-1.2M499 602.12h2.1M672.6 602.12h-2.1M499 596.36h1.2M672.6 596.36h-1.2M499 590.59h1.2M672.6 590.59h-1.2M499 584.82h1.2M672.6 584.82h-1.2M499 579.06h1.2M672.6 579.06h-1.2M499 573.29h2.1M672.6 573.29h-2.1" stroke="#666" stroke-width="0.7" fill="none"/>
<rect x="499" y="573.29" width="173.6" height="173" fill="none" stroke="#666" stroke-width="0.75"/>
<text class="b" x="684.6" y="751.13" text-anchor="end" font-size="15.2"  >-3</text>
<text class="b" x="684.6" y="723.39" text-anchor="end" font-size="15.2"  >-2</text>
<text class="b" x="684.6" y="694.56" text-anchor="end" font-size="15.2"  >-1</text>
<text class="b" x="684.6" y="665.73" text-anchor="end" font-size="15.2"  >0</text>
<text class="b" x="684.6" y="636.89" text-anchor="end" font-size="15.2"  >1</text>
<text class="b" x="684.6" y="608.06" text-anchor="end" font-size="15.2"  >2</text>
<text class="b" x="684.6" y="579.23" text-anchor="end" font-size="15.2"  >3</text>
<g transform="translate(701.6,661.79) rotate(-90)">
<text class="b" x="-33.66" y="0" font-size="16.3" font-style="italic" fill="#000">r</text>
<text class="b" x="-26.11" y="0" font-size="16.3" fill="#000">cos</text>
<text class="b" x="-4.08" y="0" font-size="16.3" font-style="italic" fill="#000">θ</text>
<text class="b" x="7.92" y="0" font-size="16.3" fill="#000">[</text>
<text class="b" x="13.65" y="0" font-size="16.3" font-style="italic" fill="#000">M</text>
<text class="b" x="28.23" y="0" font-size="16.3" fill="#000">]</text>
</g>
<path d="M506 596.2H526.77" stroke="#222" stroke-width="0.75"/>
<text x="508.1" y="594.25" font-size="9" font-style="italic" fill="#222">∂</text>
<text x="512.98" y="594.25" font-size="9" font-style="italic" fill="#222">ω</text>
<text x="519.35" y="595.08" font-size="6.23" font-style="italic" fill="#222">r,0</text>
<text x="510.5" y="603.93" font-size="9" font-style="italic" fill="#222">∂</text>
<text x="516.35" y="603.93" font-size="9" font-style="italic" fill="#222">r</text>
<text x="520.25" y="605.2" font-size="4.98" fill="#222">0</text>
<path d="M528.65 587.43V604.83" stroke="#222" stroke-width="0.8"/>
<text x="536.45" y="599.58" font-size="10.35" fill="#222">=</text>
<text x="544.85" y="599.43" font-size="9.9" fill="#222">0</text>
<text x="530.45" y="606.4" font-size="6.15" font-style="italic" fill="#222">β</text>
<text x="534.95" y="606.25" font-size="5.53" fill="#222">=</text>
<text x="539.3" y="606.4" font-size="6.15" font-style="italic" fill="#222">β</text>
<text x="542.6" y="607.6" font-size="4.65" font-style="italic" fill="#222">cusp</text>
<path d="M573.4 597.7H602.07" stroke="#222" stroke-width="0.75"/>
<text x="576.3" y="595.01" font-size="12.42" font-style="italic" fill="#222">∂</text>
<text x="583.03" y="595.01" font-size="12.42" font-style="italic" fill="#222">ω</text>
<text x="591.82" y="596.15" font-size="8.59" font-style="italic" fill="#222">r,0</text>
<text x="579.61" y="608.36" font-size="12.42" font-style="italic" fill="#222">∂</text>
<text x="587.68" y="608.36" font-size="12.42" font-style="italic" fill="#222">r</text>
<text x="593.06" y="610.12" font-size="6.87" fill="#222">0</text>
<path d="M604.66 585.59V609.6" stroke="#222" stroke-width="0.8"/>
<text x="615.42" y="602.36" font-size="14.28" fill="#222">=</text>
<text x="627.01" y="602.15" font-size="13.66" fill="#222">0</text>
<text x="607.14" y="611.78" font-size="8.49" font-style="italic" fill="#222">β</text>
<text x="613.35" y="611.57" font-size="7.64" fill="#222">=</text>
<text x="619.56" y="611.78" font-size="7.81" fill="#222">0</text>
<path d="M49.26 935.22v-1.5M49.26 762.22v1.5M54.59 935.22v-1.5M54.59 762.22v1.5M59.92 935.22v-2.7M59.92 762.22v2.7M65.25 935.22v-1.5M65.25 762.22v1.5M70.58 935.22v-1.5M70.58 762.22v1.5M75.91 935.22v-1.5M75.91 762.22v1.5M81.24 935.22v-1.5M81.24 762.22v1.5M86.57 935.22v-2.7M86.57 762.22v2.7M91.9 935.22v-1.5M91.9 762.22v1.5M97.23 935.22v-1.5M97.23 762.22v1.5M102.56 935.22v-1.5M102.56 762.22v1.5M107.89 935.22v-1.5M107.89 762.22v1.5M113.22 935.22v-2.7M113.22 762.22v2.7M118.54 935.22v-1.5M118.54 762.22v1.5M123.87 935.22v-1.5M123.87 762.22v1.5M129.2 935.22v-1.5M129.2 762.22v1.5M134.53 935.22v-1.5M134.53 762.22v1.5M139.86 935.22v-2.7M139.86 762.22v2.7M145.19 935.22v-1.5M145.19 762.22v1.5M150.52 935.22v-1.5M150.52 762.22v1.5M155.85 935.22v-1.5M155.85 762.22v1.5M161.18 935.22v-1.5M161.18 762.22v1.5M166.51 935.22v-2.7M166.51 762.22v2.7M171.84 935.22v-1.5M171.84 762.22v1.5M177.17 935.22v-1.5M177.17 762.22v1.5M182.5 935.22v-1.5M182.5 762.22v1.5M187.82 935.22v-1.5M187.82 762.22v1.5M193.15 935.22v-2.7M193.15 762.22v2.7M198.48 935.22v-1.5M198.48 762.22v1.5M203.81 935.22v-1.5M203.81 762.22v1.5M209.14 935.22v-1.5M209.14 762.22v1.5M214.47 935.22v-1.5M214.47 762.22v1.5M219.8 935.22v-2.7M219.8 762.22v2.7M46.6 935.22h2.7M219.8 935.22h-2.7M46.6 928.01h1.5M219.8 928.01h-1.5M46.6 920.8h1.5M219.8 920.8h-1.5M46.6 913.6h1.5M219.8 913.6h-1.5M46.6 906.39h2.7M219.8 906.39h-2.7M46.6 899.18h1.5M219.8 899.18h-1.5M46.6 891.97h1.5M219.8 891.97h-1.5M46.6 884.76h1.5M219.8 884.76h-1.5M46.6 877.55h2.7M219.8 877.55h-2.7M46.6 870.35h1.5M219.8 870.35h-1.5M46.6 863.14h1.5M219.8 863.14h-1.5M46.6 855.93h1.5M219.8 855.93h-1.5M46.6 848.72h2.7M219.8 848.72h-2.7M46.6 841.51h1.5M219.8 841.51h-1.5M46.6 834.3h1.5M219.8 834.3h-1.5M46.6 827.1h1.5M219.8 827.1h-1.5M46.6 819.89h2.7M219.8 819.89h-2.7M46.6 812.68h1.5M219.8 812.68h-1.5M46.6 805.47h1.5M219.8 805.47h-1.5M46.6 798.26h1.5M219.8 798.26h-1.5M46.6 791.05h2.7M219.8 791.05h-2.7M46.6 783.85h1.5M219.8 783.85h-1.5M46.6 776.64h1.5M219.8 776.64h-1.5M46.6 769.43h1.5M219.8 769.43h-1.5M46.6 762.22h2.7M219.8 762.22h-2.7" stroke="#666" stroke-width="0.7" fill="none"/>
<rect x="46.6" y="762.22" width="173.2" height="173" fill="none" stroke="#666" stroke-width="0.75"/>
<text class="b" x="43.9" y="941.16" text-anchor="end" font-size="15.2"  >0</text>
<text class="b" x="43.9" y="912.32" text-anchor="end" font-size="15.2"  >0.2</text>
<text class="b" x="43.9" y="883.49" text-anchor="end" font-size="15.2"  >0.4</text>
<text class="b" x="43.9" y="854.66" text-anchor="end" font-size="15.2"  >0.6</text>
<text class="b" x="43.9" y="825.82" text-anchor="end" font-size="15.2"  >0.8</text>
<text class="b" x="43.9" y="796.99" text-anchor="end" font-size="15.2"  >1.0</text>
<text class="b" x="43.9" y="768.16" text-anchor="end" font-size="15.2"  >1.2</text>
<text class="b" x="59.92" y="950.2" text-anchor="middle" font-size="15.2"  >5</text>
<text class="b" x="86.57" y="950.2" text-anchor="middle" font-size="15.2"  >6</text>
<text class="b" x="113.22" y="950.2" text-anchor="middle" font-size="15.2"  >7</text>
<text class="b" x="139.86" y="950.2" text-anchor="middle" font-size="15.2"  >8</text>
<text class="b" x="166.51" y="950.2" text-anchor="middle" font-size="15.2"  >9</text>
<text class="b" x="193.15" y="950.2" text-anchor="middle" font-size="15.2"  >10</text>
<text class="b" x="219.8" y="950.2" text-anchor="middle" font-size="15.2"  >11</text>
<g transform="translate(11,846.82) rotate(-90)">
<text class="b" x="-64.18" y="0" font-size="15.4" font-style="italic" fill="#000">ω</text>
<text class="b" x="-53.01" y="3.2" font-size="10.2" font-style="italic" fill="#000">r,0</text>
<text class="b" x="-39.39" y="0" font-size="15.4" font-style="italic" fill="#000">/</text>
<text class="b" x="-34.11" y="0" font-size="15.4" font-style="italic" fill="#000">2π</text>
<text class="b" x="-13.9" y="0" font-size="15.4" fill="#000">[kHz·</text>
<text class="b" x="22.52" y="0" font-size="15.4" font-style="italic" fill="#000">M/M</text>
<circle cx="55.65" cy="1" r="3" fill="none" stroke="#000" stroke-width="0.8"/>
<circle cx="55.65" cy="1" r="0.55" fill="#000"/>
<text class="b" x="59.05" y="0" font-size="15.4" fill="#000">]</text>
</g>
<text class="b" x="131.26" y="779.22" font-size="15.2" fill="#000">HT (</text>
<text class="b" x="160.39" y="779.22" font-size="15.2" font-style="italic" fill="#000">q</text>
<text class="b" x="171.99" y="779.22" font-size="15.2" fill="#000">=</text>
<text class="b" x="184.76" y="779.22" font-size="15.2" fill="#000">10</text>
<text class="b" x="200.36" y="779.22" font-size="15.2" font-style="italic" fill="#000">j</text>
<text class="b" x="204.98" y="779.22" font-size="15.2" fill="#000">²</text>
<text class="b" x="209.94" y="779.22" font-size="15.2" fill="#000">)</text>
<text class="b" x="114.47" y="966" font-size="15.2" font-style="italic" fill="#000">r</text>
<text class="b" x="120.69" y="968.6" font-size="9.5" fill="#000">0</text>
<text class="b" x="128.04" y="966" font-size="15.2" fill="#000">[</text>
<text class="b" x="133.4" y="966" font-size="15.2" font-style="italic" fill="#000">M</text>
<text class="b" x="147.06" y="966" font-size="15.2" fill="#000">]</text>
<path d="M238.47 936.12v-1.5M238.47 762.22v1.5M243.82 936.12v-1.5M243.82 762.22v1.5M249.17 936.12v-2.7M249.17 762.22v2.7M254.52 936.12v-1.5M254.52 762.22v1.5M259.86 936.12v-1.5M259.86 762.22v1.5M265.21 936.12v-1.5M265.21 762.22v1.5M270.56 936.12v-1.5M270.56 762.22v1.5M275.91 936.12v-2.7M275.91 762.22v2.7M281.26 936.12v-1.5M281.26 762.22v1.5M286.6 936.12v-1.5M286.6 762.22v1.5M291.95 936.12v-1.5M291.95 762.22v1.5M297.3 936.12v-1.5M297.3 762.22v1.5M302.65 936.12v-2.7M302.65 762.22v2.7M307.99 936.12v-1.5M307.99 762.22v1.5M313.34 936.12v-1.5M313.34 762.22v1.5M318.69 936.12v-1.5M318.69 762.22v1.5M324.04 936.12v-1.5M324.04 762.22v1.5M329.38 936.12v-2.7M329.38 762.22v2.7M334.73 936.12v-1.5M334.73 762.22v1.5M340.08 936.12v-1.5M340.08 762.22v1.5M345.43 936.12v-1.5M345.43 762.22v1.5M350.78 936.12v-1.5M350.78 762.22v1.5M356.12 936.12v-2.7M356.12 762.22v2.7M361.47 936.12v-1.5M361.47 762.22v1.5M366.82 936.12v-1.5M366.82 762.22v1.5M372.17 936.12v-1.5M372.17 762.22v1.5M377.51 936.12v-1.5M377.51 762.22v1.5M382.86 936.12v-2.7M382.86 762.22v2.7M388.21 936.12v-1.5M388.21 762.22v1.5M393.56 936.12v-1.5M393.56 762.22v1.5M398.9 936.12v-1.5M398.9 762.22v1.5M404.25 936.12v-1.5M404.25 762.22v1.5M409.6 936.12v-2.7M409.6 762.22v2.7M235.8 936.12h2.7M409.6 936.12h-2.7M235.8 929.16h1.5M409.6 929.16h-1.5M235.8 922.21h1.5M409.6 922.21h-1.5M235.8 915.25h1.5M409.6 915.25h-1.5M235.8 908.3h1.5M409.6 908.3h-1.5M235.8 901.34h2.7M409.6 901.34h-2.7M235.8 894.38h1.5M409.6 894.38h-1.5M235.8 887.43h1.5M409.6 887.43h-1.5M235.8 880.47h1.5M409.6 880.47h-1.5M235.8 873.52h1.5M409.6 873.52h-1.5M235.8 866.56h2.7M409.6 866.56h-2.7M235.8 859.6h1.5M409.6 859.6h-1.5M235.8 852.65h1.5M409.6 852.65h-1.5M235.8 845.69h1.5M409.6 845.69h-1.5M235.8 838.74h1.5M409.6 838.74h-1.5M235.8 831.78h2.7M409.6 831.78h-2.7M235.8 824.82h1.5M409.6 824.82h-1.5M235.8 817.87h1.5M409.6 817.87h-1.5M235.8 810.91h1.5M409.6 810.91h-1.5M235.8 803.96h1.5M409.6 803.96h-1.5M235.8 797h2.7M409.6 797h-2.7M235.8 790.04h1.5M409.6 790.04h-1.5M235.8 783.09h1.5M409.6 783.09h-1.5M235.8 776.13h1.5M409.6 776.13h-1.5M235.8 769.18h1.5M409.6 769.18h-1.5M235.8 762.22h2.7M409.6 762.22h-2.7" stroke="#666" stroke-width="0.7" fill="none"/>
<rect x="235.8" y="762.22" width="173.8" height="173.9" fill="none" stroke="#666" stroke-width="0.75"/>
<text class="b" x="422" y="943.66" text-anchor="middle" font-size="15.2"  >0</text>
<text class="b" x="422" y="907.28" text-anchor="middle" font-size="15.2"  >0.5</text>
<text class="b" x="422" y="872.5" text-anchor="middle" font-size="15.2"  >1.0</text>
<text class="b" x="422" y="837.72" text-anchor="middle" font-size="15.2"  >1.5</text>
<text class="b" x="422" y="802.94" text-anchor="middle" font-size="15.2"  >2.0</text>
<text class="b" x="422" y="768.16" text-anchor="middle" font-size="15.2"  >2.5</text>
<text class="b" x="249.17" y="950.2" text-anchor="middle" font-size="15.2"  >5</text>
<text class="b" x="275.91" y="950.2" text-anchor="middle" font-size="15.2"  >6</text>
<text class="b" x="302.65" y="950.2" text-anchor="middle" font-size="15.2"  >7</text>
<text class="b" x="329.38" y="950.2" text-anchor="middle" font-size="15.2"  >8</text>
<text class="b" x="356.12" y="950.2" text-anchor="middle" font-size="15.2"  >9</text>
<text class="b" x="382.86" y="950.2" text-anchor="middle" font-size="15.2"  >10</text>
<text class="b" x="409.6" y="950.2" text-anchor="middle" font-size="15.2"  >11</text>
<g transform="translate(449.8,846.42) rotate(-90)">
<text class="b" x="-65.85" y="0" font-size="15.6" font-style="italic" fill="#000">ω</text>
<text class="b" x="-54.54" y="3.2" font-size="10.2" fill="#000">r,-1</text>
<text class="b" x="-38.5" y="0" font-size="15.6" font-style="italic" fill="#000">/</text>
<text class="b" x="-33.36" y="0" font-size="15.6" font-style="italic" fill="#000">2π</text>
<text class="b" x="-13.15" y="0" font-size="15.6" fill="#000">[kHz·</text>
<text class="b" x="23.73" y="0" font-size="15.6" font-style="italic" fill="#000">M/M</text>
<circle cx="57.26" cy="1" r="3" fill="none" stroke="#000" stroke-width="0.8"/>
<circle cx="57.26" cy="1" r="0.55" fill="#000"/>
<text class="b" x="60.66" y="0" font-size="15.6" fill="#000">]</text>
</g>
<text class="b" x="304.17" y="966" font-size="15.2" font-style="italic" fill="#000">r</text>
<text class="b" x="310.39" y="968.6" font-size="9.5" fill="#000">0</text>
<text class="b" x="317.74" y="966" font-size="15.2" fill="#000">[</text>
<text class="b" x="323.1" y="966" font-size="15.2" font-style="italic" fill="#000">M</text>
<text class="b" x="336.76" y="966" font-size="15.2" fill="#000">]</text>
<path d="M341.2 791.5H321.9" stroke="#111" stroke-width="1.0" fill="none"/>
<path d="M325.8 788.4L321.7 791.5L325.8 794.6" stroke="#111" stroke-width="1.25" fill="none" stroke-linecap="round" stroke-linejoin="miter"/>
<path d="M345.45 791.7H370.66" stroke="#222" stroke-width="0.75"/>
<text x="348" y="789.33" font-size="10.92" font-style="italic" fill="#222">∂</text>
<text x="353.91" y="789.33" font-size="10.92" font-style="italic" fill="#222">ω</text>
<text x="361.65" y="790.34" font-size="7.55" font-style="italic" fill="#222">r,0</text>
<text x="350.91" y="801.07" font-size="10.92" font-style="italic" fill="#222">∂</text>
<text x="358.01" y="801.07" font-size="10.92" font-style="italic" fill="#222">r</text>
<text x="362.74" y="802.62" font-size="6.04" fill="#222">0</text>
<path d="M372.93 781.05V802.17" stroke="#222" stroke-width="0.8"/>
<text x="382.4" y="795.8" font-size="12.56" fill="#222">=</text>
<text x="392.59" y="795.61" font-size="12.01" fill="#222">0</text>
<text x="375.12" y="804.08" font-size="7.46" font-style="italic" fill="#222">β</text>
<text x="380.58" y="803.89" font-size="6.72" fill="#222">=</text>
<text x="385.85" y="804.08" font-size="7.46" font-style="italic" fill="#222">β</text>
<text x="389.86" y="805.53" font-size="5.64" font-style="italic" fill="#222">cusp</text>
<path d="M335.5 826.3H363.2" stroke="#222" stroke-width="0.75"/>
<text x="338.3" y="823.7" font-size="12" font-style="italic" fill="#222">∂</text>
<text x="344.8" y="823.7" font-size="12" font-style="italic" fill="#222">ω</text>
<text x="353.3" y="824.8" font-size="8.3" font-style="italic" fill="#222">r,0</text>
<text x="341.5" y="836.6" font-size="12" font-style="italic" fill="#222">∂</text>
<text x="349.3" y="836.6" font-size="12" font-style="italic" fill="#222">r</text>
<text x="354.5" y="838.3" font-size="6.64" fill="#222">0</text>
<path d="M365.7 814.6V837.8" stroke="#222" stroke-width="0.8"/>
<text x="376.1" y="830.8" font-size="13.8" fill="#222">=</text>
<text x="387.3" y="830.6" font-size="13.2" fill="#222">0</text>
<text x="368.1" y="839.9" font-size="8.2" font-style="italic" fill="#222">β</text>
<text x="374.1" y="839.7" font-size="7.38" fill="#222">=</text>
<text x="380.1" y="839.9" font-size="7.54" fill="#222">0</text>
<path d="M343.8 925.5H280.3" stroke="#111" stroke-width="1.0" fill="none"/>
<path d="M284.2 922.4L280.1 925.5L284.2 928.6" stroke="#111" stroke-width="1.25" fill="none" stroke-linecap="round" stroke-linejoin="miter"/>
<text x="348.2" y="927.6" font-size="13.6" font-style="italic" fill="#222">ω</text>
<text x="358" y="929.8" font-size="8.8" font-style="italic" fill="#222">r,0</text>
<text x="372.6" y="927.4" font-size="12.4" fill="#222">=</text>
<text x="381.8" y="927.6" font-size="13.6" fill="#222">0</text>
<path d="M499 935.22v-2.1M499 762.22v2.1M509.85 935.22v-1.2M509.85 762.22v1.2M520.7 935.22v-2.1M520.7 762.22v2.1M531.55 935.22v-1.2M531.55 762.22v1.2M542.4 935.22v-2.1M542.4 762.22v2.1M553.25 935.22v-1.2M553.25 762.22v1.2M564.1 935.22v-2.1M564.1 762.22v2.1M574.95 935.22v-1.2M574.95 762.22v1.2M585.8 935.22v-2.1M585.8 762.22v2.1M596.65 935.22v-1.2M596.65 762.22v1.2M607.5 935.22v-2.1M607.5 762.22v2.1M618.35 935.22v-1.2M618.35 762.22v1.2M629.2 935.22v-2.1M629.2 762.22v2.1M640.05 935.22v-1.2M640.05 762.22v1.2M650.9 935.22v-2.1M650.9 762.22v2.1M661.75 935.22v-1.2M661.75 762.22v1.2M672.6 935.22v-2.1M672.6 762.22v2.1M499 935.22h2.1M672.6 935.22h-2.1M499 929.45h1.2M672.6 929.45h-1.2M499 923.69h1.2M672.6 923.69h-1.2M499 917.92h1.2M672.6 917.92h-1.2M499 912.15h1.2M672.6 912.15h-1.2M499 906.39h2.1M672.6 906.39h-2.1M499 900.62h1.2M672.6 900.62h-1.2M499 894.85h1.2M672.6 894.85h-1.2M499 889.09h1.2M672.6 889.09h-1.2M499 883.32h1.2M672.6 883.32h-1.2M499 877.55h2.1M672.6 877.55h-2.1M499 871.79h1.2M672.6 871.79h-1.2M499 866.02h1.2M672.6 866.02h-1.2M499 860.25h1.2M672.6 860.25h-1.2M499 854.49h1.2M672.6 854.49h-1.2M499 848.72h2.1M672.6 848.72h-2.1M499 842.95h1.2M672.6 842.95h-1.2M499 837.19h1.2M672.6 837.19h-1.2M499 831.42h1.2M672.6 831.42h-1.2M499 825.65h1.2M672.6 825.65h-1.2M499 819.89h2.1M672.6 819.89h-2.1M499 814.12h1.2M672.6 814.12h-1.2M499 808.35h1.2M672.6 808.35h-1.2M499 802.59h1.2M672.6 802.59h-1.2M499 796.82h1.2M672.6 796.82h-1.2M499 791.05h2.1M672.6 791.05h-2.1M499 785.29h1.2M672.6 785.29h-1.2M499 779.52h1.2M672.6 779.52h-1.2M499 773.75h1.2M672.6 773.75h-1.2M499 767.99h1.2M672.6 767.99h-1.2M499 762.22h2.1M672.6 762.22h-2.1" stroke="#666" stroke-width="0.7" fill="none"/>
<rect x="499" y="762.22" width="173.6" height="173" fill="none" stroke="#666" stroke-width="0.75"/>
<text class="b" x="684.6" y="941.16" text-anchor="end" font-size="15.2"  >-3</text>
<text class="b" x="684.6" y="912.32" text-anchor="end" font-size="15.2"  >-2</text>
<text class="b" x="684.6" y="883.49" text-anchor="end" font-size="15.2"  >-1</text>
<text class="b" x="684.6" y="854.66" text-anchor="end" font-size="15.2"  >0</text>
<text class="b" x="684.6" y="825.82" text-anchor="end" font-size="15.2"  >1</text>
<text class="b" x="684.6" y="796.99" text-anchor="end" font-size="15.2"  >2</text>
<text class="b" x="684.6" y="768.16" text-anchor="end" font-size="15.2"  >3</text>
<text class="b" x="499" y="950.2" text-anchor="middle" font-size="15.2"  >3</text>
<text class="b" x="520.7" y="950.2" text-anchor="middle" font-size="15.2"  >4</text>
<text class="b" x="542.4" y="950.2" text-anchor="middle" font-size="15.2"  >5</text>
<text class="b" x="564.1" y="950.2" text-anchor="middle" font-size="15.2"  >6</text>
<text class="b" x="585.8" y="950.2" text-anchor="middle" font-size="15.2"  >7</text>
<text class="b" x="607.5" y="950.2" text-anchor="middle" font-size="15.2"  >8</text>
<text class="b" x="629.2" y="950.2" text-anchor="middle" font-size="15.2"  >9</text>
<text class="b" x="650.9" y="950.2" text-anchor="middle" font-size="15.2"  >10</text>
<text class="b" x="672.6" y="950.2" text-anchor="middle" font-size="15.2"  >11</text>
<g transform="translate(701.6,850.72) rotate(-90)">
<text class="b" x="-33.66" y="0" font-size="16.3" font-style="italic" fill="#000">r</text>
<text class="b" x="-26.11" y="0" font-size="16.3" fill="#000">cos</text>
<text class="b" x="-4.08" y="0" font-size="16.3" font-style="italic" fill="#000">θ</text>
<text class="b" x="7.92" y="0" font-size="16.3" fill="#000">[</text>
<text class="b" x="13.65" y="0" font-size="16.3" font-style="italic" fill="#000">M</text>
<text class="b" x="28.23" y="0" font-size="16.3" fill="#000">]</text>
</g>
<text class="b" x="557.15" y="966" font-size="15.2" font-style="italic" fill="#000">r</text>
<text class="b" x="564.26" y="966" font-size="15.2" fill="#000">sin</text>
<text class="b" x="582.3" y="966" font-size="15.2" font-style="italic" fill="#000">θ</text>
<text class="b" x="593.77" y="966" font-size="15.2" fill="#000">[</text>
<text class="b" x="599.13" y="966" font-size="15.2" font-style="italic" fill="#000">M</text>
<text class="b" x="612.79" y="966" font-size="15.2" fill="#000">]</text>
<path d="M530.9 783.1H559.15" stroke="#222" stroke-width="0.75"/>
<text x="533.76" y="780.45" font-size="12.24" font-style="italic" fill="#222">∂</text>
<text x="540.39" y="780.45" font-size="12.24" font-style="italic" fill="#222">ω</text>
<text x="549.06" y="781.57" font-size="8.47" font-style="italic" fill="#222">r,0</text>
<text x="537.02" y="793.61" font-size="12.24" font-style="italic" fill="#222">∂</text>
<text x="544.98" y="793.61" font-size="12.24" font-style="italic" fill="#222">r</text>
<text x="550.28" y="795.34" font-size="6.77" fill="#222">0</text>
<path d="M561.7 771.17V794.83" stroke="#222" stroke-width="0.8"/>
<text x="572.31" y="787.69" font-size="14.08" fill="#222">=</text>
<text x="583.74" y="787.49" font-size="13.46" fill="#222">0</text>
<text x="564.15" y="796.97" font-size="8.36" font-style="italic" fill="#222">β</text>
<text x="570.27" y="796.77" font-size="7.53" fill="#222">=</text>
<text x="576.19" y="796.97" font-size="8.36" font-style="italic" fill="#222">β</text>
<text x="580.68" y="798.6" font-size="6.32" font-style="italic" fill="#222">cusp</text>
<path d="M613.4 783.1H639.3" stroke="#222" stroke-width="0.75"/>
<text x="616.02" y="780.67" font-size="11.22" font-style="italic" fill="#222">∂</text>
<text x="622.1" y="780.67" font-size="11.22" font-style="italic" fill="#222">ω</text>
<text x="630.04" y="781.7" font-size="7.76" font-style="italic" fill="#222">r,0</text>
<text x="619.01" y="792.73" font-size="11.22" font-style="italic" fill="#222">∂</text>
<text x="626.3" y="792.73" font-size="11.22" font-style="italic" fill="#222">r</text>
<text x="631.16" y="794.32" font-size="6.21" fill="#222">0</text>
<path d="M641.64 772.16V793.85" stroke="#222" stroke-width="0.8"/>
<text x="651.36" y="787.31" font-size="12.9" fill="#222">=</text>
<text x="661.83" y="787.12" font-size="12.34" fill="#222">0</text>
<text x="643.88" y="795.82" font-size="7.67" font-style="italic" fill="#222">β</text>
<text x="649.49" y="795.63" font-size="6.9" fill="#222">=</text>
<text x="655.1" y="795.82" font-size="7.05" fill="#222">0</text>
</svg>
</body></html>
